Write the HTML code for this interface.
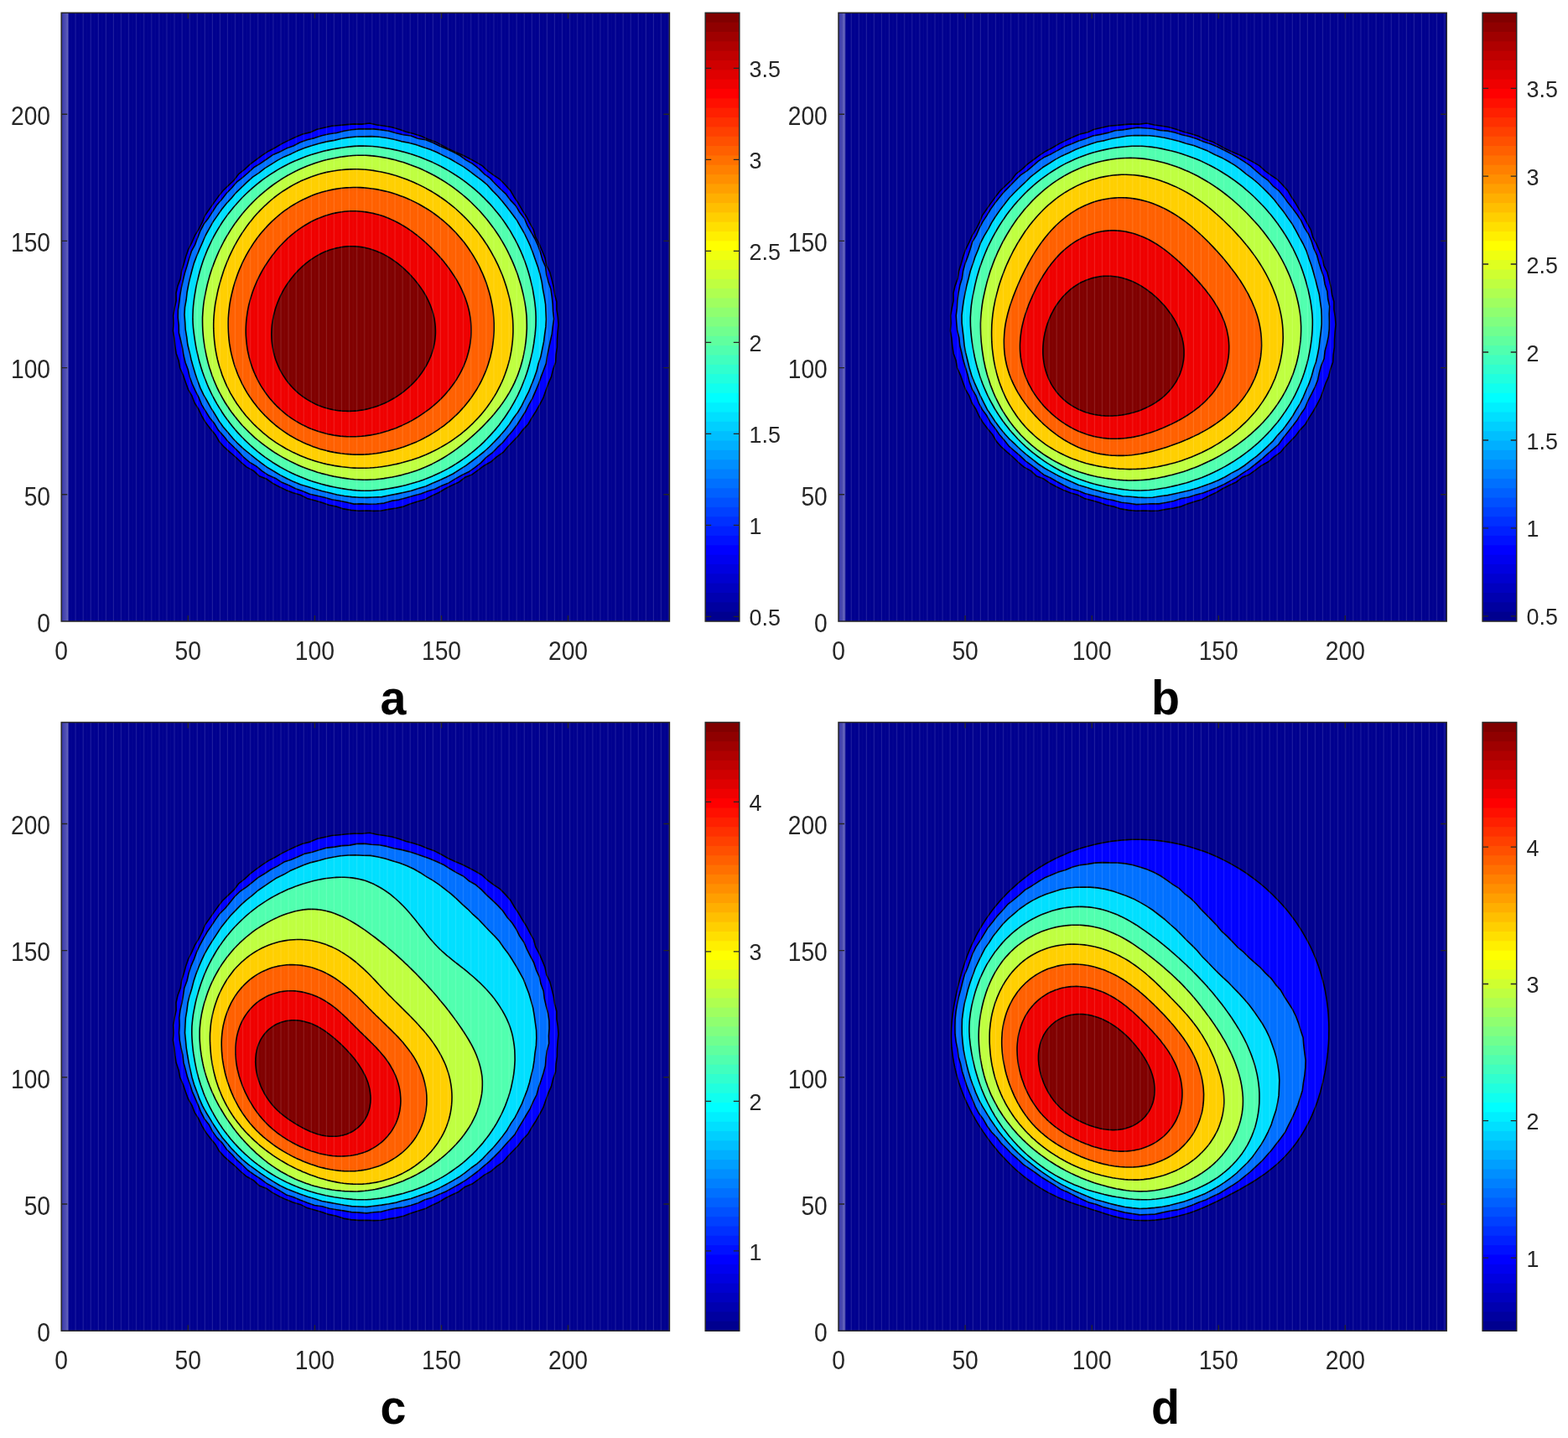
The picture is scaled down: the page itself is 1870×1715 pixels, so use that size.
<!DOCTYPE html>
<html lang="en"><head><meta charset="utf-8"><title>Contour plots a-d</title>
<style>html,body{margin:0;padding:0;background:#fff}body{width:1870px;height:1715px;overflow:hidden}svg{display:block}text{font-family:"Liberation Sans", Arial, Helvetica, sans-serif}.t{font-size:31px;fill:#262626}.c{font-size:28.3px;fill:#262626}.L{font-size:57px;font-weight:bold;fill:#000}</style></head><body>
<svg width="1870" height="1715" viewBox="0 0 1870 1715">
<defs>
<pattern id="streak" x="72.5" y="0" width="9.07" height="40" patternUnits="userSpaceOnUse"><rect x="8" y="0" width="0.8" height="40" fill="#fff" fill-opacity="0.17"/><rect x="3.5" y="0" width="0.6" height="40" fill="#fff" fill-opacity="0.03"/></pattern>
<linearGradient id="edge" x1="0" x2="1" y1="0" y2="0"><stop offset="0" stop-color="#fff" stop-opacity="0.2"/><stop offset="0.8" stop-color="#fff" stop-opacity="0.36"/><stop offset="1" stop-color="#fff" stop-opacity="0"/></linearGradient>
</defs>
<rect width="1870" height="1715" fill="#fff"/>
<g id="panel-a">
<clipPath id="clip-a"><rect x="73.2" y="15.3" width="725.1999999999999" height="725.7"/></clipPath>
<g clip-path="url(#clip-a)">
<rect x="73.2" y="15.3" width="725.1999999999999" height="725.7" fill="#00008F"/>
<path d="M208.8,412.5L210.1,421.4L213.1,430L214.7,439L218.4,447.3L221.3,455.8L224.4,464.3L228.9,472.2L232.2,480.7L237,488.3L240.8,496.5L245.5,504.3L251,511.5L256.8,518.5L261.3,526.4L267.3,533.2L274,539.2L280.9,545L287.4,551.3L294.3,557.1L302.3,561.4L309,567.7L317.5,571L324.9,576.2L332.9,580.5L341.1,584.4L349.5,587.7L358.2,590.2L366.3,594.4L375,596.7L383.7,599.3L392.2,602.2L401,604.1L409.7,606.9L418.6,608.4L427.7,609.2L436.7,609L445.7,609.4L454.8,609L463.7,607.4L472.6,606L481.4,604.1L489.8,600.7L498.4,598L507.1,595.4L515.1,591.3L523.3,587.5L531.1,582.8L539.1,578.8L547.3,575L554.5,569.3L563,565.9L570.3,560.7L577.5,555.2L585.5,550.8L592.3,544.9L599.8,539.7L605.7,532.8L611.9,526.3L618.2,519.8L623.6,512.6L629.8,506L634.3,498.1L639.2,490.5L643.6,482.7L647.8,474.7L650.8,466.2L653.8,457.7L657.5,449.4L659.6,440.6L662.6,432.1L663.1,423L664.4,414L664.5,405L665.1,396.1L666,387L665.3,378L663.9,369.1L663.9,360L661.5,351.2L660.2,342.2L658.1,333.4L655.8,324.7L651.8,316.5L650,307.6L646.6,299.2L643,290.9L638.7,282.9L636.3,274.1L631.9,266.2L627.7,258.2L622.9,250.6L618.4,242.8L613.4,235.3L608.8,227.4L602.8,220.7L596.5,214.2L589,209.1L581.8,203.8L575,197.6L567.2,193.1L559.2,188.8L551.2,184.8L542.8,181.2L534.6,177.5L526.7,173.1L518.7,168.9L510.2,165.9L501.9,162.3L493.3,159.5L484.5,157.3L476,154.3L467.4,151.8L458.5,150.3L449.5,149L440.7,147L431.6,148.1L422.6,147.9L413.6,148.6L404.7,149.5L395.7,150.3L386.9,152.3L378,154.2L369.7,157.9L360.9,160L352.5,163.5L344.3,167.4L336.2,171.4L328.4,176L320.4,180.2L312.8,185.1L305.5,190.5L298.3,195.9L291.6,202.1L284.5,207.7L279,215L272.5,221.2L265.9,227.4L260.3,234.6L255,241.9L249.9,249.3L244.6,256.7L241.2,265.2L237.2,273.2L232.4,280.9L228.8,289.2L224.7,297.3L221.7,305.8L219.3,314.5L216.6,323.1L215.3,332.1L212.1,340.6L210,349.5L210.1,358.6L208.2,367.5L206.7,376.4L207.1,385.5L206.4,394.5L207.9,403.5Z" fill="#0000FF" stroke="#000" stroke-width="1.6" stroke-linejoin="round"/>
<path d="M260.2,512.8L266.2,519.6L271.9,526.5L278.4,532.8L284.8,539.1L291,545.7L297.9,551.5L305.8,556.1L312.7,561.9L320.2,566.8L328.6,570.4L336.1,575.3L344.5,578.7L352.5,582.7L361,585.8L369.3,589.3L378.1,591.2L386.9,593.2L395.6,595.7L404.4,597.3L413.3,599L422.1,601.1L431.1,600.9L440.1,601.2L449.1,601L458.1,600.1L466.8,597.4L475.7,596.1L484.4,593.7L493,591.3L501.7,588.9L510.2,585.8L518.8,583.3L526.9,579.3L535.2,575.9L542.9,571.1L550.7,566.7L558.9,562.8L566.3,557.6L573.4,552.1L579.7,545.6L586.9,540.2L593.2,533.7L599.8,527.5L605.5,520.6L611.3,513.7L616.8,506.5L621.6,498.9L626.4,491.3L630.4,483.2L634.8,475.4L638.4,467.1L641.9,458.9L644.9,450.4L648.1,442L651.3,433.6L652.6,424.6L654.4,415.8L656.3,407L658.3,398.2L659.3,389.3L660.6,380.4L659.6,371.4L659.2,362.4L658.2,353.4L656.9,344.5L653.9,335.9L651.7,327.2L650.6,318.2L647,309.9L644.6,301.2L641.6,292.7L637.8,284.5L633.3,276.7L628.9,268.8L625.4,260.5L619.8,253.3L615.2,245.5L609,238.9L603.6,231.7L597,225.5L590.6,219.3L584.5,212.6L577.3,207.3L570.8,200.9L563.7,195.3L555.8,190.9L548.6,185.5L540.6,181.3L532.4,177.5L524.1,174L516,170L507.6,166.8L498.6,165.2L490.2,162L481.2,160.7L472.5,158.7L463.8,156.2L454.9,154.9L445.9,153.9L436.9,153.7L427.9,153.9L419,154.8L410.1,156.3L401.4,158.5L392.5,159.8L383.7,161.8L375.1,164.6L366.3,166.7L357.9,169.8L349.9,174L341.4,177.1L333.4,181.2L325.1,184.8L317.7,190L310.3,195.1L302.5,199.8L295.9,206L289.1,211.9L282,217.4L276.2,224.3L269.9,230.8L264.3,237.9L258.4,244.7L253.6,252.3L248.7,259.9L243.2,267.1L239,275L235.7,283.5L232.5,291.9L228.2,299.9L225.5,308.5L223,317.1L220.3,325.7L218.2,334.5L216.3,343.3L214.7,352.1L213.6,361.1L212.3,370L212.2,379L213.2,388L213.3,397L215.5,405.8L217.5,414.6L218.9,423.5L221,432.3L224.2,440.7L226.2,449.5L229.3,458L233,466.2L237.1,474.2L240.5,482.6L245.2,490.3L249.9,498L255.6,505Z" fill="#0070FF" stroke="#000" stroke-width="1.6" stroke-linejoin="round"/>
<path d="M260.9,501.7L266.1,509L271.9,515.8L277.7,522.7L283.9,529.2L290.5,535.3L297.5,541L304.4,546.7L311.5,552.1L318.7,557.4L326.5,562L334.2,566.6L342.2,570.8L350.3,574.6L358.6,577.9L367.2,580.5L375.8,583.3L384.4,585.7L393.1,587.8L401.8,590L410.7,591.5L419.6,592.6L428.5,593.3L437.5,593.4L446.4,593L455.4,592.6L464.2,590.8L473,589.1L481.8,587.2L490.6,585.2L499.1,582.5L507.7,579.9L515.9,576.2L524.2,572.7L532.3,569L540.4,565L547.9,560.1L555.5,555.4L562.7,550L569.8,544.6L576.9,539L583.5,533L589.8,526.6L596,520.1L601.9,513.3L607.4,506.2L612.3,498.7L617.7,491.5L622.3,483.7L626.2,475.6L630.3,467.7L633.7,459.4L637,451L640,442.6L642.1,433.8L644.9,425.3L646.7,416.5L648.5,407.7L649.6,398.8L650.9,389.9L651.4,380.9L651,372L650.6,363L649.2,354.1L647.5,345.3L646.2,336.4L644.2,327.7L641.7,319L638.7,310.6L635.7,302.1L632.6,293.7L628.8,285.5L624.9,277.5L620.3,269.7L615.9,261.9L610.5,254.7L605,247.6L599.4,240.6L593.6,233.8L587.3,227.4L581.3,220.7L574.4,214.9L567.2,209.6L560.1,204.1L552.8,198.9L545,194.4L537.3,189.8L529.3,185.9L521.3,181.8L513,178.3L504.5,175.4L496,172.5L487.3,170.2L478.5,168.6L469.8,166.3L461,164.5L452.1,163.3L443.1,162.6L434.1,162.9L425.2,163L416.2,163.9L407.3,165.2L398.6,167.4L389.8,168.9L381,171L372.4,173.4L363.8,176.3L355.5,179.5L347.4,183.4L339.1,186.9L331.1,191.1L323.6,195.9L315.9,200.6L308.9,206.2L301.4,211.2L294.7,217.2L288.2,223.4L281.7,229.6L275.9,236.4L269.8,243L264.2,250L259.1,257.4L253.9,264.8L249.6,272.6L245.2,280.5L241.7,288.7L238.1,296.9L234.6,305.2L231.4,313.6L229,322.3L226.7,331L224.8,339.7L223.1,348.5L222.1,357.5L220.5,366.3L220,375.3L220.7,384.3L221.2,393.2L222.7,402.1L223.8,411L226,419.7L227.9,428.5L230.3,437.1L232.9,445.7L235.8,454.2L238.9,462.6L242.7,470.7L247.2,478.5L251.5,486.3L256.3,494Z" fill="#00DFFF" stroke="#000" stroke-width="1.6" stroke-linejoin="round"/>
<path d="M261.8,486.7L264.6,491.2L267.6,495.7L270.7,500L273.9,504.3L277.2,508.5L280.6,512.6L284.2,516.6L287.8,520.5L291.5,524.3L295.4,528L299.3,531.7L303.3,535.2L307.4,538.6L311.6,541.9L315.9,545.1L320.3,548.2L324.8,551.2L329.3,554L333.9,556.8L338.6,559.4L343.3,561.9L348.1,564.3L353,566.5L357.9,568.6L362.9,570.6L367.9,572.5L373,574.2L378.1,575.8L383.2,577.3L388.4,578.6L393.7,579.9L398.9,581L404.2,582L409.5,582.9L414.8,583.7L420.2,584.4L425.6,584.9L430.9,585.2L436.3,585.3L441.7,585.2L447.1,584.8L452.5,584.3L457.9,583.6L463.2,582.8L468.5,581.9L473.8,580.9L479.1,579.7L484.3,578.5L489.5,577.1L494.7,575.6L499.8,574L504.9,572.2L509.9,570.3L514.9,568.3L519.8,566.1L524.7,563.8L529.5,561.4L534.2,558.9L538.9,556.2L543.5,553.4L548,550.5L552.5,547.4L556.8,544.3L561.1,541L565.3,537.6L569.4,534.1L573.4,530.6L577.3,526.9L581,523L584.7,519.1L588.3,515.1L591.8,511.1L595.2,506.9L598.4,502.6L601.6,498.3L604.6,493.8L607.5,489.3L610.3,484.7L612.9,480.1L615.5,475.3L617.9,470.6L620.2,465.7L622.3,460.8L624.3,455.8L626.2,450.8L628,445.8L629.6,440.7L631.1,435.6L632.4,430.4L633.7,425.2L634.8,420L635.8,414.7L636.7,409.4L637.4,404.2L638.1,398.9L638.6,393.5L639,388.2L639.1,382.9L639.1,377.5L638.9,372.2L638.5,366.8L637.9,361.5L637.2,356.2L636.3,351L635.4,345.7L634.3,340.5L633.1,335.4L631.8,330.2L630.3,325.1L628.8,320L627.1,315L625.3,310L623.4,305.1L621.3,300.2L619.1,295.4L616.8,290.6L614.4,285.9L611.8,281.3L609.2,276.7L606.4,272.2L603.5,267.8L600.5,263.4L597.4,259.1L594.2,255L590.8,250.9L587.4,246.8L583.9,242.9L580.2,239.1L576.5,235.3L572.7,231.7L568.8,228.1L564.8,224.7L560.7,221.3L556.6,218.1L552.3,214.9L548,211.9L543.6,209L539.1,206.1L534.6,203.4L530,200.8L525.4,198.3L520.6,195.9L515.9,193.6L511,191.5L506.1,189.5L501.2,187.5L496.2,185.8L491.1,184.1L486.1,182.6L480.9,181.1L475.8,179.8L470.6,178.6L465.4,177.5L460.1,176.6L454.8,175.7L449.5,175L444.2,174.5L438.8,174.2L433.5,174.1L428.1,174.1L422.7,174.4L417.4,174.9L412.1,175.5L406.8,176.2L401.5,177.1L396.2,178L391,179.1L385.8,180.3L380.6,181.7L375.4,183.2L370.3,184.8L365.2,186.5L360.2,188.4L355.3,190.4L350.4,192.6L345.5,194.8L340.7,197.2L336,199.8L331.3,202.4L326.8,205.2L322.2,208.1L317.8,211.1L313.5,214.2L309.2,217.5L305,220.8L300.9,224.3L297,227.9L293.1,231.5L289.3,235.3L285.6,239.2L282,243.2L278.5,247.2L275.1,251.4L271.8,255.6L268.7,259.9L265.6,264.3L262.7,268.8L259.9,273.4L257.2,278L254.6,282.7L252.2,287.5L249.9,292.3L247.7,297.2L245.6,302.1L243.7,307.1L241.9,312.1L240.2,317.2L238.7,322.3L237.3,327.5L236,332.7L234.8,337.9L233.7,343.1L232.8,348.4L231.9,353.7L231.2,359L230.6,364.3L230.2,369.7L230,375L229.9,380.4L230.1,385.7L230.5,391.1L231.1,396.4L231.8,401.7L232.6,407L233.5,412.3L234.5,417.5L235.7,422.7L236.9,427.9L238.3,433.1L239.8,438.2L241.4,443.3L243.2,448.3L245.1,453.3L247.1,458.3L249.2,463.2L251.5,468L253.9,472.8L256.4,477.5L259,482.1Z" fill="#50FFAF" stroke="#000" stroke-width="1.6" stroke-linejoin="round"/>
<path d="M261,466.7L263.4,471.2L265.9,475.6L268.4,480L271.2,484.3L274,488.5L276.9,492.6L280,496.6L283.2,500.6L286.5,504.4L289.8,508.2L293.3,511.8L296.9,515.4L300.6,518.9L304.3,522.3L308.2,525.5L312.1,528.7L316.1,531.7L320.2,534.7L324.3,537.5L328.5,540.3L332.8,542.9L337.1,545.4L341.5,547.8L346,550.1L350.5,552.3L355.1,554.4L359.7,556.4L364.3,558.3L369,560L373.7,561.6L378.5,563.2L383.3,564.6L388.2,565.8L393,567L397.9,568.1L402.8,569L407.8,569.9L412.8,570.6L417.7,571.2L422.7,571.7L427.7,572L432.8,572.2L437.8,572.2L442.8,572L447.8,571.7L452.8,571.2L457.8,570.6L462.8,569.8L467.7,569L472.6,568L477.5,566.9L482.4,565.6L487.2,564.3L492,562.8L496.7,561.2L501.4,559.4L506.1,557.5L510.7,555.5L515.2,553.4L519.6,551.1L524,548.8L528.4,546.2L532.6,543.6L536.8,540.9L540.9,538.1L545,535.2L548.9,532.2L552.8,529.1L556.7,525.9L560.5,522.7L564.2,519.4L567.9,516L571.5,512.6L575.1,509.1L578.6,505.5L582,501.9L585.4,498.2L588.7,494.4L591.9,490.5L595.1,486.6L598.1,482.5L601,478.4L603.8,474.1L606.5,469.8L609,465.4L611.4,460.9L613.6,456.3L615.7,451.6L617.6,446.9L619.3,442.1L620.9,437.2L622.3,432.3L623.6,427.4L624.7,422.4L625.6,417.4L626.4,412.4L627.1,407.3L627.6,402.3L628,397.2L628.3,392.1L628.3,387L628.2,381.9L628,376.9L627.5,371.8L626.9,366.8L626.1,361.8L625.2,356.8L624.2,351.9L623,347L621.8,342.1L620.4,337.3L618.9,332.5L617.4,327.8L615.7,323.1L613.9,318.5L612,313.9L610,309.3L607.9,304.8L605.8,300.4L603.5,296L601.1,291.6L598.6,287.4L596.1,283.1L593.4,279L590.6,274.9L587.8,270.9L584.8,266.9L581.8,263L578.7,259.2L575.5,255.5L572.2,251.8L568.8,248.2L565.3,244.7L561.8,241.3L558.2,237.9L554.5,234.6L550.7,231.5L546.8,228.4L542.9,225.4L538.9,222.4L534.8,219.6L530.7,216.9L526.4,214.3L522.2,211.7L517.8,209.3L513.4,207L508.9,204.7L504.4,202.6L499.8,200.6L495.2,198.7L490.5,196.9L485.8,195.2L481,193.6L476.1,192.2L471.3,190.8L466.3,189.6L461.4,188.5L456.4,187.6L451.4,186.7L446.3,186.1L441.2,185.6L436.1,185.3L431,185.2L425.9,185.3L420.8,185.5L415.7,186L410.7,186.6L405.6,187.3L400.6,188.2L395.6,189.2L390.6,190.3L385.6,191.6L380.7,193L375.9,194.5L371.1,196.2L366.3,198L361.6,200L357,202.1L352.4,204.3L347.9,206.6L343.4,209L339,211.6L334.7,214.3L330.5,217.1L326.3,220L322.3,223L318.3,226.1L314.4,229.3L310.5,232.6L306.8,236L303.2,239.5L299.6,243.1L296.2,246.8L292.8,250.5L289.6,254.3L286.4,258.2L283.4,262.2L280.4,266.3L277.6,270.4L274.8,274.6L272.2,278.9L269.6,283.2L267.2,287.5L264.9,292L262.6,296.5L260.5,301L258.5,305.6L256.6,310.2L254.8,314.9L253.1,319.6L251.5,324.3L250,329.1L248.7,333.9L247.4,338.8L246.3,343.7L245.2,348.6L244.3,353.5L243.4,358.5L242.7,363.5L242.2,368.5L241.8,373.5L241.5,378.6L241.5,383.6L241.6,388.7L241.8,393.7L242.2,398.8L242.7,403.8L243.4,408.8L244.1,413.8L245,418.8L246,423.7L247.2,428.7L248.4,433.6L249.8,438.5L251.4,443.3L253,448.1L254.8,452.8L256.8,457.5L258.8,462.1Z" fill="#BFFF40" stroke="#000" stroke-width="1.6" stroke-linejoin="round"/>
<path d="M260.6,433.5L261.9,438.1L263.4,442.6L264.9,447.1L266.7,451.5L268.5,455.9L270.5,460.3L272.6,464.5L274.8,468.8L277.2,472.9L279.7,477L282.2,481L285,484.9L287.8,488.8L290.7,492.5L293.7,496.2L296.9,499.8L300.1,503.3L303.4,506.7L306.9,510L310.4,513.2L314,516.4L317.7,519.4L321.4,522.3L325.3,525.1L329.2,527.8L333.2,530.4L337.2,532.8L341.3,535.2L345.5,537.4L349.7,539.6L354,541.6L358.3,543.5L362.7,545.3L367.1,547L371.6,548.5L376.1,549.9L380.6,551.3L385.1,552.5L389.7,553.6L394.3,554.5L398.9,555.4L403.5,556.1L408.2,556.8L412.8,557.3L417.5,557.8L422.2,558.1L426.8,558.3L431.5,558.3L436.2,558.2L440.9,558L445.5,557.7L450.2,557.3L454.8,556.7L459.4,556L464,555.2L468.6,554.3L473.1,553.4L477.7,552.3L482.2,551.1L486.7,549.8L491.1,548.5L495.6,547L500,545.4L504.3,543.7L508.6,541.9L512.9,540L517.1,538L521.3,535.9L525.4,533.6L529.5,531.3L533.5,528.9L537.5,526.3L541.4,523.7L545.2,520.9L549,518.1L552.6,515.1L556.2,512.1L559.8,508.9L563.2,505.7L566.5,502.3L569.8,498.9L572.9,495.4L576,491.7L579,488L581.8,484.2L584.5,480.4L587.2,476.4L589.7,472.4L592.1,468.3L594.3,464.1L596.5,459.9L598.5,455.6L600.4,451.2L602.1,446.8L603.7,442.3L605.2,437.8L606.5,433.3L607.7,428.7L608.7,424.1L609.6,419.4L610.3,414.8L610.9,410.1L611.4,405.4L611.7,400.7L611.9,396L611.9,391.3L611.8,386.7L611.6,382L611.2,377.3L610.6,372.7L610,368.1L609.2,363.5L608.3,359L607.3,354.5L606.1,350L604.9,345.6L603.6,341.2L602.2,336.9L600.7,332.6L599.1,328.3L597.4,324.1L595.6,320L593.8,315.9L591.8,311.8L589.8,307.8L587.6,303.8L585.4,299.9L583.1,296L580.8,292.2L578.3,288.5L575.8,284.8L573.2,281.2L570.5,277.6L567.7,274.1L564.8,270.7L561.9,267.3L558.9,264L555.9,260.8L552.7,257.6L549.5,254.5L546.2,251.5L542.9,248.5L539.4,245.7L535.9,242.9L532.4,240.2L528.8,237.5L525.1,235L521.4,232.5L517.6,230.1L513.7,227.8L509.8,225.6L505.8,223.4L501.8,221.4L497.7,219.4L493.6,217.6L489.4,215.8L485.2,214.1L480.9,212.5L476.6,211L472.3,209.6L467.9,208.3L463.4,207.1L459,206L454.5,205L449.9,204.2L445.3,203.4L440.7,202.8L436.1,202.3L431.5,202L426.8,201.8L422.1,201.8L417.5,201.9L412.8,202.1L408.1,202.5L403.4,203L398.8,203.7L394.2,204.5L389.5,205.4L385,206.5L380.4,207.8L375.9,209.2L371.5,210.7L367.1,212.4L362.7,214.2L358.4,216.1L354.2,218.2L350,220.4L345.9,222.7L341.9,225.2L337.9,227.7L334,230.4L330.2,233.2L326.5,236L322.9,239L319.4,242.1L315.9,245.3L312.6,248.5L309.3,251.9L306.1,255.3L303,258.8L300.1,262.4L297.2,266.1L294.4,269.8L291.7,273.6L289.1,277.4L286.6,281.3L284.1,285.3L281.8,289.3L279.6,293.4L277.5,297.5L275.5,301.6L273.5,305.8L271.7,310.1L270,314.3L268.3,318.6L266.7,323L265.3,327.4L263.9,331.8L262.6,336.2L261.4,340.7L260.2,345.2L259.2,349.7L258.3,354.3L257.4,358.8L256.6,363.4L256,368.1L255.5,372.7L255.1,377.4L254.8,382.1L254.7,386.7L254.7,391.4L254.9,396.1L255.2,400.9L255.6,405.6L256.1,410.2L256.7,414.9L257.5,419.6L258.4,424.3L259.4,428.9Z" fill="#FFCF00" stroke="#000" stroke-width="1.6" stroke-linejoin="round"/>
<path d="M275.9,421.9L276.9,426L278,430.1L279.2,434.2L280.5,438.2L282,442.3L283.5,446.2L285.2,450.2L287,454L288.8,457.9L290.8,461.7L292.9,465.4L295.1,469.1L297.5,472.7L299.9,476.2L302.4,479.7L305,483.1L307.7,486.4L310.5,489.7L313.3,492.8L316.3,495.9L319.4,498.9L322.5,501.9L325.7,504.7L329,507.5L332.4,510.1L335.8,512.7L339.3,515.1L342.9,517.5L346.5,519.8L350.2,521.9L354,524L357.8,525.9L361.6,527.8L365.5,529.5L369.5,531.1L373.5,532.7L377.5,534.1L381.6,535.4L385.7,536.5L389.8,537.6L394,538.6L398.1,539.4L402.3,540.1L406.5,540.7L410.7,541.2L415,541.6L419.2,541.9L423.4,542.1L427.7,542.1L431.9,542.1L436.1,541.9L440.3,541.6L444.5,541.2L448.7,540.7L452.9,540.1L457,539.3L461.1,538.5L465.2,537.6L469.3,536.6L473.3,535.5L477.3,534.3L481.3,533L485.3,531.6L489.2,530.1L493,528.5L496.9,526.9L500.7,525.1L504.4,523.2L508.1,521.3L511.8,519.3L515.3,517.1L518.9,514.9L522.4,512.6L525.8,510.2L529.2,507.8L532.5,505.2L535.7,502.6L538.8,499.8L541.9,497L545,494.1L547.9,491.2L550.7,488.1L553.5,485L556.2,481.8L558.8,478.5L561.3,475.2L563.7,471.8L566,468.3L568.3,464.8L570.4,461.2L572.4,457.5L574.3,453.8L576.1,450L577.8,446.2L579.4,442.4L580.8,438.5L582.2,434.5L583.4,430.6L584.6,426.6L585.5,422.5L586.4,418.5L587.2,414.4L587.8,410.3L588.3,406.2L588.7,402.1L589,398L589.2,393.9L589.2,389.8L589.2,385.6L589,381.5L588.7,377.5L588.3,373.4L587.8,369.3L587.2,365.3L586.4,361.3L585.6,357.3L584.7,353.4L583.7,349.5L582.5,345.6L581.3,341.7L580.1,337.9L578.7,334.1L577.2,330.4L575.7,326.7L574,323.1L572.3,319.4L570.6,315.9L568.7,312.3L566.7,308.9L564.7,305.4L562.6,302.1L560.4,298.7L558.2,295.5L555.9,292.2L553.5,289.1L551,286L548.4,282.9L545.8,279.9L543.2,277L540.4,274.2L537.6,271.4L534.7,268.6L531.8,266L528.8,263.4L525.7,260.8L522.6,258.4L519.4,256L516.2,253.7L512.9,251.4L509.5,249.3L506.1,247.2L502.7,245.2L499.2,243.2L495.6,241.4L492,239.6L488.4,237.9L484.7,236.3L481,234.8L477.2,233.4L473.4,232L469.6,230.8L465.7,229.6L461.8,228.5L457.8,227.6L453.8,226.7L449.8,225.9L445.8,225.2L441.7,224.7L437.6,224.2L433.5,223.9L429.4,223.6L425.3,223.5L421.2,223.5L417,223.7L412.9,223.9L408.8,224.3L404.7,224.8L400.6,225.4L396.5,226.1L392.4,227L388.3,228L384.3,229.1L380.3,230.3L376.4,231.6L372.5,233.1L368.6,234.7L364.8,236.4L361,238.2L357.3,240.1L353.7,242.1L350.1,244.2L346.5,246.4L343,248.8L339.6,251.2L336.3,253.7L333,256.3L329.9,259L326.7,261.8L323.7,264.6L320.7,267.6L317.9,270.6L315.1,273.7L312.4,276.8L309.7,280.1L307.2,283.3L304.7,286.7L302.3,290.1L300.1,293.6L297.9,297.1L295.8,300.7L293.7,304.3L291.8,308L289.9,311.7L288.2,315.5L286.5,319.3L284.9,323.1L283.4,327L282,330.9L280.7,334.8L279.5,338.8L278.3,342.8L277.3,346.8L276.3,350.9L275.4,355L274.6,359.1L273.9,363.2L273.4,367.3L272.9,371.5L272.5,375.7L272.2,379.9L272.1,384.1L272.1,388.3L272.2,392.5L272.4,396.7L272.7,400.9L273.1,405.2L273.6,409.4L274.3,413.5L275,417.7Z" fill="#FF6000" stroke="#000" stroke-width="1.6" stroke-linejoin="round"/>
<path d="M561.3,382.1L560.9,378.7L560.3,375.3L559.7,372L558.9,368.6L558.1,365.4L557.1,362.1L556.1,358.9L555,355.8L553.8,352.7L552.5,349.6L551.2,346.6L549.8,343.6L548.3,340.6L546.8,337.8L545.2,334.9L543.5,332.1L541.8,329.4L540,326.7L538.2,324L536.4,321.4L534.5,318.8L532.6,316.3L530.6,313.8L528.7,311.3L526.6,308.9L524.6,306.5L522.5,304.2L520.4,301.9L518.2,299.6L516,297.4L513.8,295.1L511.6,293L509.3,290.8L506.9,288.7L504.6,286.6L502.2,284.5L499.7,282.5L497.3,280.5L494.7,278.6L492.2,276.7L489.6,274.8L486.9,273L484.2,271.2L481.4,269.5L478.6,267.9L475.8,266.3L472.9,264.7L469.9,263.3L466.9,261.9L463.9,260.5L460.8,259.3L457.7,258.1L454.5,257L451.3,256.1L448,255.2L444.8,254.4L441.4,253.7L438.1,253.1L434.7,252.6L431.3,252.2L427.9,252L424.5,251.8L421.1,251.8L417.6,251.8L414.2,252L410.8,252.3L407.4,252.7L404,253.2L400.6,253.9L397.2,254.6L393.8,255.5L390.5,256.4L387.2,257.5L384,258.7L380.8,259.9L377.6,261.3L374.4,262.8L371.3,264.3L368.3,266L365.3,267.7L362.4,269.5L359.5,271.4L356.6,273.4L353.8,275.4L351.1,277.5L348.4,279.7L345.8,281.9L343.2,284.2L340.7,286.6L338.3,289L335.9,291.5L333.5,294L331.3,296.6L329,299.2L326.9,301.9L324.8,304.6L322.7,307.4L320.7,310.2L318.8,313.1L316.9,316L315.1,318.9L313.3,321.9L311.6,325L310,328L308.4,331.1L306.9,334.3L305.5,337.5L304.1,340.7L302.8,344L301.6,347.3L300.5,350.6L299.4,354L298.4,357.4L297.5,360.9L296.6,364.3L295.9,367.8L295.2,371.3L294.7,374.9L294.2,378.5L293.8,382.1L293.5,385.7L293.3,389.3L293.2,392.9L293.2,396.6L293.3,400.2L293.6,403.9L293.9,407.5L294.3,411.2L294.8,414.8L295.4,418.5L296.2,422.1L297,425.7L298,429.3L299,432.8L300.2,436.4L301.4,439.9L302.8,443.4L304.3,446.8L305.9,450.2L307.5,453.5L309.3,456.8L311.2,460.1L313.2,463.3L315.3,466.4L317.4,469.5L319.7,472.5L322,475.4L324.5,478.3L327,481.1L329.6,483.8L332.3,486.4L335.1,489L337.9,491.4L340.8,493.8L343.8,496.1L346.9,498.3L350,500.4L353.2,502.4L356.4,504.3L359.7,506.1L363.1,507.8L366.4,509.4L369.9,510.9L373.3,512.3L376.8,513.6L380.4,514.8L384,515.8L387.5,516.8L391.2,517.7L394.8,518.4L398.4,519.1L402.1,519.6L405.8,520.1L409.4,520.4L413.1,520.6L416.8,520.7L420.4,520.8L424.1,520.7L427.7,520.5L431.3,520.3L434.9,519.9L438.5,519.4L442.1,518.9L445.6,518.2L449.2,517.5L452.7,516.7L456.1,515.8L459.5,514.8L463,513.8L466.3,512.6L469.7,511.4L473,510.2L476.2,508.8L479.4,507.4L482.6,505.9L485.8,504.4L488.9,502.7L492,501.1L495,499.3L498,497.5L500.9,495.6L503.8,493.7L506.7,491.7L509.5,489.7L512.3,487.6L515,485.4L517.7,483.1L520.3,480.9L522.9,478.5L525.4,476.1L527.8,473.6L530.2,471.1L532.5,468.5L534.8,465.8L537,463.1L539.1,460.3L541.1,457.5L543.1,454.6L545,451.7L546.8,448.7L548.5,445.7L550.1,442.6L551.7,439.4L553.1,436.3L554.4,433L555.7,429.8L556.8,426.5L557.8,423.1L558.7,419.8L559.5,416.4L560.2,413L560.8,409.6L561.2,406.1L561.6,402.7L561.8,399.2L561.9,395.8L561.9,392.3L561.8,388.9L561.6,385.5Z" fill="#EF0000" stroke="#000" stroke-width="1.6" stroke-linejoin="round"/>
<path d="M518.7,384.9L518.4,382.5L518,380.2L517.5,377.9L517,375.6L516.4,373.3L515.7,371.1L515,368.9L514.2,366.7L513.4,364.5L512.5,362.4L511.6,360.3L510.6,358.2L509.6,356.2L508.6,354.1L507.5,352.2L506.4,350.2L505.2,348.3L504,346.4L502.8,344.6L501.5,342.7L500.2,340.9L498.9,339.2L497.6,337.4L496.2,335.7L494.8,334L493.4,332.3L491.9,330.7L490.5,329.1L489,327.5L487.5,325.9L485.9,324.4L484.3,322.9L482.8,321.4L481.1,319.9L479.5,318.4L477.8,317L476.1,315.6L474.4,314.2L472.6,312.9L470.8,311.6L469,310.3L467.1,309L465.3,307.8L463.3,306.6L461.4,305.5L459.4,304.4L457.4,303.3L455.3,302.3L453.2,301.3L451.1,300.4L449,299.5L446.8,298.7L444.6,297.9L442.4,297.2L440.1,296.6L437.8,296L435.5,295.4L433.2,295L430.9,294.6L428.5,294.3L426.1,294.1L423.7,293.9L421.3,293.8L418.9,293.7L416.5,293.8L414.1,293.9L411.7,294.1L409.3,294.4L406.8,294.7L404.4,295.2L402.1,295.6L399.7,296.2L397.3,296.9L395,297.6L392.6,298.3L390.3,299.2L388,300.1L385.8,301.1L383.6,302.1L381.3,303.2L379.2,304.4L377,305.6L374.9,306.9L372.8,308.3L370.8,309.7L368.7,311.1L366.8,312.6L364.8,314.2L362.9,315.8L361,317.4L359.2,319.1L357.4,320.8L355.6,322.6L353.9,324.5L352.2,326.3L350.5,328.2L348.9,330.2L347.3,332.2L345.8,334.2L344.3,336.3L342.8,338.4L341.4,340.5L340,342.7L338.7,344.9L337.4,347.2L336.2,349.5L335,351.8L333.9,354.2L332.8,356.6L331.8,359L330.8,361.4L329.9,363.9L329,366.5L328.2,369L327.5,371.6L326.8,374.2L326.2,376.8L325.7,379.5L325.2,382.2L324.8,384.9L324.4,387.6L324.2,390.4L324,393.1L323.9,395.9L323.8,398.7L323.9,401.5L324,404.3L324.2,407L324.5,409.8L324.9,412.6L325.4,415.4L325.9,418.2L326.5,421L327.2,423.8L328,426.5L328.9,429.2L329.9,431.9L331,434.6L332.1,437.2L333.3,439.8L334.7,442.4L336,444.9L337.5,447.4L339.1,449.8L340.7,452.2L342.4,454.6L344.2,456.9L346.1,459.1L348,461.2L350,463.4L352.1,465.4L354.2,467.4L356.4,469.3L358.7,471.1L361,472.8L363.4,474.5L365.8,476.1L368.3,477.6L370.8,479L373.3,480.4L375.9,481.7L378.6,482.9L381.2,483.9L383.9,485L386.7,485.9L389.4,486.7L392.2,487.5L394.9,488.1L397.7,488.7L400.5,489.2L403.3,489.6L406.2,489.9L409,490.2L411.8,490.3L414.6,490.4L417.4,490.4L420.2,490.3L423,490.1L425.7,489.9L428.5,489.5L431.2,489.1L433.9,488.7L436.6,488.1L439.3,487.5L441.9,486.8L444.5,486.1L447.1,485.3L449.6,484.4L452.2,483.5L454.6,482.5L457.1,481.5L459.5,480.4L461.9,479.3L464.2,478.1L466.6,476.8L468.8,475.5L471.1,474.2L473.3,472.8L475.4,471.4L477.6,469.9L479.6,468.4L481.7,466.8L483.7,465.2L485.6,463.5L487.5,461.9L489.4,460.1L491.2,458.4L493,456.6L494.8,454.7L496.5,452.9L498.1,450.9L499.7,449L501.2,447L502.7,445L504.1,442.9L505.5,440.9L506.8,438.7L508.1,436.6L509.3,434.4L510.4,432.2L511.5,430L512.5,427.7L513.5,425.4L514.4,423.1L515.2,420.8L515.9,418.5L516.6,416.1L517.2,413.7L517.7,411.3L518.2,408.9L518.6,406.5L518.9,404.1L519.1,401.7L519.3,399.3L519.4,396.9L519.4,394.4L519.3,392L519.2,389.6L519,387.3Z" fill="#800000" stroke="#000" stroke-width="1.6" stroke-linejoin="round"/>
<rect x="73.2" y="15.3" width="725.1999999999999" height="725.7" fill="url(#streak)"/>
<rect x="73.2" y="15.3" width="9" height="725.7" fill="url(#edge)"/>
</g>
<text transform="translate(73.2,786.7) scale(0.91,1)" text-anchor="middle" class="t">0</text>
<path d="M224.3,741.0 v-7 M224.3,15.3 v7" stroke="#262626" stroke-width="1.4" fill="none"/>
<text transform="translate(224.3,786.7) scale(0.91,1)" text-anchor="middle" class="t">50</text>
<path d="M375.4,741.0 v-7 M375.4,15.3 v7" stroke="#262626" stroke-width="1.4" fill="none"/>
<text transform="translate(375.4,786.7) scale(0.91,1)" text-anchor="middle" class="t">100</text>
<path d="M526.5,741.0 v-7 M526.5,15.3 v7" stroke="#262626" stroke-width="1.4" fill="none"/>
<text transform="translate(526.5,786.7) scale(0.91,1)" text-anchor="middle" class="t">150</text>
<path d="M677.5,741.0 v-7 M677.5,15.3 v7" stroke="#262626" stroke-width="1.4" fill="none"/>
<text transform="translate(677.5,786.7) scale(0.91,1)" text-anchor="middle" class="t">200</text>
<text transform="translate(60,753.8) scale(0.91,1)" text-anchor="end" class="t">0</text>
<path d="M73.2,589.8 h7 M798.4,589.8 h-7" stroke="#262626" stroke-width="1.4" fill="none"/>
<text transform="translate(60,602.6) scale(0.91,1)" text-anchor="end" class="t">50</text>
<path d="M73.2,438.6 h7 M798.4,438.6 h-7" stroke="#262626" stroke-width="1.4" fill="none"/>
<text transform="translate(60,451.4) scale(0.91,1)" text-anchor="end" class="t">100</text>
<path d="M73.2,287.4 h7 M798.4,287.4 h-7" stroke="#262626" stroke-width="1.4" fill="none"/>
<text transform="translate(60,300.2) scale(0.91,1)" text-anchor="end" class="t">150</text>
<path d="M73.2,136.2 h7 M798.4,136.2 h-7" stroke="#262626" stroke-width="1.4" fill="none"/>
<text transform="translate(60,149.1) scale(0.91,1)" text-anchor="end" class="t">200</text>
<rect x="73.2" y="15.3" width="725.1999999999999" height="725.7" fill="none" stroke="#262626" stroke-width="1.5"/>
<rect x="841.2" y="15.30" width="40.59999999999991" height="725.70" fill="#800000"/>
<rect x="841.2" y="26.64" width="40.59999999999991" height="714.36" fill="#8F0000"/>
<rect x="841.2" y="37.98" width="40.59999999999991" height="703.02" fill="#9F0000"/>
<rect x="841.2" y="49.32" width="40.59999999999991" height="691.68" fill="#AF0000"/>
<rect x="841.2" y="60.66" width="40.59999999999991" height="680.34" fill="#BF0000"/>
<rect x="841.2" y="72.00" width="40.59999999999991" height="669.00" fill="#CF0000"/>
<rect x="841.2" y="83.33" width="40.59999999999991" height="657.67" fill="#DF0000"/>
<rect x="841.2" y="94.67" width="40.59999999999991" height="646.33" fill="#EF0000"/>
<rect x="841.2" y="106.01" width="40.59999999999991" height="634.99" fill="#FF0000"/>
<rect x="841.2" y="117.35" width="40.59999999999991" height="623.65" fill="#FF1000"/>
<rect x="841.2" y="128.69" width="40.59999999999991" height="612.31" fill="#FF2000"/>
<rect x="841.2" y="140.03" width="40.59999999999991" height="600.97" fill="#FF3000"/>
<rect x="841.2" y="151.37" width="40.59999999999991" height="589.63" fill="#FF4000"/>
<rect x="841.2" y="162.71" width="40.59999999999991" height="578.29" fill="#FF5000"/>
<rect x="841.2" y="174.05" width="40.59999999999991" height="566.95" fill="#FF6000"/>
<rect x="841.2" y="185.39" width="40.59999999999991" height="555.61" fill="#FF7000"/>
<rect x="841.2" y="196.72" width="40.59999999999991" height="544.28" fill="#FF8000"/>
<rect x="841.2" y="208.06" width="40.59999999999991" height="532.94" fill="#FF8F00"/>
<rect x="841.2" y="219.40" width="40.59999999999991" height="521.60" fill="#FF9F00"/>
<rect x="841.2" y="230.74" width="40.59999999999991" height="510.26" fill="#FFAF00"/>
<rect x="841.2" y="242.08" width="40.59999999999991" height="498.92" fill="#FFBF00"/>
<rect x="841.2" y="253.42" width="40.59999999999991" height="487.58" fill="#FFCF00"/>
<rect x="841.2" y="264.76" width="40.59999999999991" height="476.24" fill="#FFDF00"/>
<rect x="841.2" y="276.10" width="40.59999999999991" height="464.90" fill="#FFEF00"/>
<rect x="841.2" y="287.44" width="40.59999999999991" height="453.56" fill="#FFFF00"/>
<rect x="841.2" y="298.78" width="40.59999999999991" height="442.22" fill="#EFFF10"/>
<rect x="841.2" y="310.12" width="40.59999999999991" height="430.88" fill="#DFFF20"/>
<rect x="841.2" y="321.45" width="40.59999999999991" height="419.55" fill="#CFFF30"/>
<rect x="841.2" y="332.79" width="40.59999999999991" height="408.21" fill="#BFFF40"/>
<rect x="841.2" y="344.13" width="40.59999999999991" height="396.87" fill="#AFFF50"/>
<rect x="841.2" y="355.47" width="40.59999999999991" height="385.53" fill="#9FFF60"/>
<rect x="841.2" y="366.81" width="40.59999999999991" height="374.19" fill="#8FFF70"/>
<rect x="841.2" y="378.15" width="40.59999999999991" height="362.85" fill="#80FF80"/>
<rect x="841.2" y="389.49" width="40.59999999999991" height="351.51" fill="#70FF8F"/>
<rect x="841.2" y="400.83" width="40.59999999999991" height="340.17" fill="#60FF9F"/>
<rect x="841.2" y="412.17" width="40.59999999999991" height="328.83" fill="#50FFAF"/>
<rect x="841.2" y="423.51" width="40.59999999999991" height="317.49" fill="#40FFBF"/>
<rect x="841.2" y="434.85" width="40.59999999999991" height="306.15" fill="#30FFCF"/>
<rect x="841.2" y="446.18" width="40.59999999999991" height="294.82" fill="#20FFDF"/>
<rect x="841.2" y="457.52" width="40.59999999999991" height="283.48" fill="#10FFEF"/>
<rect x="841.2" y="468.86" width="40.59999999999991" height="272.14" fill="#00FFFF"/>
<rect x="841.2" y="480.20" width="40.59999999999991" height="260.80" fill="#00EFFF"/>
<rect x="841.2" y="491.54" width="40.59999999999991" height="249.46" fill="#00DFFF"/>
<rect x="841.2" y="502.88" width="40.59999999999991" height="238.12" fill="#00CFFF"/>
<rect x="841.2" y="514.22" width="40.59999999999991" height="226.78" fill="#00BFFF"/>
<rect x="841.2" y="525.56" width="40.59999999999991" height="215.44" fill="#00AFFF"/>
<rect x="841.2" y="536.90" width="40.59999999999991" height="204.10" fill="#009FFF"/>
<rect x="841.2" y="548.24" width="40.59999999999991" height="192.76" fill="#008FFF"/>
<rect x="841.2" y="559.58" width="40.59999999999991" height="181.42" fill="#0080FF"/>
<rect x="841.2" y="570.91" width="40.59999999999991" height="170.09" fill="#0070FF"/>
<rect x="841.2" y="582.25" width="40.59999999999991" height="158.75" fill="#0060FF"/>
<rect x="841.2" y="593.59" width="40.59999999999991" height="147.41" fill="#0050FF"/>
<rect x="841.2" y="604.93" width="40.59999999999991" height="136.07" fill="#0040FF"/>
<rect x="841.2" y="616.27" width="40.59999999999991" height="124.73" fill="#0030FF"/>
<rect x="841.2" y="627.61" width="40.59999999999991" height="113.39" fill="#0020FF"/>
<rect x="841.2" y="638.95" width="40.59999999999991" height="102.05" fill="#0010FF"/>
<rect x="841.2" y="650.29" width="40.59999999999991" height="90.71" fill="#0000FF"/>
<rect x="841.2" y="661.63" width="40.59999999999991" height="79.37" fill="#0000EF"/>
<rect x="841.2" y="672.97" width="40.59999999999991" height="68.03" fill="#0000DF"/>
<rect x="841.2" y="684.30" width="40.59999999999991" height="56.70" fill="#0000CF"/>
<rect x="841.2" y="695.64" width="40.59999999999991" height="45.36" fill="#0000BF"/>
<rect x="841.2" y="706.98" width="40.59999999999991" height="34.02" fill="#0000AF"/>
<rect x="841.2" y="718.32" width="40.59999999999991" height="22.68" fill="#00009F"/>
<rect x="841.2" y="729.66" width="40.59999999999991" height="11.34" fill="#00008F"/>
<path d="M841.2,735.4 h7 M881.8,735.4 h-7" stroke="#262626" stroke-width="1.3" fill="none"/>
<text transform="translate(893.6,746) scale(0.95,1)" class="c">0.5</text>
<path d="M841.2,626.4 h7 M881.8,626.4 h-7" stroke="#262626" stroke-width="1.3" fill="none"/>
<text transform="translate(893.6,637) scale(0.95,1)" class="c">1</text>
<path d="M841.2,517.4 h7 M881.8,517.4 h-7" stroke="#262626" stroke-width="1.3" fill="none"/>
<text transform="translate(893.6,528) scale(0.95,1)" class="c">1.5</text>
<path d="M841.2,408.4 h7 M881.8,408.4 h-7" stroke="#262626" stroke-width="1.3" fill="none"/>
<text transform="translate(893.6,419) scale(0.95,1)" class="c">2</text>
<path d="M841.2,299.4 h7 M881.8,299.4 h-7" stroke="#262626" stroke-width="1.3" fill="none"/>
<text transform="translate(893.6,310) scale(0.95,1)" class="c">2.5</text>
<path d="M841.2,190.4 h7 M881.8,190.4 h-7" stroke="#262626" stroke-width="1.3" fill="none"/>
<text transform="translate(893.6,201) scale(0.95,1)" class="c">3</text>
<path d="M841.2,81.4 h7 M881.8,81.4 h-7" stroke="#262626" stroke-width="1.3" fill="none"/>
<text transform="translate(893.6,92) scale(0.95,1)" class="c">3.5</text>
<rect x="841.2" y="15.3" width="40.59999999999991" height="725.7" fill="none" stroke="#262626" stroke-width="1.5"/>
<text transform="translate(469,852) scale(0.975,1)" text-anchor="middle" class="L">a</text>
</g>
<g id="panel-b">
<clipPath id="clip-b"><rect x="1000.0" y="15.3" width="725.2" height="725.7"/></clipPath>
<g clip-path="url(#clip-b)">
<rect x="1000.0" y="15.3" width="725.2" height="725.7" fill="#00008F"/>
<path d="M1135.8,412.5L1137.1,421.4L1140.1,430L1141.7,439L1145.4,447.3L1148.3,455.8L1151.4,464.3L1155.9,472.2L1159.2,480.7L1164,488.3L1167.8,496.5L1172.5,504.3L1178,511.5L1183.8,518.5L1188.3,526.4L1194.3,533.2L1201,539.2L1207.9,545L1214.4,551.3L1221.3,557.1L1229.3,561.4L1236,567.7L1244.5,571L1251.9,576.2L1259.9,580.5L1268.1,584.4L1276.5,587.7L1285.2,590.2L1293.3,594.4L1302,596.7L1310.7,599.3L1319.2,602.2L1328,604.1L1336.7,606.9L1345.6,608.4L1354.7,609.2L1363.7,609L1372.7,609.4L1381.8,609L1390.7,607.4L1399.6,606L1408.4,604.1L1416.8,600.7L1425.4,598L1434.1,595.4L1442.1,591.3L1450.3,587.5L1458.1,582.8L1466.1,578.8L1474.3,575L1481.5,569.3L1490,565.9L1497.3,560.7L1504.5,555.2L1512.5,550.8L1519.3,544.9L1526.8,539.7L1532.7,532.8L1538.9,526.3L1545.2,519.8L1550.6,512.6L1556.8,506L1561.3,498.1L1566.2,490.5L1570.6,482.7L1574.8,474.7L1577.8,466.2L1580.8,457.7L1584.5,449.4L1586.6,440.6L1589.6,432.1L1590.1,423L1591.4,414L1591.5,405L1592.1,396.1L1593,387L1592.3,378L1590.9,369.1L1590.9,360L1588.5,351.2L1587.2,342.2L1585.1,333.4L1582.8,324.7L1578.8,316.5L1577,307.6L1573.6,299.2L1570,290.9L1565.7,282.9L1563.3,274.1L1558.9,266.2L1554.7,258.2L1549.9,250.6L1545.4,242.8L1540.4,235.3L1535.8,227.4L1529.8,220.7L1523.5,214.2L1516,209.1L1508.8,203.8L1502,197.6L1494.2,193.1L1486.2,188.8L1478.2,184.8L1469.8,181.2L1461.6,177.5L1453.7,173.1L1445.7,168.9L1437.2,165.9L1428.9,162.3L1420.3,159.5L1411.5,157.3L1403,154.3L1394.4,151.8L1385.5,150.3L1376.5,149L1367.7,147L1358.6,148.1L1349.6,147.9L1340.6,148.6L1331.7,149.5L1322.7,150.3L1313.9,152.3L1305,154.2L1296.7,157.9L1287.9,160L1279.5,163.5L1271.3,167.4L1263.2,171.4L1255.4,176L1247.4,180.2L1239.8,185.1L1232.5,190.5L1225.3,195.9L1218.6,202.1L1211.5,207.7L1206,215L1199.5,221.2L1192.9,227.4L1187.3,234.6L1182,241.9L1176.9,249.3L1171.6,256.7L1168.2,265.2L1164.2,273.2L1159.4,280.9L1155.8,289.2L1151.7,297.3L1148.7,305.8L1146.3,314.5L1143.6,323.1L1142.3,332.1L1139.1,340.6L1137,349.5L1137.1,358.6L1135.2,367.5L1133.7,376.4L1134.1,385.5L1133.4,394.5L1134.9,403.5Z" fill="#0000FF" stroke="#000" stroke-width="1.6" stroke-linejoin="round"/>
<path d="M1144.7,412L1146.9,420.8L1148.8,429.6L1151.4,438.2L1154,446.8L1156.2,455.6L1159.3,464L1163.9,471.8L1167.1,480.3L1171.3,488.2L1176.7,495.5L1181,503.4L1186.5,510.5L1191.6,517.9L1197.5,524.7L1203,531.8L1209.8,537.8L1216.6,543.7L1223.1,549.9L1230.4,555.2L1237.6,560.5L1244.7,566.2L1252.9,570L1260.7,574.5L1268.6,578.8L1276.7,582.8L1285.5,585L1293.8,588.5L1302.4,590.8L1311.2,592.9L1319.9,595.3L1328.7,596.9L1337.4,599.3L1346.4,600.2L1355.2,601.6L1364.2,601.2L1373.2,600.8L1382.2,600.9L1391.1,599.3L1399.9,597.5L1408.5,594.5L1417.4,593L1425.9,590.3L1434.7,588L1443,584.7L1451.4,581.4L1459.6,577.7L1467.5,573.4L1475.3,569L1482.7,563.9L1490.3,559.1L1497.4,553.5L1504.4,548L1511.1,541.9L1517.9,536.1L1524.7,530.2L1530,522.8L1535.6,515.8L1541.1,508.7L1546.6,501.6L1551.3,493.9L1556.4,486.5L1559.8,478.2L1564,470.2L1568,462.1L1571.4,453.8L1573.3,444.9L1575.6,436.2L1579.1,427.8L1580.1,418.8L1582.4,410.1L1584.3,401.3L1585.3,392.4L1585.4,383.4L1585.2,374.4L1585.7,365.4L1583.7,356.5L1582.9,347.5L1580.1,338.9L1578.6,330L1575.6,321.5L1572.9,313L1570.6,304.3L1566.8,296.1L1564.1,287.5L1560.6,279.2L1555.7,271.6L1551.9,263.4L1546.9,255.8L1541.6,248.6L1536,241.6L1530.8,234.2L1525,227.3L1517.9,221.6L1512,214.8L1504.7,209.5L1497.8,203.7L1491.1,197.7L1483.7,192.6L1476,187.8L1468.2,183.4L1460.3,179.2L1452.2,175.2L1444,171.7L1435.4,168.9L1427.1,165.4L1418.5,162.7L1409.7,160.7L1401.2,158L1392.4,156.1L1383.3,155.4L1374.6,153.5L1365.6,152.8L1356.6,152.1L1347.6,153.4L1338.8,154.9L1329.8,155.7L1321.1,158.4L1312.4,160.4L1303.5,162L1295.1,165.3L1286.5,168L1278.2,171.5L1269.8,174.7L1261.9,179.1L1254,183.4L1245.8,187.2L1238.3,192.2L1231.4,198.1L1224.6,203.9L1217.1,208.9L1210.7,215.3L1204.4,221.7L1198.1,228.1L1192.3,235L1186.7,242.1L1181.5,249.4L1176.8,257.1L1171.9,264.6L1167.7,272.6L1164.2,280.9L1159.6,288.7L1157,297.4L1154.2,305.9L1151,314.3L1148.6,323L1147.3,331.9L1144.7,340.6L1143,349.4L1141.9,358.4L1141.4,367.4L1140.2,376.3L1140.8,385.3L1141.7,394.3L1143.8,403Z" fill="#0070FF" stroke="#000" stroke-width="1.6" stroke-linejoin="round"/>
<path d="M1150.1,412.1L1151.7,421L1153.9,429.8L1156,438.5L1158.6,447.2L1161.8,455.6L1165.5,463.8L1169.2,472.1L1173.2,480.1L1177.3,488.2L1182.3,495.7L1187.2,503.2L1192.6,510.5L1198.3,517.5L1204.4,524.2L1211,530.2L1217.5,536.5L1224.3,542.4L1231.4,547.9L1238.5,553.5L1246,558.5L1253.9,562.9L1261.8,567.2L1269.9,571.1L1278.2,574.7L1286.4,578.5L1295,581.1L1303.6,583.7L1312.3,586.1L1321.1,588.3L1330,589.9L1338.8,591.7L1347.8,592.3L1356.8,593.1L1365.8,593.5L1374.8,593.2L1383.7,591.7L1392.6,590.6L1401.4,588.7L1410.2,586.7L1419,584.8L1427.7,582.3L1436.2,579.3L1444.6,576.2L1453,572.7L1461.1,568.7L1468.8,564.1L1476.8,560L1484.4,555L1491.5,549.4L1498.7,544.1L1505.5,538.1L1512.1,531.9L1518.5,525.6L1524.1,518.6L1530.3,512L1535.6,504.7L1540.9,497.3L1545.4,489.5L1550.1,481.8L1554.1,473.8L1557.6,465.5L1561.3,457.2L1564.2,448.7L1566.6,440L1569.5,431.4L1571.5,422.6L1573.1,413.8L1574.1,404.8L1575.3,395.9L1576.2,386.9L1576.2,377.9L1575.8,368.9L1574.5,359.9L1573.3,351L1571,342.2L1568.8,333.5L1566.4,324.8L1563.9,316.2L1560.8,307.7L1558,299.1L1554.2,291L1549.8,283.1L1545.6,275.1L1541.2,267.3L1535.9,259.9L1530.9,252.5L1525.2,245.4L1519.7,238.3L1513.7,231.6L1507.3,225.3L1500.8,219L1493.9,213.2L1486.6,207.9L1479.6,202.2L1472.3,196.9L1464.6,192.2L1456.7,187.9L1448.4,184.2L1440.4,180.1L1432,176.7L1423.6,173.5L1414.8,171.3L1406.3,168.5L1397.5,166.3L1388.7,164.3L1379.8,162.7L1370.9,161.7L1361.8,161.6L1352.8,161.5L1343.8,162.2L1334.9,163.7L1326,165.2L1317.3,167.6L1308.4,169.2L1299.9,172L1291.4,175.1L1282.9,178.2L1274.8,182.2L1266.6,185.9L1258.7,190.1L1251.1,195L1243.4,199.8L1236.3,205.4L1229.2,210.9L1222.8,217.2L1216.3,223.4L1209.8,229.8L1203.6,236.3L1198,243.4L1192.6,250.6L1187.4,258L1182.6,265.6L1178.4,273.6L1173.7,281.3L1169.6,289.3L1166.5,297.8L1163,306.1L1160.2,314.7L1157.2,323.2L1155.1,332L1152.8,340.7L1151,349.5L1149.3,358.4L1148,367.3L1147,376.2L1147.1,385.3L1148.1,394.2L1149.2,403.2Z" fill="#00DFFF" stroke="#000" stroke-width="1.6" stroke-linejoin="round"/>
<path d="M1159.9,412L1160.6,416.7L1161.5,421.4L1162.4,426L1163.5,430.6L1164.6,435.1L1165.8,439.6L1167.2,444.1L1168.6,448.6L1170.1,453L1171.7,457.3L1173.5,461.7L1175.3,465.9L1177.2,470.1L1179.2,474.3L1181.3,478.4L1183.6,482.5L1185.8,486.5L1188.2,490.5L1190.7,494.4L1193.3,498.2L1195.9,502L1198.7,505.7L1201.5,509.3L1204.4,512.9L1207.4,516.4L1210.5,519.8L1213.6,523.2L1216.8,526.5L1220.1,529.7L1223.5,532.8L1227,535.9L1230.5,538.8L1234.1,541.7L1237.8,544.5L1241.5,547.2L1245.3,549.9L1249.1,552.4L1253.1,554.9L1257.1,557.3L1261.1,559.5L1265.2,561.7L1269.3,563.8L1273.6,565.8L1277.8,567.7L1282.1,569.5L1286.5,571.2L1290.9,572.8L1295.3,574.3L1299.8,575.7L1304.3,577L1308.9,578.2L1313.5,579.3L1318.1,580.3L1322.8,581.2L1327.5,582L1332.2,582.8L1336.9,583.4L1341.7,584L1346.5,584.5L1351.3,584.8L1356.1,585L1361,585L1365.8,584.8L1370.7,584.5L1375.6,584L1380.5,583.3L1385.3,582.5L1390.2,581.7L1395,580.7L1399.9,579.6L1404.7,578.5L1409.5,577.2L1414.4,575.9L1419.2,574.4L1424,572.8L1428.7,571.2L1433.5,569.4L1438.2,567.5L1442.9,565.4L1447.6,563.3L1452.2,561L1456.8,558.6L1461.4,556.1L1465.9,553.5L1470.4,550.8L1474.8,547.9L1479.2,545L1483.5,541.9L1487.8,538.7L1492,535.3L1496.1,531.9L1500.2,528.3L1504.2,524.6L1508.1,520.8L1511.9,516.9L1515.7,512.8L1519.3,508.6L1522.8,504.4L1526.3,500L1529.6,495.4L1532.8,490.8L1535.8,486.1L1538.8,481.3L1541.6,476.3L1544.3,471.3L1546.8,466.2L1549.2,460.9L1551.4,455.6L1553.5,450.2L1555.4,444.8L1557.1,439.3L1558.7,433.7L1560.1,428L1561.3,422.3L1562.4,416.6L1563.3,410.8L1564.1,404.9L1564.7,399.1L1565.1,393.2L1565.3,387.3L1565.3,381.4L1565,375.5L1564.4,369.6L1563.6,363.7L1562.7,357.8L1561.5,352L1560.2,346.2L1558.7,340.4L1557.2,334.7L1555.4,329L1553.5,323.3L1551.5,317.8L1549.3,312.2L1546.9,306.8L1544.4,301.4L1541.8,296L1539,290.8L1536.1,285.6L1533,280.5L1529.8,275.5L1526.4,270.6L1523,265.7L1519.4,261L1515.7,256.3L1511.8,251.8L1507.9,247.3L1503.8,243L1499.6,238.7L1495.4,234.5L1491,230.5L1486.5,226.6L1482,222.7L1477.3,219L1472.5,215.4L1467.6,212L1462.7,208.7L1457.6,205.5L1452.5,202.4L1447.3,199.5L1442,196.7L1436.6,194.1L1431.2,191.6L1425.7,189.3L1420.1,187.2L1414.5,185.2L1408.8,183.3L1403.1,181.6L1397.3,180.1L1391.5,178.7L1385.6,177.4L1379.7,176.3L1373.8,175.4L1367.9,174.8L1361.9,174.3L1355.9,174.2L1350,174.3L1344,174.7L1338.1,175.2L1332.3,175.9L1326.4,176.8L1320.6,177.9L1314.9,179.1L1309.2,180.5L1303.5,182.1L1297.9,183.8L1292.4,185.7L1287,187.8L1281.6,190L1276.4,192.4L1271.2,194.9L1266.1,197.6L1261.2,200.5L1256.3,203.5L1251.5,206.6L1246.9,209.8L1242.4,213.1L1237.9,216.6L1233.7,220.2L1229.5,223.9L1225.4,227.6L1221.5,231.5L1217.7,235.5L1214,239.5L1210.4,243.6L1207,247.8L1203.6,252L1200.4,256.3L1197.4,260.7L1194.4,265.1L1191.6,269.5L1188.9,274L1186.3,278.6L1183.8,283.1L1181.4,287.8L1179.1,292.4L1177,297.1L1175,301.7L1173.1,306.5L1171.3,311.2L1169.6,316L1168,320.7L1166.6,325.5L1165.2,330.3L1164,335.1L1162.8,340L1161.8,344.8L1160.8,349.6L1159.9,354.4L1159.1,359.3L1158.4,364.1L1157.9,369L1157.6,373.8L1157.3,378.7L1157.3,383.5L1157.4,388.3L1157.7,393.1L1158.1,397.9L1158.6,402.6L1159.2,407.3Z" fill="#50FFAF" stroke="#000" stroke-width="1.6" stroke-linejoin="round"/>
<path d="M1170.7,412L1171.2,416.4L1171.8,420.7L1172.5,425.1L1173.2,429.4L1174.1,433.7L1175,438L1176.1,442.2L1177.2,446.5L1178.5,450.7L1179.8,454.8L1181.2,459L1182.8,463.1L1184.4,467.2L1186.1,471.2L1187.9,475.2L1189.9,479.1L1191.9,483L1194,486.8L1196.2,490.6L1198.6,494.4L1201,498L1203.5,501.7L1206.1,505.2L1208.8,508.7L1211.6,512.1L1214.5,515.4L1217.4,518.7L1220.5,521.8L1223.6,524.9L1226.9,527.9L1230.2,530.8L1233.6,533.6L1237,536.4L1240.6,539L1244.2,541.6L1247.9,544L1251.6,546.3L1255.4,548.6L1259.3,550.7L1263.2,552.8L1267.1,554.8L1271.1,556.6L1275.2,558.4L1279.3,560L1283.4,561.6L1287.6,563L1291.8,564.3L1296.1,565.6L1300.4,566.7L1304.7,567.8L1309,568.7L1313.4,569.5L1317.7,570.3L1322.1,570.9L1326.6,571.5L1331,572L1335.4,572.4L1339.9,572.7L1344.3,572.9L1348.8,573L1353.3,572.9L1357.8,572.8L1362.3,572.5L1366.8,572.1L1371.3,571.6L1375.8,570.9L1380.3,570.2L1384.8,569.3L1389.3,568.4L1393.7,567.3L1398.2,566.2L1402.6,565L1407.1,563.7L1411.5,562.4L1415.9,560.9L1420.3,559.3L1424.7,557.7L1429.1,555.9L1433.5,554.1L1437.8,552.1L1442.1,550.1L1446.4,548L1450.7,545.7L1455,543.4L1459.2,540.9L1463.4,538.4L1467.6,535.8L1471.7,533L1475.9,530.2L1479.9,527.2L1483.9,524.1L1487.9,520.9L1491.8,517.6L1495.6,514.2L1499.4,510.6L1503.1,507L1506.7,503.2L1510.2,499.3L1513.7,495.2L1517,491.1L1520.2,486.8L1523.3,482.4L1526.2,478L1529.1,473.4L1531.8,468.7L1534.3,463.9L1536.7,459L1538.9,454L1541,448.9L1542.9,443.7L1544.6,438.5L1546.2,433.2L1547.5,427.8L1548.7,422.4L1549.6,416.9L1550.4,411.4L1551,405.9L1551.4,400.3L1551.6,394.8L1551.6,389.2L1551.3,383.6L1550.9,378L1550.2,372.5L1549.3,366.9L1548.2,361.5L1546.9,356L1545.5,350.6L1543.9,345.3L1542.1,340L1540.2,334.7L1538.2,329.5L1536,324.4L1533.7,319.4L1531.3,314.4L1528.7,309.5L1526,304.6L1523.2,299.9L1520.2,295.2L1517.2,290.6L1514,286.1L1510.8,281.7L1507.4,277.3L1504,273L1500.5,268.8L1496.8,264.7L1493.1,260.7L1489.4,256.7L1485.5,252.8L1481.6,249L1477.6,245.2L1473.5,241.5L1469.4,237.9L1465.1,234.4L1460.8,231L1456.4,227.7L1452,224.5L1447.4,221.4L1442.8,218.4L1438,215.5L1433.2,212.7L1428.4,210L1423.4,207.5L1418.4,205.1L1413.3,202.9L1408.2,200.8L1402.9,198.8L1397.6,197L1392.3,195.3L1386.9,193.8L1381.5,192.4L1376,191.2L1370.5,190.2L1364.9,189.4L1359.4,188.9L1353.8,188.5L1348.2,188.4L1342.6,188.5L1337,188.8L1331.4,189.3L1325.9,190L1320.4,190.9L1315,192L1309.6,193.3L1304.2,194.8L1298.9,196.4L1293.7,198.3L1288.6,200.3L1283.6,202.5L1278.6,204.8L1273.8,207.3L1269,209.9L1264.4,212.7L1259.8,215.7L1255.4,218.7L1251.1,221.9L1246.9,225.2L1242.8,228.6L1238.9,232.1L1235.1,235.7L1231.3,239.4L1227.8,243.2L1224.3,247L1220.9,250.9L1217.7,254.9L1214.6,258.9L1211.6,263L1208.8,267.1L1206,271.3L1203.4,275.5L1200.9,279.7L1198.4,284L1196.1,288.2L1193.9,292.5L1191.8,296.9L1189.7,301.2L1187.8,305.6L1186,309.9L1184.3,314.3L1182.7,318.7L1181.1,323.1L1179.7,327.6L1178.4,332L1177.1,336.4L1176,340.9L1174.9,345.3L1173.9,349.8L1173,354.2L1172.1,358.7L1171.4,363.1L1170.8,367.6L1170.3,372.1L1169.9,376.5L1169.6,381L1169.4,385.5L1169.4,389.9L1169.5,394.4L1169.6,398.8L1169.9,403.2L1170.2,407.6Z" fill="#BFFF40" stroke="#000" stroke-width="1.6" stroke-linejoin="round"/>
<path d="M1183.1,412L1183.4,416.1L1183.9,420.1L1184.4,424.1L1185,428.2L1185.7,432.2L1186.5,436.2L1187.4,440.1L1188.3,444.1L1189.4,448L1190.6,451.9L1191.8,455.8L1193.2,459.6L1194.7,463.4L1196.2,467.2L1197.9,471L1199.6,474.6L1201.5,478.3L1203.4,481.9L1205.5,485.4L1207.6,488.9L1209.9,492.3L1212.2,495.7L1214.6,499L1217.1,502.2L1219.7,505.4L1222.4,508.5L1225.2,511.5L1228.1,514.4L1231.1,517.2L1234.1,520L1237.2,522.6L1240.4,525.2L1243.7,527.7L1247,530.1L1250.4,532.3L1253.9,534.5L1257.4,536.6L1261,538.6L1264.6,540.5L1268.2,542.3L1271.9,544.1L1275.7,545.7L1279.4,547.2L1283.3,548.6L1287.1,550L1291,551.2L1294.9,552.4L1298.8,553.4L1302.8,554.4L1306.7,555.3L1310.7,556.1L1314.7,556.8L1318.7,557.4L1322.8,558L1326.8,558.4L1330.9,558.8L1334.9,559.1L1339,559.3L1343.1,559.5L1347.2,559.6L1351.3,559.5L1355.4,559.4L1359.5,559.2L1363.7,558.9L1367.8,558.5L1371.9,558L1376,557.4L1380.2,556.7L1384.3,555.9L1388.4,555L1392.5,554.1L1396.6,553L1400.7,551.9L1404.8,550.7L1408.9,549.4L1412.9,548L1417,546.6L1421.1,545L1425.1,543.3L1429.1,541.6L1433.1,539.8L1437.1,537.8L1441,535.8L1444.9,533.7L1448.8,531.4L1452.7,529.1L1456.5,526.7L1460.3,524.1L1464.1,521.5L1467.8,518.8L1471.5,515.9L1475.1,513L1478.7,509.9L1482.1,506.7L1485.6,503.4L1488.9,500L1492.1,496.5L1495.3,492.9L1498.4,489.2L1501.3,485.4L1504.2,481.4L1506.9,477.4L1509.5,473.3L1512,469L1514.4,464.7L1516.6,460.3L1518.6,455.8L1520.6,451.2L1522.3,446.5L1523.9,441.8L1525.3,437L1526.6,432.2L1527.6,427.3L1528.5,422.4L1529.2,417.4L1529.7,412.4L1530.1,407.4L1530.2,402.4L1530.1,397.4L1529.9,392.4L1529.5,387.4L1528.9,382.4L1528.1,377.4L1527.1,372.5L1526,367.6L1524.7,362.8L1523.2,358L1521.7,353.3L1519.9,348.6L1518.1,344L1516.1,339.4L1514,334.9L1511.8,330.5L1509.5,326.1L1507.1,321.9L1504.6,317.6L1502,313.5L1499.3,309.4L1496.5,305.4L1493.6,301.4L1490.7,297.6L1487.7,293.7L1484.6,290L1481.5,286.3L1478.3,282.6L1475.1,279.1L1471.8,275.5L1468.5,272L1465.1,268.6L1461.6,265.2L1458.1,261.8L1454.5,258.5L1450.9,255.3L1447.2,252.1L1443.4,248.9L1439.6,245.9L1435.7,242.9L1431.7,240L1427.6,237.2L1423.5,234.5L1419.2,231.8L1414.9,229.3L1410.5,226.9L1406.1,224.6L1401.5,222.4L1396.9,220.4L1392.3,218.5L1387.5,216.7L1382.7,215L1377.8,213.6L1372.9,212.2L1368,211.1L1363,210.1L1357.9,209.4L1352.8,208.8L1347.7,208.5L1342.7,208.3L1337.6,208.3L1332.5,208.6L1327.4,209L1322.3,209.7L1317.3,210.6L1312.3,211.6L1307.4,212.9L1302.6,214.3L1297.8,216L1293,217.8L1288.4,219.7L1283.8,221.9L1279.4,224.2L1275,226.6L1270.7,229.2L1266.6,231.9L1262.5,234.7L1258.6,237.7L1254.7,240.8L1251,243.9L1247.4,247.2L1243.9,250.5L1240.6,254L1237.3,257.5L1234.2,261L1231.1,264.7L1228.2,268.3L1225.4,272.1L1222.7,275.8L1220.1,279.7L1217.7,283.5L1215.3,287.3L1213,291.2L1210.8,295.1L1208.6,299L1206.6,303L1204.7,306.9L1202.8,310.9L1201,314.8L1199.3,318.8L1197.7,322.8L1196.2,326.8L1194.7,330.8L1193.3,334.8L1192,338.8L1190.8,342.8L1189.7,346.9L1188.6,350.9L1187.6,354.9L1186.7,359L1185.9,363.1L1185.1,367.1L1184.5,371.2L1183.9,375.3L1183.5,379.4L1183.1,383.5L1182.8,387.6L1182.7,391.6L1182.6,395.7L1182.6,399.8L1182.7,403.9L1182.8,407.9Z" fill="#FFCF00" stroke="#000" stroke-width="1.6" stroke-linejoin="round"/>
<path d="M1504.6,412L1504.5,407.4L1504.3,402.8L1503.9,398.2L1503.3,393.7L1502.5,389.2L1501.6,384.7L1500.5,380.2L1499.2,375.8L1497.7,371.5L1496.2,367.2L1494.4,363L1492.6,358.8L1490.6,354.8L1488.6,350.7L1486.4,346.8L1484.2,342.9L1481.9,339.1L1479.5,335.3L1477,331.6L1474.5,328L1471.9,324.4L1469.2,320.9L1466.6,317.5L1463.8,314L1461.1,310.7L1458.3,307.3L1455.4,304L1452.5,300.8L1449.6,297.6L1446.6,294.4L1443.6,291.2L1440.6,288.1L1437.4,285L1434.3,282L1431.1,279L1427.8,276L1424.5,273.1L1421.1,270.2L1417.6,267.4L1414.1,264.7L1410.4,262L1406.7,259.4L1403,256.9L1399.1,254.5L1395.2,252.2L1391.2,250L1387.1,247.9L1382.9,246L1378.7,244.2L1374.4,242.5L1370,241.1L1365.6,239.7L1361.1,238.6L1356.6,237.6L1352,236.9L1347.5,236.3L1342.9,235.9L1338.2,235.8L1333.6,235.8L1329,236.1L1324.4,236.5L1319.8,237.2L1315.3,238L1310.8,239.1L1306.4,240.3L1302,241.8L1297.7,243.4L1293.5,245.2L1289.4,247.2L1285.4,249.3L1281.5,251.6L1277.7,254L1274,256.6L1270.4,259.3L1266.9,262.1L1263.6,265L1260.3,268L1257.2,271.1L1254.2,274.3L1251.3,277.5L1248.6,280.7L1245.9,284L1243.3,287.4L1240.9,290.7L1238.5,294.1L1236.3,297.5L1234.1,300.9L1232,304.3L1230,307.7L1228.1,311.1L1226.2,314.5L1224.4,317.8L1222.7,321.2L1221,324.6L1219.4,327.9L1217.8,331.2L1216.3,334.5L1214.8,337.9L1213.4,341.2L1212,344.5L1210.7,347.8L1209.4,351.1L1208.1,354.4L1206.9,357.7L1205.8,361L1204.7,364.3L1203.7,367.6L1202.7,371L1201.8,374.3L1201,377.7L1200.2,381.1L1199.5,384.5L1198.9,387.9L1198.4,391.3L1198,394.8L1197.7,398.2L1197.5,401.7L1197.3,405.1L1197.3,408.6L1197.4,412L1197.5,415.4L1197.8,418.9L1198.1,422.3L1198.6,425.7L1199.2,429.1L1199.9,432.5L1200.6,435.8L1201.5,439.1L1202.5,442.4L1203.5,445.6L1204.7,448.8L1205.9,452L1207.3,455.1L1208.7,458.2L1210.2,461.2L1211.7,464.2L1213.4,467.1L1215.1,470L1216.9,472.9L1218.7,475.7L1220.6,478.4L1222.5,481.1L1224.5,483.8L1226.6,486.4L1228.7,489L1230.8,491.5L1233,494L1235.2,496.4L1237.5,498.8L1239.8,501.2L1242.2,503.5L1244.6,505.8L1247,508L1249.5,510.1L1252.1,512.3L1254.6,514.4L1257.3,516.4L1259.9,518.4L1262.6,520.3L1265.4,522.1L1268.2,524L1271.1,525.7L1274,527.4L1276.9,529L1279.9,530.5L1282.9,532L1286,533.4L1289.1,534.7L1292.3,535.9L1295.5,537.1L1298.7,538.1L1302,539.1L1305.3,539.9L1308.6,540.7L1312,541.4L1315.3,541.9L1318.7,542.4L1322.1,542.8L1325.6,543.1L1329,543.3L1332.4,543.4L1335.9,543.4L1339.3,543.4L1342.8,543.2L1346.2,543L1349.7,542.7L1353.1,542.3L1356.6,541.8L1360,541.3L1363.4,540.6L1366.9,539.9L1370.3,539.2L1373.7,538.4L1377.1,537.5L1380.6,536.5L1384,535.5L1387.4,534.5L1390.9,533.4L1394.3,532.3L1397.7,531.1L1401.2,529.8L1404.7,528.5L1408.1,527.2L1411.6,525.7L1415.1,524.3L1418.7,522.7L1422.2,521.1L1425.7,519.4L1429.3,517.7L1432.8,515.8L1436.4,513.9L1439.9,511.9L1443.4,509.7L1446.9,507.5L1450.4,505.2L1453.9,502.7L1457.3,500.2L1460.7,497.5L1464,494.7L1467.3,491.8L1470.5,488.8L1473.6,485.7L1476.6,482.4L1479.5,479L1482.3,475.5L1484.9,471.9L1487.4,468.1L1489.8,464.3L1492,460.3L1494.1,456.2L1496,452.1L1497.7,447.9L1499.3,443.6L1500.6,439.2L1501.8,434.7L1502.7,430.3L1503.5,425.7L1504,421.2L1504.4,416.6Z" fill="#FF6000" stroke="#000" stroke-width="1.6" stroke-linejoin="round"/>
<path d="M1465.7,412L1465.5,408.4L1465.2,404.9L1464.7,401.3L1464,397.8L1463.3,394.3L1462.4,390.9L1461.3,387.5L1460.2,384.1L1458.9,380.8L1457.5,377.6L1456.1,374.4L1454.5,371.2L1452.9,368.1L1451.1,365.1L1449.3,362.2L1447.5,359.2L1445.6,356.4L1443.6,353.6L1441.6,350.9L1439.5,348.2L1437.5,345.5L1435.3,342.9L1433.2,340.4L1431,337.9L1428.8,335.4L1426.6,332.9L1424.4,330.5L1422.2,328.1L1419.9,325.7L1417.6,323.4L1415.3,321.1L1413,318.8L1410.6,316.5L1408.2,314.2L1405.8,311.9L1403.3,309.7L1400.8,307.5L1398.3,305.3L1395.7,303.1L1393.1,301L1390.4,298.9L1387.7,296.9L1384.9,294.9L1382,292.9L1379.1,291L1376.1,289.2L1373.1,287.5L1370,285.8L1366.8,284.3L1363.6,282.8L1360.3,281.4L1357,280.2L1353.6,279L1350.2,278L1346.8,277.2L1343.2,276.4L1339.7,275.8L1336.2,275.4L1332.6,275.1L1329,274.9L1325.4,274.9L1321.8,275.1L1318.3,275.4L1314.7,275.9L1311.2,276.5L1307.7,277.3L1304.2,278.3L1300.8,279.4L1297.4,280.6L1294.2,281.9L1290.9,283.4L1287.8,285.1L1284.7,286.8L1281.6,288.6L1278.7,290.6L1275.9,292.7L1273.1,294.8L1270.4,297L1267.8,299.3L1265.3,301.7L1262.9,304.1L1260.6,306.6L1258.3,309.2L1256.2,311.7L1254.1,314.3L1252.1,317L1250.1,319.6L1248.3,322.3L1246.5,325L1244.7,327.7L1243.1,330.4L1241.5,333.2L1239.9,335.9L1238.4,338.6L1236.9,341.4L1235.5,344.1L1234.2,346.8L1232.9,349.6L1231.6,352.3L1230.4,355.1L1229.2,357.8L1228,360.6L1226.9,363.3L1225.9,366.1L1224.8,368.9L1223.9,371.7L1222.9,374.5L1222.1,377.3L1221.2,380.1L1220.5,382.9L1219.8,385.8L1219.1,388.7L1218.5,391.5L1218,394.4L1217.6,397.3L1217.2,400.3L1216.9,403.2L1216.7,406.1L1216.5,409.1L1216.4,412L1216.4,414.9L1216.5,417.9L1216.7,420.8L1217,423.8L1217.3,426.7L1217.8,429.6L1218.3,432.5L1218.9,435.4L1219.6,438.3L1220.4,441.1L1221.2,443.9L1222.2,446.7L1223.2,449.5L1224.3,452.2L1225.5,454.9L1226.7,457.5L1228.1,460.1L1229.5,462.7L1230.9,465.3L1232.4,467.7L1234,470.2L1235.7,472.6L1237.4,475L1239.2,477.3L1241,479.6L1242.8,481.8L1244.7,484L1246.7,486.1L1248.7,488.2L1250.8,490.2L1252.9,492.2L1255,494.1L1257.2,496L1259.5,497.9L1261.7,499.7L1264,501.4L1266.4,503.1L1268.8,504.7L1271.2,506.3L1273.7,507.8L1276.2,509.2L1278.7,510.6L1281.3,512L1283.9,513.2L1286.6,514.4L1289.3,515.5L1292,516.6L1294.7,517.6L1297.5,518.5L1300.2,519.3L1303.1,520.1L1305.9,520.7L1308.7,521.3L1311.6,521.8L1314.5,522.3L1317.4,522.6L1320.3,522.9L1323.2,523.1L1326.1,523.2L1329,523.3L1331.9,523.2L1334.8,523.1L1337.7,523L1340.6,522.7L1343.5,522.4L1346.4,522L1349.3,521.6L1352.2,521.1L1355,520.5L1357.9,519.9L1360.7,519.2L1363.6,518.4L1366.4,517.6L1369.2,516.8L1372,515.9L1374.8,514.9L1377.6,514L1380.4,512.9L1383.2,511.8L1386,510.7L1388.8,509.5L1391.6,508.3L1394.3,507.1L1397.1,505.8L1399.9,504.4L1402.7,503L1405.4,501.5L1408.2,500L1411,498.4L1413.7,496.7L1416.5,495L1419.2,493.2L1421.9,491.3L1424.6,489.4L1427.2,487.4L1429.9,485.3L1432.4,483.1L1435,480.8L1437.5,478.5L1439.9,476L1442.2,473.5L1444.5,470.9L1446.7,468.2L1448.8,465.4L1450.9,462.5L1452.8,459.5L1454.6,456.5L1456.3,453.4L1457.9,450.2L1459.3,446.9L1460.6,443.6L1461.8,440.2L1462.8,436.8L1463.7,433.3L1464.4,429.8L1465,426.3L1465.4,422.7L1465.6,419.2L1465.7,415.6Z" fill="#EF0000" stroke="#000" stroke-width="1.6" stroke-linejoin="round"/>
<path d="M1411.5,412L1411.2,409.8L1410.8,407.7L1410.3,405.6L1409.9,403.5L1409.3,401.4L1408.7,399.4L1408,397.3L1407.3,395.3L1406.6,393.4L1405.8,391.4L1404.9,389.5L1404,387.6L1403.1,385.8L1402.1,383.9L1401.1,382.1L1400.1,380.3L1399,378.6L1397.9,376.9L1396.8,375.2L1395.6,373.5L1394.4,371.9L1393.2,370.3L1392,368.7L1390.7,367.1L1389.5,365.6L1388.2,364.1L1386.8,362.6L1385.5,361.2L1384.1,359.7L1382.7,358.3L1381.3,356.9L1379.9,355.5L1378.4,354.2L1376.9,352.8L1375.4,351.5L1373.9,350.2L1372.3,349L1370.7,347.8L1369.1,346.5L1367.5,345.4L1365.8,344.2L1364.1,343.1L1362.4,342L1360.7,340.9L1358.9,339.9L1357.1,338.9L1355.2,337.9L1353.4,337L1351.5,336.1L1349.6,335.3L1347.6,334.5L1345.6,333.7L1343.6,333L1341.6,332.4L1339.6,331.8L1337.5,331.3L1335.4,330.8L1333.3,330.4L1331.1,330L1329,329.7L1326.8,329.5L1324.7,329.3L1322.5,329.3L1320.3,329.2L1318.1,329.3L1315.9,329.4L1313.7,329.6L1311.5,329.8L1309.4,330.2L1307.2,330.6L1305,331.1L1302.9,331.6L1300.7,332.2L1298.6,332.9L1296.5,333.7L1294.5,334.5L1292.4,335.4L1290.4,336.3L1288.5,337.3L1286.5,338.4L1284.6,339.6L1282.7,340.8L1280.9,342L1279.1,343.3L1277.3,344.7L1275.6,346.1L1274,347.6L1272.3,349.1L1270.8,350.6L1269.2,352.2L1267.7,353.8L1266.3,355.5L1264.9,357.2L1263.5,359L1262.2,360.7L1260.9,362.5L1259.7,364.4L1258.5,366.2L1257.4,368.1L1256.3,370L1255.3,372L1254.3,373.9L1253.3,375.9L1252.4,377.9L1251.6,379.9L1250.7,382L1250,384L1249.2,386.1L1248.5,388.2L1247.9,390.3L1247.3,392.4L1246.8,394.5L1246.2,396.7L1245.8,398.8L1245.4,401L1245,403.2L1244.7,405.4L1244.4,407.6L1244.2,409.8L1244,412L1243.9,414.2L1243.8,416.5L1243.8,418.7L1243.8,421L1243.9,423.2L1244.1,425.4L1244.3,427.7L1244.6,429.9L1244.9,432.2L1245.3,434.4L1245.7,436.7L1246.3,438.9L1246.8,441.1L1247.5,443.3L1248.2,445.5L1249,447.6L1249.8,449.8L1250.7,451.9L1251.7,454L1252.7,456L1253.8,458.1L1255,460.1L1256.2,462L1257.5,463.9L1258.9,465.8L1260.3,467.7L1261.7,469.4L1263.3,471.2L1264.9,472.9L1266.5,474.5L1268.2,476.1L1269.9,477.6L1271.7,479.1L1273.5,480.5L1275.4,481.8L1277.3,483.1L1279.3,484.4L1281.2,485.5L1283.3,486.6L1285.3,487.7L1287.4,488.7L1289.5,489.6L1291.6,490.4L1293.7,491.2L1295.9,491.9L1298.1,492.6L1300.2,493.2L1302.4,493.7L1304.6,494.2L1306.9,494.6L1309.1,495L1311.3,495.3L1313.5,495.6L1315.7,495.7L1318,495.9L1320.2,496L1322.4,496L1324.6,496L1326.8,496L1329,495.8L1331.2,495.7L1333.4,495.5L1335.6,495.2L1337.7,495L1339.9,494.6L1342,494.2L1344.2,493.8L1346.3,493.4L1348.4,492.8L1350.5,492.3L1352.6,491.7L1354.7,491.1L1356.8,490.4L1358.8,489.7L1360.9,488.9L1362.9,488.1L1364.9,487.2L1366.9,486.3L1368.8,485.4L1370.8,484.4L1372.7,483.4L1374.6,482.3L1376.5,481.1L1378.4,480L1380.2,478.7L1382,477.5L1383.8,476.1L1385.5,474.8L1387.2,473.3L1388.9,471.9L1390.5,470.4L1392.1,468.8L1393.6,467.2L1395.1,465.5L1396.5,463.8L1397.9,462.1L1399.2,460.3L1400.5,458.4L1401.7,456.6L1402.9,454.7L1404,452.7L1405,450.7L1406,448.7L1406.9,446.7L1407.7,444.6L1408.4,442.5L1409.1,440.4L1409.7,438.2L1410.3,436.1L1410.7,433.9L1411.1,431.7L1411.5,429.5L1411.7,427.3L1411.9,425.1L1412,422.9L1412,420.7L1412,418.5L1411.9,416.3L1411.7,414.2Z" fill="#800000" stroke="#000" stroke-width="1.6" stroke-linejoin="round"/>
<rect x="1000.0" y="15.3" width="725.2" height="725.7" fill="url(#streak)"/>
<rect x="1000.0" y="15.3" width="9" height="725.7" fill="url(#edge)"/>
</g>
<text transform="translate(1000,786.7) scale(0.91,1)" text-anchor="middle" class="t">0</text>
<path d="M1151.1,741.0 v-7 M1151.1,15.3 v7" stroke="#262626" stroke-width="1.4" fill="none"/>
<text transform="translate(1151.1,786.7) scale(0.91,1)" text-anchor="middle" class="t">50</text>
<path d="M1302.2,741.0 v-7 M1302.2,15.3 v7" stroke="#262626" stroke-width="1.4" fill="none"/>
<text transform="translate(1302.2,786.7) scale(0.91,1)" text-anchor="middle" class="t">100</text>
<path d="M1453.2,741.0 v-7 M1453.2,15.3 v7" stroke="#262626" stroke-width="1.4" fill="none"/>
<text transform="translate(1453.2,786.7) scale(0.91,1)" text-anchor="middle" class="t">150</text>
<path d="M1604.3,741.0 v-7 M1604.3,15.3 v7" stroke="#262626" stroke-width="1.4" fill="none"/>
<text transform="translate(1604.3,786.7) scale(0.91,1)" text-anchor="middle" class="t">200</text>
<text transform="translate(986.8,753.8) scale(0.91,1)" text-anchor="end" class="t">0</text>
<path d="M1000.0,589.8 h7 M1725.2,589.8 h-7" stroke="#262626" stroke-width="1.4" fill="none"/>
<text transform="translate(986.8,602.6) scale(0.91,1)" text-anchor="end" class="t">50</text>
<path d="M1000.0,438.6 h7 M1725.2,438.6 h-7" stroke="#262626" stroke-width="1.4" fill="none"/>
<text transform="translate(986.8,451.4) scale(0.91,1)" text-anchor="end" class="t">100</text>
<path d="M1000.0,287.4 h7 M1725.2,287.4 h-7" stroke="#262626" stroke-width="1.4" fill="none"/>
<text transform="translate(986.8,300.2) scale(0.91,1)" text-anchor="end" class="t">150</text>
<path d="M1000.0,136.2 h7 M1725.2,136.2 h-7" stroke="#262626" stroke-width="1.4" fill="none"/>
<text transform="translate(986.8,149.1) scale(0.91,1)" text-anchor="end" class="t">200</text>
<rect x="1000.0" y="15.3" width="725.2" height="725.7" fill="none" stroke="#262626" stroke-width="1.5"/>
<rect x="1768.1" y="15.30" width="40.600000000000136" height="725.70" fill="#800000"/>
<rect x="1768.1" y="26.64" width="40.600000000000136" height="714.36" fill="#8F0000"/>
<rect x="1768.1" y="37.98" width="40.600000000000136" height="703.02" fill="#9F0000"/>
<rect x="1768.1" y="49.32" width="40.600000000000136" height="691.68" fill="#AF0000"/>
<rect x="1768.1" y="60.66" width="40.600000000000136" height="680.34" fill="#BF0000"/>
<rect x="1768.1" y="72.00" width="40.600000000000136" height="669.00" fill="#CF0000"/>
<rect x="1768.1" y="83.33" width="40.600000000000136" height="657.67" fill="#DF0000"/>
<rect x="1768.1" y="94.67" width="40.600000000000136" height="646.33" fill="#EF0000"/>
<rect x="1768.1" y="106.01" width="40.600000000000136" height="634.99" fill="#FF0000"/>
<rect x="1768.1" y="117.35" width="40.600000000000136" height="623.65" fill="#FF1000"/>
<rect x="1768.1" y="128.69" width="40.600000000000136" height="612.31" fill="#FF2000"/>
<rect x="1768.1" y="140.03" width="40.600000000000136" height="600.97" fill="#FF3000"/>
<rect x="1768.1" y="151.37" width="40.600000000000136" height="589.63" fill="#FF4000"/>
<rect x="1768.1" y="162.71" width="40.600000000000136" height="578.29" fill="#FF5000"/>
<rect x="1768.1" y="174.05" width="40.600000000000136" height="566.95" fill="#FF6000"/>
<rect x="1768.1" y="185.39" width="40.600000000000136" height="555.61" fill="#FF7000"/>
<rect x="1768.1" y="196.72" width="40.600000000000136" height="544.28" fill="#FF8000"/>
<rect x="1768.1" y="208.06" width="40.600000000000136" height="532.94" fill="#FF8F00"/>
<rect x="1768.1" y="219.40" width="40.600000000000136" height="521.60" fill="#FF9F00"/>
<rect x="1768.1" y="230.74" width="40.600000000000136" height="510.26" fill="#FFAF00"/>
<rect x="1768.1" y="242.08" width="40.600000000000136" height="498.92" fill="#FFBF00"/>
<rect x="1768.1" y="253.42" width="40.600000000000136" height="487.58" fill="#FFCF00"/>
<rect x="1768.1" y="264.76" width="40.600000000000136" height="476.24" fill="#FFDF00"/>
<rect x="1768.1" y="276.10" width="40.600000000000136" height="464.90" fill="#FFEF00"/>
<rect x="1768.1" y="287.44" width="40.600000000000136" height="453.56" fill="#FFFF00"/>
<rect x="1768.1" y="298.78" width="40.600000000000136" height="442.22" fill="#EFFF10"/>
<rect x="1768.1" y="310.12" width="40.600000000000136" height="430.88" fill="#DFFF20"/>
<rect x="1768.1" y="321.45" width="40.600000000000136" height="419.55" fill="#CFFF30"/>
<rect x="1768.1" y="332.79" width="40.600000000000136" height="408.21" fill="#BFFF40"/>
<rect x="1768.1" y="344.13" width="40.600000000000136" height="396.87" fill="#AFFF50"/>
<rect x="1768.1" y="355.47" width="40.600000000000136" height="385.53" fill="#9FFF60"/>
<rect x="1768.1" y="366.81" width="40.600000000000136" height="374.19" fill="#8FFF70"/>
<rect x="1768.1" y="378.15" width="40.600000000000136" height="362.85" fill="#80FF80"/>
<rect x="1768.1" y="389.49" width="40.600000000000136" height="351.51" fill="#70FF8F"/>
<rect x="1768.1" y="400.83" width="40.600000000000136" height="340.17" fill="#60FF9F"/>
<rect x="1768.1" y="412.17" width="40.600000000000136" height="328.83" fill="#50FFAF"/>
<rect x="1768.1" y="423.51" width="40.600000000000136" height="317.49" fill="#40FFBF"/>
<rect x="1768.1" y="434.85" width="40.600000000000136" height="306.15" fill="#30FFCF"/>
<rect x="1768.1" y="446.18" width="40.600000000000136" height="294.82" fill="#20FFDF"/>
<rect x="1768.1" y="457.52" width="40.600000000000136" height="283.48" fill="#10FFEF"/>
<rect x="1768.1" y="468.86" width="40.600000000000136" height="272.14" fill="#00FFFF"/>
<rect x="1768.1" y="480.20" width="40.600000000000136" height="260.80" fill="#00EFFF"/>
<rect x="1768.1" y="491.54" width="40.600000000000136" height="249.46" fill="#00DFFF"/>
<rect x="1768.1" y="502.88" width="40.600000000000136" height="238.12" fill="#00CFFF"/>
<rect x="1768.1" y="514.22" width="40.600000000000136" height="226.78" fill="#00BFFF"/>
<rect x="1768.1" y="525.56" width="40.600000000000136" height="215.44" fill="#00AFFF"/>
<rect x="1768.1" y="536.90" width="40.600000000000136" height="204.10" fill="#009FFF"/>
<rect x="1768.1" y="548.24" width="40.600000000000136" height="192.76" fill="#008FFF"/>
<rect x="1768.1" y="559.58" width="40.600000000000136" height="181.42" fill="#0080FF"/>
<rect x="1768.1" y="570.91" width="40.600000000000136" height="170.09" fill="#0070FF"/>
<rect x="1768.1" y="582.25" width="40.600000000000136" height="158.75" fill="#0060FF"/>
<rect x="1768.1" y="593.59" width="40.600000000000136" height="147.41" fill="#0050FF"/>
<rect x="1768.1" y="604.93" width="40.600000000000136" height="136.07" fill="#0040FF"/>
<rect x="1768.1" y="616.27" width="40.600000000000136" height="124.73" fill="#0030FF"/>
<rect x="1768.1" y="627.61" width="40.600000000000136" height="113.39" fill="#0020FF"/>
<rect x="1768.1" y="638.95" width="40.600000000000136" height="102.05" fill="#0010FF"/>
<rect x="1768.1" y="650.29" width="40.600000000000136" height="90.71" fill="#0000FF"/>
<rect x="1768.1" y="661.63" width="40.600000000000136" height="79.37" fill="#0000EF"/>
<rect x="1768.1" y="672.97" width="40.600000000000136" height="68.03" fill="#0000DF"/>
<rect x="1768.1" y="684.30" width="40.600000000000136" height="56.70" fill="#0000CF"/>
<rect x="1768.1" y="695.64" width="40.600000000000136" height="45.36" fill="#0000BF"/>
<rect x="1768.1" y="706.98" width="40.600000000000136" height="34.02" fill="#0000AF"/>
<rect x="1768.1" y="718.32" width="40.600000000000136" height="22.68" fill="#00009F"/>
<rect x="1768.1" y="729.66" width="40.600000000000136" height="11.34" fill="#00008F"/>
<path d="M1768.1,734.8 h7 M1808.7,734.8 h-7" stroke="#262626" stroke-width="1.3" fill="none"/>
<text transform="translate(1820.5,745.4) scale(0.95,1)" class="c">0.5</text>
<path d="M1768.1,629.8 h7 M1808.7,629.8 h-7" stroke="#262626" stroke-width="1.3" fill="none"/>
<text transform="translate(1820.5,640.4) scale(0.95,1)" class="c">1</text>
<path d="M1768.1,525 h7 M1808.7,525 h-7" stroke="#262626" stroke-width="1.3" fill="none"/>
<text transform="translate(1820.5,535.6) scale(0.95,1)" class="c">1.5</text>
<path d="M1768.1,420 h7 M1808.7,420 h-7" stroke="#262626" stroke-width="1.3" fill="none"/>
<text transform="translate(1820.5,430.6) scale(0.95,1)" class="c">2</text>
<path d="M1768.1,315 h7 M1808.7,315 h-7" stroke="#262626" stroke-width="1.3" fill="none"/>
<text transform="translate(1820.5,325.6) scale(0.95,1)" class="c">2.5</text>
<path d="M1768.1,210.1 h7 M1808.7,210.1 h-7" stroke="#262626" stroke-width="1.3" fill="none"/>
<text transform="translate(1820.5,220.7) scale(0.95,1)" class="c">3</text>
<path d="M1768.1,105.3 h7 M1808.7,105.3 h-7" stroke="#262626" stroke-width="1.3" fill="none"/>
<text transform="translate(1820.5,115.9) scale(0.95,1)" class="c">3.5</text>
<rect x="1768.1" y="15.3" width="40.600000000000136" height="725.7" fill="none" stroke="#262626" stroke-width="1.5"/>
<text transform="translate(1390,852) scale(0.975,1)" text-anchor="middle" class="L">b</text>
</g>
<g id="panel-c">
<clipPath id="clip-c"><rect x="73.2" y="861.5" width="725.1999999999999" height="725.7"/></clipPath>
<g clip-path="url(#clip-c)">
<rect x="73.2" y="861.5" width="725.1999999999999" height="725.7" fill="#00008F"/>
<path d="M208.8,1258.7L210.1,1267.6L213.1,1276.2L214.7,1285.2L218.4,1293.5L221.3,1302L224.4,1310.5L228.9,1318.4L232.2,1326.9L237,1334.5L240.8,1342.7L245.5,1350.5L251,1357.7L256.8,1364.7L261.3,1372.6L267.3,1379.4L274,1385.4L280.9,1391.2L287.4,1397.5L294.3,1403.3L302.3,1407.6L309,1413.9L317.5,1417.2L324.9,1422.4L332.9,1426.7L341.1,1430.6L349.5,1433.9L358.2,1436.4L366.3,1440.6L375,1442.9L383.7,1445.5L392.2,1448.4L401,1450.3L409.7,1453.1L418.6,1454.6L427.7,1455.4L436.7,1455.2L445.7,1455.6L454.8,1455.2L463.7,1453.6L472.6,1452.2L481.4,1450.3L489.8,1446.9L498.4,1444.2L507.1,1441.6L515.1,1437.5L523.3,1433.7L531.1,1429L539.1,1425L547.3,1421.2L554.5,1415.5L563,1412.1L570.3,1406.9L577.5,1401.4L585.5,1397L592.3,1391.1L599.8,1385.9L605.7,1379L611.9,1372.5L618.2,1366L623.6,1358.8L629.8,1352.2L634.3,1344.3L639.2,1336.7L643.6,1328.9L647.8,1320.9L650.8,1312.4L653.8,1303.9L657.5,1295.6L659.6,1286.8L662.6,1278.3L663.1,1269.2L664.4,1260.2L664.5,1251.2L665.1,1242.3L666,1233.2L665.3,1224.2L663.9,1215.3L663.9,1206.2L661.5,1197.4L660.2,1188.4L658.1,1179.6L655.8,1170.9L651.8,1162.7L650,1153.8L646.6,1145.4L643,1137.1L638.7,1129.1L636.3,1120.3L631.9,1112.4L627.7,1104.4L622.9,1096.8L618.4,1089L613.4,1081.5L608.8,1073.6L602.8,1066.9L596.5,1060.4L589,1055.3L581.8,1050L575,1043.8L567.2,1039.3L559.2,1035L551.2,1031L542.8,1027.4L534.6,1023.7L526.7,1019.3L518.7,1015.1L510.2,1012.1L501.9,1008.5L493.3,1005.7L484.5,1003.5L476,1000.5L467.4,998L458.5,996.5L449.5,995.2L440.7,993.2L431.6,994.3L422.6,994.1L413.6,994.8L404.7,995.7L395.7,996.5L386.9,998.5L378,1000.4L369.7,1004.1L360.9,1006.2L352.5,1009.7L344.3,1013.6L336.2,1017.6L328.4,1022.2L320.4,1026.4L312.8,1031.3L305.5,1036.7L298.3,1042.1L291.6,1048.3L284.5,1053.9L279,1061.2L272.5,1067.4L265.9,1073.6L260.3,1080.8L255,1088.1L249.9,1095.5L244.6,1102.9L241.2,1111.4L237.2,1119.4L232.4,1127.1L228.8,1135.4L224.7,1143.5L221.7,1152L219.3,1160.7L216.6,1169.3L215.3,1178.3L212.1,1186.8L210,1195.7L210.1,1204.8L208.2,1213.7L206.7,1222.6L207.1,1231.7L206.4,1240.7L207.9,1249.7Z" fill="#0000FF" stroke="#000" stroke-width="1.6" stroke-linejoin="round"/>
<path d="M223.5,1284.6L226.5,1293L229.2,1301.6L232.8,1309.9L236.4,1318.1L239.7,1326.5L243.9,1334.4L249.4,1341.6L253.6,1349.6L258.8,1356.9L265.2,1363.4L270.3,1370.7L276.8,1377L282.7,1383.7L289.5,1389.7L295.9,1396L303.3,1401.1L310.8,1406L318,1411.4L325.9,1415.8L333.7,1420.1L341.4,1424.9L350,1427.7L358.2,1431.2L366.6,1434.5L375.1,1437.5L384.1,1438.7L392.7,1441.2L401.5,1442.7L410.4,1444.1L419.2,1445.6L428.2,1446.1L437.1,1446.9L446,1445.8L455,1445.1L463.7,1442.7L472.5,1440.9L481.4,1439.8L490.1,1437.4L498.7,1434.7L506.8,1430.8L515.5,1428.2L523.6,1424.4L531.9,1421L539.8,1416.6L547.6,1412.3L555.3,1407.6L562.6,1402.3L569.8,1397L576.6,1391.1L583.5,1385.4L589.9,1379.1L596.2,1372.8L602.1,1366L608.2,1359.4L614.2,1352.7L618.6,1344.8L623.3,1337.2L627.8,1329.5L632.4,1321.8L636,1313.5L640.1,1305.5L642.4,1296.8L645.4,1288.3L648.1,1279.8L650.4,1271.1L651.1,1262L652.3,1253.2L654.7,1244.4L654.4,1235.4L655.1,1226.4L654.9,1217.4L653.6,1208.5L651.3,1199.8L649.3,1191.1L648.2,1182.1L645.1,1173.6L643.2,1164.8L639.4,1156.6L636.6,1148L632.4,1140.1L628.4,1132.1L624.8,1123.8L619.7,1116.4L615.7,1108.3L610.8,1100.7L604.9,1094L599.8,1086.5L593.7,1079.9L587.2,1073.6L580.6,1067.6L574.3,1061.1L567.5,1055.3L559.6,1050.8L552.7,1045L544.6,1040.9L536.9,1036.3L529.4,1031.5L521.2,1027.7L512.9,1024.2L504.5,1021.2L496,1018.2L487.4,1015.6L478.7,1013.4L469.9,1011.8L461.2,1009.4L452.4,1007.8L443.4,1007.2L434.5,1006.1L425.5,1006.4L416.6,1008.1L407.6,1008.6L398.8,1010.1L389.8,1011.1L381.2,1013.6L372.5,1016.2L363.7,1018.1L355.5,1021.8L347.2,1025.2L338.7,1028.1L331,1032.9L323,1037L315.5,1042L307.8,1046.6L300.8,1052.3L293.9,1057.9L286.4,1063L279.9,1069.3L274.3,1076.3L268.6,1083.3L262.1,1089.6L256.9,1096.9L252,1104.4L246.8,1111.8L242.4,1119.6L238.2,1127.5L234.4,1135.7L231.3,1144.1L227.7,1152.4L225,1161L223,1169.7L219.8,1178.2L218.5,1187.1L217,1196L214.9,1204.7L213.7,1213.6L214,1222.6L213.5,1231.6L214.2,1240.6L215.9,1249.4L217.9,1258.2L218.9,1267.2L221.3,1275.9Z" fill="#0070FF" stroke="#000" stroke-width="1.6" stroke-linejoin="round"/>
<path d="M229,1284.9L231.5,1293.5L234.7,1301.9L237.8,1310.4L241.4,1318.6L245.7,1326.5L250.4,1334.2L255,1341.8L260,1349.3L265.1,1356.7L270.9,1363.5L276.7,1370.4L282.9,1376.8L289.4,1383.1L296.3,1388.9L303.6,1394.1L310.8,1399.4L318.3,1404.4L325.9,1409.1L333.6,1413.8L341.7,1417.7L350,1421.1L358.4,1424.3L366.9,1427.2L375.5,1429.7L384,1432.5L392.9,1434.1L401.7,1435.8L410.5,1437.3L419.4,1438.6L428.4,1439L437.4,1439.4L446.3,1438.2L455.2,1437.1L464,1435.8L472.9,1434.1L481.5,1431.6L490.2,1429.5L498.7,1426.6L507.2,1423.6L515.6,1420.5L523.8,1416.9L531.7,1412.7L539.6,1408.4L547.4,1403.8L554.7,1398.7L561.7,1393L569,1387.8L575.7,1381.8L581.8,1375.2L588.2,1368.8L593.9,1361.9L599.5,1354.9L604.8,1347.7L609.3,1339.9L614.4,1332.4L618.4,1324.4L622.4,1316.4L625.6,1308L628.9,1299.6L631.5,1291L633.6,1282.3L635.7,1273.6L637.1,1264.7L638,1255.8L639.4,1246.9L639.8,1237.9L639.6,1228.9L638.4,1220L637.2,1211.1L635.7,1202.3L633.3,1193.6L630.8,1185L627.6,1176.6L624.4,1168.2L620.1,1160.3L615.7,1152.5L611,1144.8L606.1,1137.3L600.7,1130.2L595.6,1122.8L589.6,1116.1L583.2,1109.8L577.1,1103.2L570.9,1096.7L564.2,1090.7L557.9,1084.3L551.2,1078.3L544.7,1072.1L538,1066.2L530.9,1060.7L523.8,1055.1L516.4,1050.1L508.6,1045.6L501.1,1040.7L493.3,1036.3L485.1,1032.5L476.7,1029.3L468.1,1026.8L459.5,1024L450.8,1022L441.9,1020.4L432.9,1020.2L424,1019.7L415,1020L406,1020.8L397.2,1022.2L388.4,1024L379.7,1026.4L371,1028.6L362.5,1031.5L354.2,1035.1L346,1038.6L338.2,1043.1L330,1046.9L322.5,1051.8L315.2,1056.9L307.7,1062L300.9,1067.9L293.9,1073.4L287.2,1079.4L280.9,1085.9L274.7,1092.3L269.1,1099.3L263.5,1106.3L258.6,1113.9L253.7,1121.4L248.9,1129L244.4,1136.8L240.6,1144.9L237,1153.2L233.8,1161.6L231,1170.1L228.8,1178.8L226.1,1187.4L224,1196.1L222.9,1205L221.4,1213.9L220.9,1222.8L220.5,1231.8L221.4,1240.7L222.2,1249.6L223.6,1258.5L225.2,1267.3L227,1276.1Z" fill="#00DFFF" stroke="#000" stroke-width="1.6" stroke-linejoin="round"/>
<path d="M236.6,1284.9L238,1289.5L239.4,1294L241,1298.6L242.6,1303.1L244.4,1307.6L246.3,1312L248.4,1316.5L250.5,1320.8L252.8,1325.2L255.1,1329.4L257.6,1333.7L260.2,1337.9L262.9,1342L265.7,1346.1L268.6,1350.1L271.7,1354L274.8,1357.9L278.1,1361.7L281.4,1365.4L284.9,1369.1L288.4,1372.6L292.1,1376.1L295.9,1379.5L299.7,1382.8L303.7,1386.1L307.7,1389.2L311.8,1392.2L316.1,1395.2L320.4,1398L324.8,1400.7L329.2,1403.4L333.8,1405.9L338.4,1408.3L343.1,1410.6L347.9,1412.7L352.8,1414.8L357.7,1416.7L362.6,1418.5L367.7,1420.2L372.8,1421.7L377.9,1423.2L383.1,1424.5L388.3,1425.7L393.6,1426.7L398.9,1427.7L404.3,1428.5L409.7,1429.3L415.1,1429.9L420.6,1430.4L426,1430.7L431.6,1430.8L437.1,1430.7L442.6,1430.4L448.2,1429.8L453.7,1429.1L459.2,1428.2L464.7,1427.1L470.2,1425.9L475.6,1424.6L481.1,1423.2L486.5,1421.6L491.8,1419.9L497.2,1418L502.5,1416L507.7,1413.9L512.9,1411.5L518,1409L523,1406.4L528,1403.6L532.9,1400.6L537.6,1397.5L542.3,1394.2L546.9,1390.8L551.4,1387.3L555.8,1383.6L560.1,1379.7L564.2,1375.8L568.2,1371.7L572.1,1367.4L575.9,1363.1L579.4,1358.6L582.9,1354L586.2,1349.3L589.3,1344.5L592.3,1339.6L595,1334.6L597.7,1329.5L600.1,1324.3L602.4,1319.1L604.4,1313.8L606.3,1308.4L608,1302.9L609.5,1297.5L610.7,1291.9L611.8,1286.4L612.7,1280.8L613.4,1275.2L613.8,1269.6L614.1,1264L614,1258.4L613.8,1252.8L613.3,1247.3L612.5,1241.8L611.5,1236.3L610.2,1230.9L608.5,1225.6L606.6,1220.3L604.3,1215.2L601.8,1210.2L599.1,1205.3L596.2,1200.6L593.1,1196L589.9,1191.6L586.5,1187.3L583,1183.2L579.4,1179.3L575.7,1175.5L572,1171.8L568.2,1168.3L564.5,1165L560.7,1161.8L557,1158.7L553.3,1155.7L549.7,1152.8L546.1,1150L542.6,1147.3L539.2,1144.6L535.9,1141.9L532.7,1139.3L529.7,1136.6L526.7,1134L523.9,1131.3L521.1,1128.5L518.5,1125.7L515.9,1122.8L513.4,1119.9L510.9,1116.9L508.5,1113.9L506.1,1110.8L503.6,1107.6L501.1,1104.5L498.6,1101.2L496.1,1098L493.4,1094.8L490.7,1091.5L488,1088.2L485.1,1085L482.1,1081.8L479,1078.6L475.8,1075.5L472.5,1072.5L469.1,1069.6L465.6,1066.7L461.9,1064L458.1,1061.4L454.2,1059L450.2,1056.7L446.1,1054.6L441.9,1052.7L437.6,1051L433.2,1049.6L428.7,1048.5L424.2,1047.6L419.6,1046.9L415,1046.5L410.4,1046.2L405.8,1046.2L401.2,1046.4L396.6,1046.7L392.1,1047.2L387.5,1047.8L383,1048.6L378.5,1049.5L374,1050.5L369.5,1051.7L365.1,1052.9L360.8,1054.2L356.4,1055.7L352.1,1057.2L347.9,1058.9L343.7,1060.6L339.5,1062.5L335.4,1064.4L331.3,1066.5L327.3,1068.6L323.4,1070.8L319.5,1073.1L315.6,1075.6L311.9,1078.1L308.1,1080.7L304.5,1083.4L300.9,1086.1L297.4,1089L294,1091.9L290.6,1095L287.3,1098.1L284.1,1101.2L280.9,1104.5L277.9,1107.8L274.9,1111.2L272,1114.7L269.1,1118.3L266.4,1121.9L263.8,1125.6L261.2,1129.3L258.7,1133.1L256.4,1137L254.1,1141L251.9,1145L249.8,1149L247.8,1153.1L245.9,1157.2L244.1,1161.4L242.4,1165.7L240.8,1170L239.3,1174.3L237.9,1178.7L236.5,1183.1L235.3,1187.5L234.1,1192L233,1196.5L232.1,1201L231.2,1205.6L230.4,1210.2L229.8,1214.8L229.3,1219.5L228.9,1224.1L228.8,1228.8L228.8,1233.5L229,1238.2L229.3,1242.9L229.7,1247.6L230.2,1252.3L230.8,1256.9L231.6,1261.6L232.4,1266.3L233.3,1270.9L234.3,1275.6L235.4,1280.2Z" fill="#50FFAF" stroke="#000" stroke-width="1.6" stroke-linejoin="round"/>
<path d="M264.5,1324.5L266.1,1327.2L267.7,1329.8L269.3,1332.4L271,1334.9L272.7,1337.4L274.4,1339.8L276.2,1342.3L277.9,1344.7L279.7,1347L281.5,1349.4L283.4,1351.7L285.2,1354L287.1,1356.2L289.1,1358.4L291,1360.6L293,1362.8L295,1364.9L297.1,1367L299.1,1369.1L301.3,1371.2L303.4,1373.2L305.6,1375.3L307.8,1377.2L310.1,1379.2L312.4,1381.1L314.7,1383L317.1,1384.9L319.5,1386.8L322,1388.6L324.5,1390.4L327.1,1392.1L329.7,1393.8L332.3,1395.5L335,1397.2L337.8,1398.8L340.6,1400.3L343.4,1401.9L346.3,1403.3L349.3,1404.8L352.3,1406.2L355.3,1407.5L358.5,1408.8L361.6,1410L364.8,1411.2L368.1,1412.3L371.4,1413.4L374.8,1414.4L378.2,1415.3L381.7,1416.2L385.2,1417L388.7,1417.7L392.4,1418.4L396,1419L399.7,1419.5L403.5,1419.9L407.3,1420.3L411.1,1420.6L415,1420.8L418.9,1420.9L422.8,1421L426.8,1420.9L430.9,1420.6L434.9,1420.3L439,1419.8L443.1,1419.2L447.3,1418.5L451.4,1417.6L455.6,1416.6L459.7,1415.5L463.9,1414.3L468.1,1413L472.3,1411.6L476.5,1410L480.7,1408.4L484.8,1406.6L489,1404.8L493.2,1402.7L497.3,1400.6L501.4,1398.3L505.5,1396L509.5,1393.4L513.6,1390.8L517.5,1388L521.5,1385.1L525.4,1382L529.2,1378.8L533,1375.5L536.7,1372.1L540.3,1368.5L543.9,1364.8L547.3,1360.9L550.6,1356.9L553.8,1352.8L556.8,1348.5L559.7,1344.1L562.4,1339.6L564.8,1334.9L567.1,1330.1L569.1,1325.2L570.8,1320.3L572.3,1315.2L573.5,1310.1L574.5,1304.9L575.1,1299.6L575.3,1294.3L575.3,1289.1L574.9,1283.8L574.1,1278.6L573,1273.4L571.6,1268.3L570,1263.2L568.1,1258.3L566,1253.4L563.7,1248.7L561.2,1244L558.6,1239.5L555.9,1235.1L553.1,1230.8L550.3,1226.5L547.4,1222.4L544.6,1218.4L541.7,1214.4L538.8,1210.5L535.8,1206.6L532.9,1202.8L529.9,1199.1L526.9,1195.5L524,1191.9L521,1188.3L517.9,1184.8L514.9,1181.3L511.8,1177.9L508.8,1174.5L505.6,1171.2L502.5,1167.9L499.4,1164.6L496.2,1161.3L493,1158.1L489.7,1154.9L486.5,1151.7L483.1,1148.6L479.8,1145.4L476.4,1142.3L472.9,1139.2L469.4,1136.1L465.9,1133.1L462.2,1130L458.6,1127L454.8,1124L451,1121L447.2,1118L443.2,1115.1L439.2,1112.1L435.1,1109.2L430.9,1106.4L426.6,1103.5L422.2,1100.8L417.7,1098.1L413.1,1095.6L408.3,1093.3L403.5,1091.2L398.6,1089.3L393.6,1087.6L388.4,1086.3L383.3,1085.3L378,1084.6L372.8,1084.3L367.5,1084.4L362.3,1084.9L357.1,1085.7L352,1086.8L346.9,1088.2L341.9,1089.8L337,1091.6L332.1,1093.6L327.4,1095.8L322.7,1098.1L318.2,1100.6L313.7,1103.2L309.4,1105.9L305.1,1108.7L301,1111.7L297,1114.8L293.1,1118L289.4,1121.3L285.7,1124.7L282.2,1128.3L278.9,1131.8L275.7,1135.5L272.6,1139.3L269.6,1143.1L266.8,1147L264.1,1150.9L261.6,1154.9L259.2,1159L256.9,1163.1L254.8,1167.2L252.8,1171.4L250.9,1175.5L249.2,1179.7L247.6,1183.9L246.1,1188.2L244.8,1192.4L243.5,1196.6L242.4,1200.8L241.4,1205L240.5,1209.2L239.8,1213.4L239.1,1217.6L238.7,1221.7L238.3,1225.9L238.1,1229.9L238.1,1234L238.1,1238L238.3,1242L238.6,1245.9L238.9,1249.8L239.4,1253.6L239.9,1257.4L240.5,1261.1L241.2,1264.8L241.9,1268.4L242.7,1272L243.6,1275.5L244.5,1279L245.5,1282.4L246.6,1285.8L247.7,1289.1L248.9,1292.3L250.1,1295.5L251.4,1298.6L252.7,1301.7L254,1304.7L255.4,1307.7L256.8,1310.6L258.3,1313.5L259.8,1316.3L261.3,1319.1L262.9,1321.8Z" fill="#BFFF40" stroke="#000" stroke-width="1.6" stroke-linejoin="round"/>
<path d="M274.1,1325.1L275.6,1327.5L277.1,1329.9L278.7,1332.2L280.3,1334.5L282,1336.7L283.7,1338.9L285.4,1341.1L287.1,1343.3L288.9,1345.4L290.7,1347.4L292.5,1349.5L294.4,1351.5L296.3,1353.4L298.2,1355.3L300.1,1357.2L302.1,1359.1L304,1360.9L306.1,1362.7L308.1,1364.5L310.2,1366.3L312.2,1368L314.4,1369.7L316.5,1371.4L318.7,1373L320.9,1374.6L323.1,1376.2L325.4,1377.8L327.7,1379.4L330,1380.9L332.4,1382.4L334.8,1383.9L337.2,1385.3L339.7,1386.8L342.2,1388.2L344.7,1389.6L347.3,1390.9L349.9,1392.3L352.6,1393.6L355.3,1394.9L358.1,1396.1L360.9,1397.4L363.8,1398.6L366.7,1399.8L369.6,1400.9L372.7,1402L375.7,1403.1L378.9,1404.2L382.1,1405.2L385.3,1406.1L388.6,1407L392,1407.9L395.5,1408.7L398.9,1409.4L402.5,1410.1L406.1,1410.7L409.7,1411.2L413.4,1411.6L417.2,1411.9L421,1412.1L424.8,1412.2L428.7,1412.2L432.6,1412.1L436.6,1411.8L440.6,1411.4L444.5,1410.8L448.5,1410.1L452.5,1409.2L456.5,1408.2L460.5,1407.1L464.5,1405.8L468.4,1404.4L472.3,1402.9L476.2,1401.2L480.1,1399.4L483.8,1397.4L487.6,1395.3L491.2,1393L494.8,1390.6L498.3,1388L501.7,1385.3L505.1,1382.5L508.3,1379.5L511.3,1376.4L514.3,1373.2L517.1,1369.8L519.8,1366.3L522.4,1362.7L524.7,1359L527,1355.2L529,1351.3L530.9,1347.3L532.6,1343.2L534.1,1339L535.4,1334.8L536.5,1330.5L537.4,1326.2L538.1,1321.8L538.6,1317.4L538.9,1313L539,1308.6L538.9,1304.2L538.6,1299.8L538.1,1295.5L537.4,1291.1L536.6,1286.9L535.5,1282.6L534.3,1278.4L532.9,1274.3L531.4,1270.3L529.7,1266.3L527.8,1262.4L525.9,1258.6L523.8,1254.9L521.7,1251.3L519.4,1247.8L517.1,1244.4L514.7,1241L512.3,1237.8L509.8,1234.7L507.2,1231.6L504.7,1228.6L502.1,1225.7L499.5,1222.8L497,1220L494.4,1217.3L491.8,1214.6L489.3,1212L486.7,1209.4L484.1,1206.9L481.6,1204.4L479.1,1201.9L476.6,1199.4L474.1,1196.9L471.6,1194.5L469.1,1192L466.7,1189.5L464.2,1187.1L461.8,1184.6L459.3,1182L456.9,1179.5L454.4,1176.9L452,1174.3L449.5,1171.6L447,1168.9L444.4,1166.2L441.8,1163.5L439.1,1160.8L436.3,1158.1L433.5,1155.4L430.6,1152.8L427.5,1150.1L424.5,1147.5L421.3,1145L418,1142.5L414.6,1140.1L411.1,1137.8L407.5,1135.6L403.9,1133.4L400.1,1131.4L396.3,1129.6L392.3,1127.9L388.3,1126.3L384.2,1124.9L380.1,1123.7L375.8,1122.7L371.6,1121.8L367.3,1121.2L363,1120.8L358.6,1120.5L354.2,1120.5L349.9,1120.7L345.5,1121L341.2,1121.6L336.9,1122.4L332.6,1123.3L328.4,1124.5L324.3,1125.8L320.2,1127.3L316.1,1129L312.2,1130.8L308.3,1132.9L304.6,1135L300.9,1137.4L297.3,1139.9L293.9,1142.5L290.6,1145.3L287.3,1148.2L284.3,1151.2L281.3,1154.3L278.5,1157.6L275.9,1160.9L273.3,1164.4L270.9,1167.9L268.7,1171.5L266.6,1175.1L264.6,1178.8L262.8,1182.5L261.1,1186.3L259.5,1190.1L258.1,1194L256.8,1197.8L255.6,1201.7L254.5,1205.6L253.6,1209.4L252.8,1213.3L252.1,1217.2L251.5,1221L251.1,1224.8L250.8,1228.6L250.5,1232.4L250.4,1236.1L250.4,1239.8L250.5,1243.4L250.7,1247L250.9,1250.6L251.2,1254.1L251.5,1257.5L251.9,1261L252.4,1264.3L252.9,1267.7L253.5,1271L254.1,1274.2L254.8,1277.4L255.6,1280.6L256.4,1283.7L257.2,1286.7L258.1,1289.7L259.1,1292.7L260.1,1295.7L261.2,1298.6L262.3,1301.4L263.4,1304.2L264.6,1307L265.8,1309.7L267.1,1312.3L268.4,1315L269.8,1317.6L271.2,1320.1L272.6,1322.6Z" fill="#FFCF00" stroke="#000" stroke-width="1.6" stroke-linejoin="round"/>
<path d="M504.8,1285L503.7,1281.6L502.4,1278.3L501.1,1275L499.6,1271.8L498,1268.7L496.4,1265.6L494.7,1262.6L492.9,1259.7L491,1256.9L489.1,1254.2L487.1,1251.5L485.1,1248.9L483.1,1246.4L481.1,1243.9L479,1241.5L476.9,1239.2L474.8,1236.9L472.7,1234.7L470.6,1232.6L468.5,1230.5L466.4,1228.4L464.3,1226.4L462.2,1224.4L460.2,1222.4L458.2,1220.4L456.2,1218.5L454.2,1216.5L452.2,1214.6L450.2,1212.7L448.2,1210.8L446.3,1208.8L444.3,1206.9L442.4,1204.9L440.4,1203L438.5,1201L436.5,1199L434.5,1197L432.5,1194.9L430.5,1192.9L428.4,1190.8L426.3,1188.7L424.1,1186.7L421.9,1184.6L419.6,1182.5L417.3,1180.4L414.9,1178.3L412.5,1176.3L410,1174.3L407.4,1172.3L404.7,1170.3L402,1168.4L399.2,1166.5L396.3,1164.7L393.3,1163L390.3,1161.4L387.2,1159.8L384,1158.3L380.7,1157L377.4,1155.7L374,1154.6L370.6,1153.6L367.1,1152.7L363.5,1152L360,1151.4L356.4,1151L352.7,1150.7L349.1,1150.6L345.4,1150.6L341.8,1150.8L338.1,1151.2L334.5,1151.7L330.9,1152.4L327.4,1153.3L323.8,1154.3L320.4,1155.5L317,1156.9L313.6,1158.4L310.3,1160.1L307.2,1161.9L304.1,1163.9L301.1,1166L298.2,1168.2L295.4,1170.6L292.7,1173.1L290.1,1175.7L287.7,1178.4L285.3,1181.2L283.1,1184.1L281,1187L279.1,1190.1L277.3,1193.2L275.5,1196.4L274,1199.6L272.5,1202.9L271.2,1206.2L270,1209.5L268.9,1212.8L267.9,1216.2L267.1,1219.6L266.3,1222.9L265.7,1226.3L265.2,1229.7L264.8,1233L264.5,1236.3L264.3,1239.6L264.2,1242.9L264.2,1246.2L264.3,1249.4L264.4,1252.6L264.6,1255.7L264.9,1258.8L265.2,1261.9L265.6,1264.9L266.1,1267.9L266.6,1270.9L267.2,1273.8L267.8,1276.6L268.4,1279.5L269.1,1282.3L269.9,1285L270.7,1287.7L271.5,1290.4L272.4,1293L273.3,1295.6L274.2,1298.1L275.2,1300.6L276.2,1303.1L277.3,1305.6L278.3,1308L279.5,1310.3L280.6,1312.7L281.8,1315L283,1317.2L284.2,1319.5L285.5,1321.7L286.8,1323.8L288.2,1325.9L289.5,1328L290.9,1330.1L292.4,1332.1L293.8,1334.1L295.3,1336.1L296.9,1338L298.4,1339.9L300,1341.8L301.6,1343.6L303.3,1345.4L304.9,1347.2L306.6,1348.9L308.4,1350.6L310.1,1352.3L311.9,1353.9L313.7,1355.6L315.6,1357.2L317.4,1358.7L319.3,1360.2L321.3,1361.7L323.2,1363.2L325.2,1364.7L327.2,1366.1L329.2,1367.5L331.3,1368.9L333.4,1370.2L335.5,1371.5L337.6,1372.9L339.8,1374.1L342,1375.4L344.2,1376.6L346.5,1377.9L348.8,1379.1L351.1,1380.2L353.5,1381.4L355.9,1382.5L358.4,1383.6L360.9,1384.7L363.4,1385.8L366,1386.8L368.6,1387.8L371.3,1388.7L374,1389.6L376.8,1390.5L379.6,1391.4L382.4,1392.2L385.3,1392.9L388.3,1393.6L391.3,1394.2L394.3,1394.8L397.4,1395.3L400.6,1395.7L403.8,1396.1L407,1396.4L410.2,1396.6L413.5,1396.7L416.9,1396.8L420.2,1396.7L423.6,1396.6L427,1396.3L430.4,1395.9L433.8,1395.4L437.3,1394.8L440.7,1394L444.1,1393.1L447.5,1392.1L450.9,1391L454.3,1389.7L457.6,1388.3L460.9,1386.8L464.1,1385.1L467.3,1383.3L470.4,1381.4L473.4,1379.4L476.4,1377.2L479.3,1374.9L482,1372.5L484.7,1370L487.3,1367.3L489.7,1364.5L492,1361.7L494.2,1358.7L496.3,1355.6L498.2,1352.4L500,1349.2L501.6,1345.8L503,1342.4L504.3,1339L505.5,1335.5L506.5,1331.9L507.3,1328.3L508,1324.7L508.4,1321L508.8,1317.4L508.9,1313.7L508.9,1310L508.8,1306.3L508.5,1302.7L508,1299.1L507.4,1295.5L506.7,1292L505.8,1288.5Z" fill="#FF6000" stroke="#000" stroke-width="1.6" stroke-linejoin="round"/>
<path d="M472.5,1285L471.5,1282.4L470.4,1280L469.2,1277.5L467.9,1275.1L466.6,1272.8L465.3,1270.5L463.9,1268.3L462.5,1266.2L461,1264.1L459.5,1262.1L458,1260.1L456.4,1258.2L454.9,1256.4L453.3,1254.5L451.8,1252.8L450.2,1251.1L448.7,1249.4L447.1,1247.8L445.5,1246.2L444,1244.6L442.4,1243.1L440.9,1241.5L439.4,1240.1L437.9,1238.6L436.4,1237.1L434.9,1235.7L433.4,1234.2L432,1232.8L430.5,1231.4L429,1230L427.6,1228.5L426.2,1227.1L424.7,1225.6L423.3,1224.2L421.8,1222.7L420.3,1221.2L418.8,1219.8L417.3,1218.3L415.8,1216.7L414.3,1215.2L412.7,1213.7L411.1,1212.2L409.5,1210.6L407.8,1209.1L406.1,1207.5L404.3,1206L402.5,1204.4L400.7,1202.9L398.8,1201.4L396.8,1199.9L394.8,1198.4L392.7,1197L390.6,1195.6L388.4,1194.2L386.1,1192.8L383.8,1191.5L381.5,1190.3L379,1189.1L376.5,1188L374,1187L371.4,1186L368.8,1185.2L366.1,1184.4L363.4,1183.7L360.6,1183.1L357.8,1182.6L354.9,1182.2L352.1,1181.9L349.2,1181.8L346.3,1181.7L343.4,1181.8L340.5,1182L337.7,1182.4L334.8,1182.8L331.9,1183.4L329.1,1184.2L326.3,1185L323.6,1186L320.8,1187.1L318.2,1188.3L315.6,1189.7L313.1,1191.2L310.6,1192.7L308.2,1194.4L305.9,1196.2L303.7,1198.2L301.5,1200.2L299.5,1202.3L297.6,1204.5L295.7,1206.7L294,1209.1L292.4,1211.5L290.8,1214L289.4,1216.5L288.1,1219.1L286.9,1221.8L285.8,1224.5L284.9,1227.2L284,1229.9L283.3,1232.6L282.6,1235.4L282.1,1238.2L281.6,1241L281.3,1243.7L281,1246.5L280.8,1249.3L280.8,1252L280.8,1254.7L280.8,1257.4L281,1260.1L281.2,1262.7L281.5,1265.3L281.8,1267.9L282.2,1270.5L282.7,1273L283.2,1275.5L283.8,1277.9L284.4,1280.3L285,1282.7L285.7,1285L286.4,1287.3L287.2,1289.5L288,1291.8L288.8,1294L289.6,1296.1L290.5,1298.2L291.4,1300.3L292.3,1302.4L293.3,1304.4L294.3,1306.4L295.3,1308.3L296.3,1310.3L297.3,1312.2L298.4,1314L299.5,1315.9L300.6,1317.7L301.7,1319.5L302.8,1321.3L304,1323L305.2,1324.7L306.4,1326.4L307.7,1328.1L308.9,1329.7L310.2,1331.3L311.6,1332.9L312.9,1334.5L314.3,1336L315.7,1337.5L317.1,1339L318.5,1340.5L320,1341.9L321.5,1343.3L323,1344.7L324.6,1346.1L326.1,1347.4L327.7,1348.7L329.3,1350L331,1351.3L332.6,1352.5L334.3,1353.7L336,1354.9L337.8,1356.1L339.5,1357.2L341.3,1358.4L343.1,1359.5L345,1360.6L346.9,1361.6L348.8,1362.7L350.7,1363.7L352.6,1364.7L354.6,1365.7L356.6,1366.7L358.7,1367.7L360.8,1368.6L362.9,1369.5L365,1370.4L367.2,1371.2L369.4,1372.1L371.7,1372.9L374,1373.6L376.3,1374.3L378.7,1375L381.1,1375.7L383.6,1376.3L386.1,1376.8L388.6,1377.3L391.2,1377.8L393.8,1378.1L396.4,1378.5L399.1,1378.7L401.8,1378.9L404.5,1379L407.3,1379L410,1378.9L412.8,1378.8L415.6,1378.5L418.4,1378.2L421.2,1377.8L424,1377.2L426.8,1376.6L429.6,1375.8L432.4,1374.9L435.1,1374L437.8,1372.9L440.5,1371.7L443.1,1370.3L445.6,1368.9L448.1,1367.4L450.6,1365.7L452.9,1363.9L455.2,1362.1L457.4,1360.1L459.5,1358L461.5,1355.9L463.4,1353.6L465.3,1351.3L467,1348.9L468.5,1346.4L470,1343.8L471.4,1341.2L472.6,1338.5L473.7,1335.8L474.7,1333L475.5,1330.2L476.2,1327.3L476.8,1324.5L477.2,1321.6L477.6,1318.7L477.8,1315.7L477.9,1312.8L477.8,1309.9L477.6,1307L477.4,1304.2L477,1301.3L476.5,1298.5L475.9,1295.7L475.2,1293L474.4,1290.3L473.5,1287.6Z" fill="#EF0000" stroke="#000" stroke-width="1.6" stroke-linejoin="round"/>
<path d="M436.4,1285L435.6,1283.4L434.9,1281.8L434.1,1280.3L433.3,1278.8L432.5,1277.3L431.7,1275.9L430.8,1274.5L430,1273.1L429.1,1271.8L428.3,1270.5L427.4,1269.2L426.5,1267.9L425.6,1266.7L424.7,1265.5L423.9,1264.3L423,1263.2L422.1,1262.1L421.2,1261L420.3,1259.9L419.4,1258.8L418.5,1257.8L417.5,1256.7L416.6,1255.7L415.7,1254.7L414.8,1253.7L413.9,1252.7L413,1251.7L412,1250.8L411.1,1249.8L410.1,1248.9L409.2,1247.9L408.2,1247L407.3,1246L406.3,1245.1L405.3,1244.2L404.3,1243.3L403.3,1242.4L402.3,1241.4L401.3,1240.5L400.2,1239.6L399.2,1238.7L398.1,1237.8L397,1236.8L395.8,1235.9L394.7,1235L393.5,1234.1L392.4,1233.2L391.1,1232.3L389.9,1231.3L388.6,1230.4L387.3,1229.5L386,1228.6L384.6,1227.7L383.2,1226.9L381.8,1226L380.3,1225.2L378.8,1224.3L377.2,1223.5L375.6,1222.8L374,1222L372.3,1221.3L370.6,1220.6L368.9,1220L367.1,1219.4L365.3,1218.9L363.4,1218.4L361.6,1218L359.7,1217.6L357.7,1217.3L355.8,1217L353.8,1216.9L351.8,1216.8L349.8,1216.8L347.8,1216.8L345.8,1217L343.8,1217.2L341.8,1217.5L339.8,1217.9L337.9,1218.4L335.9,1219L334,1219.7L332.1,1220.5L330.2,1221.3L328.4,1222.3L326.6,1223.3L324.9,1224.4L323.3,1225.6L321.6,1226.9L320.1,1228.2L318.6,1229.6L317.2,1231.1L315.8,1232.7L314.6,1234.3L313.4,1235.9L312.3,1237.6L311.2,1239.4L310.3,1241.2L309.4,1243L308.6,1244.9L307.9,1246.8L307.2,1248.7L306.7,1250.7L306.2,1252.7L305.8,1254.6L305.4,1256.6L305.2,1258.6L305,1260.5L304.8,1262.5L304.8,1264.5L304.7,1266.4L304.8,1268.4L304.9,1270.3L305.1,1272.2L305.3,1274.1L305.5,1276L305.8,1277.8L306.2,1279.7L306.6,1281.5L307,1283.2L307.5,1285L308,1286.7L308.5,1288.4L309.1,1290.1L309.7,1291.8L310.3,1293.4L310.9,1295L311.6,1296.6L312.3,1298.1L313,1299.6L313.8,1301.1L314.6,1302.6L315.3,1304.1L316.2,1305.5L317,1306.9L317.8,1308.3L318.7,1309.6L319.6,1310.9L320.5,1312.2L321.5,1313.5L322.4,1314.8L323.4,1316L324.4,1317.2L325.4,1318.4L326.4,1319.6L327.5,1320.7L328.5,1321.8L329.6,1322.9L330.7,1324L331.8,1325L333,1326L334.1,1327.1L335.2,1328L336.4,1329L337.6,1330L338.8,1330.9L340,1331.8L341.2,1332.7L342.4,1333.6L343.7,1334.5L344.9,1335.4L346.2,1336.2L347.5,1337.1L348.8,1337.9L350.1,1338.8L351.4,1339.6L352.7,1340.4L354.1,1341.2L355.5,1342L356.9,1342.9L358.3,1343.6L359.7,1344.4L361.2,1345.2L362.7,1346L364.2,1346.8L365.8,1347.5L367.4,1348.2L369,1349L370.6,1349.7L372.3,1350.3L374,1351L375.7,1351.6L377.5,1352.2L379.3,1352.7L381.2,1353.2L383,1353.7L384.9,1354.1L386.9,1354.5L388.8,1354.8L390.8,1355L392.8,1355.2L394.8,1355.3L396.9,1355.3L398.9,1355.3L400.9,1355.2L403,1355L405,1354.7L407.1,1354.3L409.1,1353.9L411.1,1353.3L413.1,1352.7L415,1351.9L416.9,1351.1L418.8,1350.2L420.6,1349.2L422.4,1348.1L424.1,1346.9L425.8,1345.7L427.4,1344.3L428.9,1342.9L430.4,1341.4L431.8,1339.8L433.1,1338.2L434.3,1336.5L435.4,1334.7L436.4,1332.9L437.4,1331.1L438.3,1329.2L439,1327.2L439.7,1325.3L440.3,1323.3L440.8,1321.3L441.2,1319.2L441.5,1317.2L441.8,1315.2L441.9,1313.1L442,1311.1L442,1309.1L441.9,1307.1L441.7,1305.1L441.5,1303.1L441.2,1301.1L440.9,1299.2L440.5,1297.3L440,1295.5L439.5,1293.6L439,1291.8L438.4,1290.1L437.7,1288.3L437.1,1286.7Z" fill="#800000" stroke="#000" stroke-width="1.6" stroke-linejoin="round"/>
<rect x="73.2" y="861.5" width="725.1999999999999" height="725.7" fill="url(#streak)"/>
<rect x="73.2" y="861.5" width="9" height="725.7" fill="url(#edge)"/>
</g>
<text transform="translate(73.2,1632.9) scale(0.91,1)" text-anchor="middle" class="t">0</text>
<path d="M224.3,1587.2 v-7 M224.3,861.5 v7" stroke="#262626" stroke-width="1.4" fill="none"/>
<text transform="translate(224.3,1632.9) scale(0.91,1)" text-anchor="middle" class="t">50</text>
<path d="M375.4,1587.2 v-7 M375.4,861.5 v7" stroke="#262626" stroke-width="1.4" fill="none"/>
<text transform="translate(375.4,1632.9) scale(0.91,1)" text-anchor="middle" class="t">100</text>
<path d="M526.5,1587.2 v-7 M526.5,861.5 v7" stroke="#262626" stroke-width="1.4" fill="none"/>
<text transform="translate(526.5,1632.9) scale(0.91,1)" text-anchor="middle" class="t">150</text>
<path d="M677.5,1587.2 v-7 M677.5,861.5 v7" stroke="#262626" stroke-width="1.4" fill="none"/>
<text transform="translate(677.5,1632.9) scale(0.91,1)" text-anchor="middle" class="t">200</text>
<text transform="translate(60,1600) scale(0.91,1)" text-anchor="end" class="t">0</text>
<path d="M73.2,1436 h7 M798.4,1436 h-7" stroke="#262626" stroke-width="1.4" fill="none"/>
<text transform="translate(60,1448.8) scale(0.91,1)" text-anchor="end" class="t">50</text>
<path d="M73.2,1284.8 h7 M798.4,1284.8 h-7" stroke="#262626" stroke-width="1.4" fill="none"/>
<text transform="translate(60,1297.6) scale(0.91,1)" text-anchor="end" class="t">100</text>
<path d="M73.2,1133.6 h7 M798.4,1133.6 h-7" stroke="#262626" stroke-width="1.4" fill="none"/>
<text transform="translate(60,1146.4) scale(0.91,1)" text-anchor="end" class="t">150</text>
<path d="M73.2,982.5 h7 M798.4,982.5 h-7" stroke="#262626" stroke-width="1.4" fill="none"/>
<text transform="translate(60,995.2) scale(0.91,1)" text-anchor="end" class="t">200</text>
<rect x="73.2" y="861.5" width="725.1999999999999" height="725.7" fill="none" stroke="#262626" stroke-width="1.5"/>
<rect x="841.2" y="861.50" width="40.59999999999991" height="725.70" fill="#800000"/>
<rect x="841.2" y="872.84" width="40.59999999999991" height="714.36" fill="#8F0000"/>
<rect x="841.2" y="884.18" width="40.59999999999991" height="703.02" fill="#9F0000"/>
<rect x="841.2" y="895.52" width="40.59999999999991" height="691.68" fill="#AF0000"/>
<rect x="841.2" y="906.86" width="40.59999999999991" height="680.34" fill="#BF0000"/>
<rect x="841.2" y="918.20" width="40.59999999999991" height="669.00" fill="#CF0000"/>
<rect x="841.2" y="929.53" width="40.59999999999991" height="657.67" fill="#DF0000"/>
<rect x="841.2" y="940.87" width="40.59999999999991" height="646.33" fill="#EF0000"/>
<rect x="841.2" y="952.21" width="40.59999999999991" height="634.99" fill="#FF0000"/>
<rect x="841.2" y="963.55" width="40.59999999999991" height="623.65" fill="#FF1000"/>
<rect x="841.2" y="974.89" width="40.59999999999991" height="612.31" fill="#FF2000"/>
<rect x="841.2" y="986.23" width="40.59999999999991" height="600.97" fill="#FF3000"/>
<rect x="841.2" y="997.57" width="40.59999999999991" height="589.63" fill="#FF4000"/>
<rect x="841.2" y="1008.91" width="40.59999999999991" height="578.29" fill="#FF5000"/>
<rect x="841.2" y="1020.25" width="40.59999999999991" height="566.95" fill="#FF6000"/>
<rect x="841.2" y="1031.59" width="40.59999999999991" height="555.61" fill="#FF7000"/>
<rect x="841.2" y="1042.92" width="40.59999999999991" height="544.28" fill="#FF8000"/>
<rect x="841.2" y="1054.26" width="40.59999999999991" height="532.94" fill="#FF8F00"/>
<rect x="841.2" y="1065.60" width="40.59999999999991" height="521.60" fill="#FF9F00"/>
<rect x="841.2" y="1076.94" width="40.59999999999991" height="510.26" fill="#FFAF00"/>
<rect x="841.2" y="1088.28" width="40.59999999999991" height="498.92" fill="#FFBF00"/>
<rect x="841.2" y="1099.62" width="40.59999999999991" height="487.58" fill="#FFCF00"/>
<rect x="841.2" y="1110.96" width="40.59999999999991" height="476.24" fill="#FFDF00"/>
<rect x="841.2" y="1122.30" width="40.59999999999991" height="464.90" fill="#FFEF00"/>
<rect x="841.2" y="1133.64" width="40.59999999999991" height="453.56" fill="#FFFF00"/>
<rect x="841.2" y="1144.98" width="40.59999999999991" height="442.22" fill="#EFFF10"/>
<rect x="841.2" y="1156.32" width="40.59999999999991" height="430.88" fill="#DFFF20"/>
<rect x="841.2" y="1167.65" width="40.59999999999991" height="419.55" fill="#CFFF30"/>
<rect x="841.2" y="1178.99" width="40.59999999999991" height="408.21" fill="#BFFF40"/>
<rect x="841.2" y="1190.33" width="40.59999999999991" height="396.87" fill="#AFFF50"/>
<rect x="841.2" y="1201.67" width="40.59999999999991" height="385.53" fill="#9FFF60"/>
<rect x="841.2" y="1213.01" width="40.59999999999991" height="374.19" fill="#8FFF70"/>
<rect x="841.2" y="1224.35" width="40.59999999999991" height="362.85" fill="#80FF80"/>
<rect x="841.2" y="1235.69" width="40.59999999999991" height="351.51" fill="#70FF8F"/>
<rect x="841.2" y="1247.03" width="40.59999999999991" height="340.17" fill="#60FF9F"/>
<rect x="841.2" y="1258.37" width="40.59999999999991" height="328.83" fill="#50FFAF"/>
<rect x="841.2" y="1269.71" width="40.59999999999991" height="317.49" fill="#40FFBF"/>
<rect x="841.2" y="1281.05" width="40.59999999999991" height="306.15" fill="#30FFCF"/>
<rect x="841.2" y="1292.38" width="40.59999999999991" height="294.82" fill="#20FFDF"/>
<rect x="841.2" y="1303.72" width="40.59999999999991" height="283.48" fill="#10FFEF"/>
<rect x="841.2" y="1315.06" width="40.59999999999991" height="272.14" fill="#00FFFF"/>
<rect x="841.2" y="1326.40" width="40.59999999999991" height="260.80" fill="#00EFFF"/>
<rect x="841.2" y="1337.74" width="40.59999999999991" height="249.46" fill="#00DFFF"/>
<rect x="841.2" y="1349.08" width="40.59999999999991" height="238.12" fill="#00CFFF"/>
<rect x="841.2" y="1360.42" width="40.59999999999991" height="226.78" fill="#00BFFF"/>
<rect x="841.2" y="1371.76" width="40.59999999999991" height="215.44" fill="#00AFFF"/>
<rect x="841.2" y="1383.10" width="40.59999999999991" height="204.10" fill="#009FFF"/>
<rect x="841.2" y="1394.44" width="40.59999999999991" height="192.76" fill="#008FFF"/>
<rect x="841.2" y="1405.78" width="40.59999999999991" height="181.42" fill="#0080FF"/>
<rect x="841.2" y="1417.11" width="40.59999999999991" height="170.09" fill="#0070FF"/>
<rect x="841.2" y="1428.45" width="40.59999999999991" height="158.75" fill="#0060FF"/>
<rect x="841.2" y="1439.79" width="40.59999999999991" height="147.41" fill="#0050FF"/>
<rect x="841.2" y="1451.13" width="40.59999999999991" height="136.07" fill="#0040FF"/>
<rect x="841.2" y="1462.47" width="40.59999999999991" height="124.73" fill="#0030FF"/>
<rect x="841.2" y="1473.81" width="40.59999999999991" height="113.39" fill="#0020FF"/>
<rect x="841.2" y="1485.15" width="40.59999999999991" height="102.05" fill="#0010FF"/>
<rect x="841.2" y="1496.49" width="40.59999999999991" height="90.71" fill="#0000FF"/>
<rect x="841.2" y="1507.83" width="40.59999999999991" height="79.37" fill="#0000EF"/>
<rect x="841.2" y="1519.17" width="40.59999999999991" height="68.03" fill="#0000DF"/>
<rect x="841.2" y="1530.50" width="40.59999999999991" height="56.70" fill="#0000CF"/>
<rect x="841.2" y="1541.84" width="40.59999999999991" height="45.36" fill="#0000BF"/>
<rect x="841.2" y="1553.18" width="40.59999999999991" height="34.02" fill="#0000AF"/>
<rect x="841.2" y="1564.52" width="40.59999999999991" height="22.68" fill="#00009F"/>
<rect x="841.2" y="1575.86" width="40.59999999999991" height="11.34" fill="#00008F"/>
<path d="M841.2,1491.9 h7 M881.8,1491.9 h-7" stroke="#262626" stroke-width="1.3" fill="none"/>
<text transform="translate(893.6,1502.5) scale(0.95,1)" class="c">1</text>
<path d="M841.2,1313.3 h7 M881.8,1313.3 h-7" stroke="#262626" stroke-width="1.3" fill="none"/>
<text transform="translate(893.6,1323.9) scale(0.95,1)" class="c">2</text>
<path d="M841.2,1134.8 h7 M881.8,1134.8 h-7" stroke="#262626" stroke-width="1.3" fill="none"/>
<text transform="translate(893.6,1145.4) scale(0.95,1)" class="c">3</text>
<path d="M841.2,956.4 h7 M881.8,956.4 h-7" stroke="#262626" stroke-width="1.3" fill="none"/>
<text transform="translate(893.6,967) scale(0.95,1)" class="c">4</text>
<rect x="841.2" y="861.5" width="40.59999999999991" height="725.7" fill="none" stroke="#262626" stroke-width="1.5"/>
<text transform="translate(469,1698) scale(0.975,1)" text-anchor="middle" class="L">c</text>
</g>
<g id="panel-d">
<clipPath id="clip-d"><rect x="1000.0" y="861.5" width="725.2" height="725.7"/></clipPath>
<g clip-path="url(#clip-d)">
<rect x="1000.0" y="861.5" width="725.2" height="725.7" fill="#00008F"/>
<path d="M1134.5,1231.7L1134.5,1237.7L1134.7,1243.7L1135.1,1249.7L1135.8,1255.6L1136.6,1261.6L1137.6,1267.5L1138.8,1273.4L1140.2,1279.3L1141.8,1285.1L1143.5,1290.9L1145.4,1296.6L1147.5,1302.2L1149.7,1307.8L1152.1,1313.3L1154.6,1318.7L1157.3,1324.1L1160.1,1329.4L1163,1334.7L1166.1,1339.8L1169.3,1344.9L1172.6,1349.9L1176,1354.8L1179.5,1359.6L1183.1,1364.4L1186.9,1369.1L1190.7,1373.7L1194.7,1378.1L1198.8,1382.5L1202.9,1386.8L1207.2,1391L1211.6,1395.1L1216.2,1399L1220.8,1402.8L1225.5,1406.5L1230.4,1410L1235.3,1413.4L1240.4,1416.6L1245.5,1419.7L1250.7,1422.6L1256.1,1425.3L1261.5,1427.9L1267,1430.2L1272.5,1432.4L1278.1,1434.5L1283.8,1436.4L1289.4,1438.3L1295.1,1440.1L1300.7,1441.9L1306.4,1443.7L1312.1,1445.5L1317.8,1447.4L1323.6,1449.2L1329.4,1450.9L1335.3,1452.4L1341.2,1453.6L1347.2,1454.5L1353.3,1455.2L1359.3,1455.5L1365.4,1455.6L1371.5,1455.5L1377.5,1455.1L1383.6,1454.4L1389.6,1453.6L1395.6,1452.5L1401.5,1451.3L1407.4,1449.8L1413.2,1448.2L1418.9,1446.4L1424.6,1444.4L1430.3,1442.3L1435.8,1440L1441.3,1437.6L1446.7,1435.1L1452.1,1432.5L1457.4,1429.8L1462.7,1427.1L1467.9,1424.3L1473.2,1421.5L1478.4,1418.7L1483.5,1415.8L1488.7,1412.8L1493.8,1409.7L1498.9,1406.5L1503.8,1403.2L1508.7,1399.8L1513.5,1396.2L1518.2,1392.4L1522.8,1388.5L1527.2,1384.5L1531.5,1380.2L1535.6,1375.8L1539.6,1371.3L1543.3,1366.6L1546.9,1361.7L1550.3,1356.7L1553.5,1351.7L1556.5,1346.5L1559.4,1341.2L1562.1,1335.8L1564.6,1330.4L1566.9,1324.9L1569.1,1319.3L1571.1,1313.7L1572.9,1308L1574.6,1302.4L1576.1,1296.6L1577.6,1290.9L1578.8,1285.2L1580,1279.4L1581,1273.6L1581.9,1267.8L1582.7,1262L1583.4,1256.2L1583.9,1250.4L1584.4,1244.6L1584.7,1238.8L1584.8,1233L1584.9,1227.2L1584.8,1221.4L1584.5,1215.6L1584.2,1209.8L1583.7,1204L1583,1198.3L1582.2,1192.5L1581.3,1186.8L1580.3,1181.1L1579.1,1175.5L1577.7,1169.8L1576.2,1164.3L1574.6,1158.7L1572.8,1153.2L1570.8,1147.8L1568.7,1142.4L1566.5,1137L1564.1,1131.7L1561.6,1126.5L1558.9,1121.4L1556.1,1116.4L1553.2,1111.4L1550.2,1106.5L1547,1101.7L1543.7,1096.9L1540.2,1092.3L1536.7,1087.8L1533,1083.3L1529.2,1079L1525.3,1074.7L1521.3,1070.6L1517.2,1066.5L1513,1062.6L1508.7,1058.7L1504.4,1055L1499.9,1051.4L1495.3,1047.9L1490.7,1044.5L1486,1041.2L1481.2,1038L1476.3,1035L1471.3,1032.1L1466.3,1029.3L1461.2,1026.6L1456,1024L1450.8,1021.6L1445.5,1019.3L1440.2,1017.1L1434.8,1015.1L1429.3,1013.2L1423.9,1011.4L1418.3,1009.8L1412.7,1008.3L1407.1,1006.9L1401.4,1005.7L1395.7,1004.6L1390,1003.7L1384.3,1002.9L1378.5,1002.3L1372.7,1001.8L1366.9,1001.5L1361.1,1001.3L1355.3,1001.2L1349.4,1001.3L1343.6,1001.6L1337.8,1002L1332,1002.6L1326.2,1003.3L1320.4,1004.2L1314.6,1005.2L1308.9,1006.4L1303.2,1007.7L1297.5,1009.2L1291.9,1010.8L1286.3,1012.6L1280.7,1014.6L1275.2,1016.6L1269.8,1018.9L1264.4,1021.3L1259,1023.8L1253.8,1026.5L1248.6,1029.3L1243.5,1032.2L1238.5,1035.3L1233.5,1038.6L1228.6,1041.9L1223.9,1045.5L1219.2,1049.1L1214.6,1052.9L1210.2,1056.8L1205.8,1060.8L1201.6,1064.9L1197.5,1069.2L1193.4,1073.5L1189.6,1078L1185.8,1082.6L1182.2,1087.3L1178.7,1092.1L1175.3,1097L1172.1,1102L1169.1,1107.1L1166.1,1112.2L1163.4,1117.4L1160.8,1122.8L1158.3,1128.1L1156,1133.6L1153.8,1139.1L1151.8,1144.6L1149.9,1150.2L1148.1,1155.9L1146.5,1161.5L1144.9,1167.2L1143.4,1172.9L1142,1178.7L1140.7,1184.4L1139.5,1190.2L1138.3,1196.1L1137.3,1201.9L1136.4,1207.8L1135.7,1213.7L1135.1,1219.7L1134.7,1225.7Z" fill="#0000FF" stroke="#000" stroke-width="1.6" stroke-linejoin="round"/>
<path d="M1147.4,1277.7L1150.2,1286.2L1152.9,1294.9L1156.2,1303.2L1159.8,1311.5L1163.2,1319.9L1167.4,1327.8L1172.8,1335.1L1177.3,1343L1182.6,1350.2L1188.9,1356.8L1194.4,1363.9L1200.9,1370.2L1207.1,1376.7L1213.9,1382.6L1220.5,1388.8L1227.9,1393.9L1235.4,1399L1242.6,1404.3L1250.3,1409L1258,1413.6L1265.6,1418.6L1273.9,1422.1L1282,1426.3L1290.1,1430.2L1298.3,1433.9L1307,1436.2L1315.5,1439.4L1324.2,1441.8L1332.9,1444L1341.7,1446.1L1350.5,1447.5L1359.4,1448.9L1368.4,1448.5L1377.4,1448.1L1386.2,1446.1L1395.1,1444.3L1404,1442.9L1412.7,1440.4L1421.3,1437.6L1429.5,1433.9L1438,1431L1446.1,1427L1454.3,1423.2L1462,1418.5L1469.7,1413.8L1477.1,1408.8L1484.2,1403.2L1491.2,1397.5L1497.7,1391.3L1504.4,1385.2L1510.4,1378.5L1516.4,1371.8L1521.9,1364.6L1527.4,1357.5L1532.7,1350.2L1536.6,1342.1L1540.7,1334.1L1544.4,1325.9L1547.9,1317.6L1550.6,1309L1553.3,1300.4L1554.4,1291.4L1555.9,1282.5L1556.8,1273.6L1557.1,1264.5L1555.9,1255.6L1554.8,1246.7L1554.1,1237.6L1551.2,1229.1L1548.7,1220.4L1545.5,1212L1541.5,1203.9L1536.7,1196.3L1531.8,1188.7L1527.3,1180.9L1521.3,1174.1L1515.9,1166.8L1509.3,1160.6L1503.2,1154L1496.4,1148.1L1489.7,1142.1L1483.3,1135.7L1476.3,1130L1470.1,1123.4L1463.8,1116.9L1457.2,1110.9L1451.4,1103.9L1445.1,1097.4L1438.8,1091L1432.5,1084.6L1426.5,1077.8L1420.1,1071.4L1412.9,1066L1406.4,1059.7L1398.8,1054.8L1391.5,1049.6L1384,1044.5L1376,1040.3L1367.8,1036.7L1359.2,1033.9L1350.6,1031.5L1341.7,1029.9L1332.7,1029L1323.7,1028.9L1314.7,1028.6L1305.7,1029.1L1296.8,1030.6L1287.9,1031.8L1279.2,1034.1L1270.8,1037.4L1262.2,1040.1L1253.9,1043.6L1245.5,1047.1L1237.8,1051.8L1230.3,1056.7L1222.5,1061.3L1215.7,1067.3L1208.8,1073.1L1201.7,1078.7L1195.8,1085.5L1189.6,1092.1L1184.1,1099.2L1178.4,1106.2L1173.7,1113.9L1169,1121.6L1164,1129.1L1160,1137.2L1156.9,1145.7L1153.9,1154.2L1150.3,1162.5L1147.9,1171.2L1145.8,1180L1143.4,1188.7L1141.6,1197.5L1140,1206.4L1139.1,1215.4L1138.9,1224.4L1139,1233.4L1140.1,1242.3L1142,1251.2L1143,1260.2L1145.6,1268.8Z" fill="#0070FF" stroke="#000" stroke-width="1.6" stroke-linejoin="round"/>
<path d="M1154.9,1277.7L1157.4,1286.3L1160.5,1294.7L1163.7,1303.1L1167.3,1311.3L1171.5,1319.2L1176.2,1326.9L1180.8,1334.5L1185.9,1341.9L1191,1349.3L1196.7,1356.2L1202.6,1363L1208.7,1369.6L1215.1,1375.9L1221.8,1381.8L1228.9,1387.3L1235.9,1392.9L1243.2,1398.2L1250.6,1403.1L1258.1,1408.1L1265.9,1412.6L1273.8,1416.6L1281.9,1420.5L1290.2,1424.1L1298.5,1427.4L1306.8,1430.7L1315.5,1433.1L1324.1,1435.4L1332.8,1437.6L1341.6,1439.5L1350.5,1440.6L1359.4,1441.5L1368.4,1441.1L1377.3,1440.4L1386.2,1439.3L1395,1437.6L1403.6,1435.2L1412.3,1432.9L1420.8,1430L1429.2,1426.8L1437.4,1423.4L1445.4,1419.3L1453.2,1414.8L1460.7,1409.9L1468,1404.7L1474.9,1399L1481.3,1392.7L1487.8,1386.5L1493.7,1379.7L1498.9,1372.4L1504,1365.1L1508.5,1357.3L1512.6,1349.3L1516.2,1341.1L1518.9,1332.6L1521.8,1324.1L1523.6,1315.3L1525.1,1306.4L1525.5,1297.5L1525.8,1288.5L1525.3,1279.6L1523.9,1270.7L1522.3,1261.9L1519.8,1253.3L1516.8,1244.8L1513.7,1236.4L1509.8,1228.3L1505.3,1220.5L1500.3,1213.1L1495.2,1205.8L1489.8,1198.6L1484,1191.7L1478,1185.1L1471.7,1178.7L1465.5,1172.2L1458.9,1166.1L1452.4,1159.9L1446.1,1153.5L1439.9,1147L1433.6,1140.7L1427.8,1133.8L1421.5,1127.4L1415.1,1121.2L1408.8,1114.7L1402.5,1108.4L1395.7,1102.5L1389.1,1096.5L1382,1091L1374.9,1085.5L1367.4,1080.6L1359.6,1076.1L1351.7,1071.9L1343.5,1068.4L1335,1065.5L1326.5,1062.6L1317.8,1060.4L1308.9,1058.9L1300,1058.1L1291,1058.1L1282.1,1058.3L1273.1,1059.3L1264.3,1060.9L1255.8,1063.7L1247.3,1066.5L1239,1070L1231,1074.1L1223.4,1078.8L1216,1084L1209.2,1089.8L1202.4,1095.6L1196.1,1102L1190.4,1108.9L1184.8,1115.9L1180,1123.5L1174.8,1130.9L1170.7,1138.8L1166.8,1146.9L1163,1155L1160,1163.5L1156.9,1171.9L1154.3,1180.5L1152.1,1189.2L1150,1197.9L1148.6,1206.7L1147.4,1215.6L1147.2,1224.6L1147.3,1233.5L1148,1242.5L1149,1251.4L1150.7,1260.2L1152.6,1269Z" fill="#00DFFF" stroke="#000" stroke-width="1.6" stroke-linejoin="round"/>
<path d="M1163.7,1277.7L1164.7,1281.2L1165.7,1284.6L1166.8,1288L1168,1291.5L1169.2,1294.8L1170.4,1298.2L1171.8,1301.5L1173.2,1304.9L1174.6,1308.2L1176.1,1311.4L1177.7,1314.7L1179.3,1317.9L1181,1321.1L1182.7,1324.3L1184.5,1327.4L1186.3,1330.6L1188.3,1333.7L1190.2,1336.8L1192.3,1339.8L1194.4,1342.9L1196.5,1345.9L1198.8,1348.8L1201.1,1351.8L1203.4,1354.7L1205.8,1357.6L1208.3,1360.5L1210.9,1363.3L1213.5,1366.1L1216.2,1368.9L1218.9,1371.6L1221.8,1374.3L1224.7,1377L1227.7,1379.6L1230.7,1382.2L1233.8,1384.7L1237,1387.2L1240.3,1389.6L1243.6,1392L1247,1394.4L1250.5,1396.7L1254.1,1398.9L1257.7,1401.1L1261.5,1403.2L1265.3,1405.3L1269.1,1407.3L1273.1,1409.2L1277.1,1411.1L1281.2,1412.9L1285.4,1414.6L1289.7,1416.3L1294,1417.9L1298.4,1419.4L1302.9,1420.8L1307.5,1422.1L1312.1,1423.3L1316.8,1424.5L1321.6,1425.6L1326.4,1426.6L1331.3,1427.5L1336.3,1428.3L1341.3,1429.1L1346.5,1429.8L1351.7,1430.3L1356.9,1430.6L1362.3,1430.8L1367.6,1430.8L1373.1,1430.5L1378.5,1430L1384,1429.3L1389.4,1428.5L1394.9,1427.4L1400.4,1426.3L1405.9,1424.9L1411.3,1423.4L1416.7,1421.7L1422.1,1419.8L1427.4,1417.7L1432.7,1415.3L1437.8,1412.8L1442.9,1410L1447.8,1407L1452.7,1403.8L1457.3,1400.4L1461.9,1396.7L1466.2,1392.9L1470.3,1388.8L1474.3,1384.5L1478,1380.1L1481.5,1375.4L1484.7,1370.6L1487.7,1365.6L1490.4,1360.4L1492.8,1355.1L1494.9,1349.7L1496.8,1344.2L1498.3,1338.6L1499.6,1332.9L1500.6,1327.2L1501.3,1321.5L1501.8,1315.7L1501.9,1309.9L1501.9,1304.1L1501.6,1298.4L1501,1292.7L1500.2,1287L1499.2,1281.4L1497.9,1275.9L1496.5,1270.5L1494.8,1265.1L1493,1259.9L1491,1254.7L1488.9,1249.7L1486.7,1244.7L1484.3,1239.9L1481.8,1235.2L1479.3,1230.7L1476.7,1226.2L1474,1221.9L1471.3,1217.7L1468.6,1213.5L1465.8,1209.5L1463,1205.6L1460.2,1201.8L1457.4,1198.1L1454.6,1194.4L1451.8,1190.9L1449,1187.4L1446.2,1184L1443.3,1180.7L1440.5,1177.4L1437.6,1174.3L1434.8,1171.1L1431.9,1168.1L1429.1,1165.1L1426.2,1162.1L1423.3,1159.2L1420.4,1156.3L1417.5,1153.5L1414.6,1150.7L1411.7,1148L1408.8,1145.3L1405.9,1142.6L1402.9,1140L1400,1137.4L1397,1134.8L1394,1132.2L1390.9,1129.7L1387.9,1127.2L1384.8,1124.7L1381.7,1122.2L1378.5,1119.7L1375.3,1117.3L1372.1,1114.9L1368.8,1112.5L1365.5,1110.1L1362.1,1107.8L1358.7,1105.5L1355.2,1103.2L1351.6,1101L1348,1098.9L1344.3,1096.8L1340.5,1094.8L1336.7,1092.9L1332.7,1091.1L1328.8,1089.4L1324.7,1087.9L1320.6,1086.5L1316.4,1085.2L1312.1,1084.1L1307.8,1083.2L1303.5,1082.5L1299.1,1081.9L1294.7,1081.6L1290.3,1081.4L1285.9,1081.4L1281.5,1081.5L1277.1,1081.9L1272.7,1082.4L1268.3,1083L1264,1083.9L1259.7,1084.9L1255.4,1086.1L1251.2,1087.4L1247,1088.9L1242.9,1090.5L1238.9,1092.3L1234.9,1094.2L1231,1096.2L1227.2,1098.4L1223.5,1100.7L1219.8,1103.1L1216.3,1105.6L1212.8,1108.3L1209.4,1111L1206.1,1113.9L1203,1116.8L1199.9,1119.8L1196.9,1122.9L1194.1,1126.1L1191.3,1129.4L1188.7,1132.7L1186.1,1136.1L1183.7,1139.6L1181.4,1143.1L1179.2,1146.6L1177,1150.2L1175,1153.9L1173.2,1157.6L1171.4,1161.3L1169.7,1165L1168.1,1168.8L1166.7,1172.6L1165.3,1176.4L1164,1180.3L1162.8,1184.1L1161.7,1187.9L1160.7,1191.8L1159.8,1195.7L1158.9,1199.5L1158.2,1203.4L1157.5,1207.2L1157,1211.1L1156.5,1215L1156.2,1218.8L1156,1222.7L1155.9,1226.5L1155.9,1230.3L1156.1,1234.1L1156.3,1237.9L1156.7,1241.6L1157.1,1245.3L1157.6,1249L1158.2,1252.7L1158.8,1256.3L1159.5,1259.9L1160.2,1263.5L1161,1267.1L1161.8,1270.6L1162.7,1274.2Z" fill="#50FFAF" stroke="#000" stroke-width="1.6" stroke-linejoin="round"/>
<path d="M1188.4,1318.2L1190,1321.1L1191.7,1324L1193.5,1326.8L1195.3,1329.5L1197.1,1332.3L1199,1334.9L1200.9,1337.5L1202.9,1340.1L1204.9,1342.6L1206.9,1345.1L1209,1347.5L1211.1,1349.9L1213.2,1352.3L1215.4,1354.6L1217.6,1356.8L1219.8,1359.1L1222,1361.2L1224.3,1363.4L1226.6,1365.5L1229,1367.6L1231.4,1369.6L1233.8,1371.6L1236.2,1373.5L1238.7,1375.5L1241.2,1377.4L1243.7,1379.2L1246.3,1381L1248.9,1382.8L1251.5,1384.6L1254.2,1386.3L1256.9,1388L1259.6,1389.7L1262.4,1391.3L1265.2,1393L1268.1,1394.5L1270.9,1396.1L1273.9,1397.6L1276.9,1399.1L1279.9,1400.5L1283,1402L1286.1,1403.3L1289.2,1404.7L1292.5,1406L1295.7,1407.3L1299.1,1408.5L1302.4,1409.7L1305.9,1410.9L1309.3,1412L1312.9,1413.1L1316.5,1414.1L1320.2,1415.1L1323.9,1416L1327.7,1416.9L1331.5,1417.7L1335.4,1418.4L1339.4,1419.1L1343.4,1419.7L1347.5,1420.2L1351.6,1420.5L1355.8,1420.8L1360,1420.9L1364.2,1420.8L1368.5,1420.6L1372.8,1420.2L1377.2,1419.7L1381.5,1419L1385.8,1418.2L1390.2,1417.3L1394.5,1416.2L1398.9,1415L1403.2,1413.6L1407.5,1412.1L1411.7,1410.4L1415.9,1408.6L1420.1,1406.6L1424.2,1404.5L1428.3,1402.2L1432.2,1399.8L1436.1,1397.1L1439.9,1394.4L1443.6,1391.5L1447.2,1388.4L1450.6,1385.2L1453.9,1381.8L1457.1,1378.3L1460.1,1374.6L1463,1370.8L1465.7,1366.9L1468.2,1362.9L1470.6,1358.8L1472.7,1354.6L1474.7,1350.2L1476.5,1345.8L1478,1341.3L1479.3,1336.7L1480.4,1332.1L1481.3,1327.4L1481.9,1322.7L1482.3,1318L1482.4,1313.2L1482.3,1308.5L1481.9,1303.8L1481.4,1299.1L1480.7,1294.4L1479.8,1289.8L1478.7,1285.2L1477.5,1280.7L1476.1,1276.3L1474.6,1272L1473.1,1267.7L1471.4,1263.5L1469.6,1259.4L1467.8,1255.3L1465.8,1251.4L1463.8,1247.5L1461.8,1243.7L1459.7,1240L1457.5,1236.3L1455.3,1232.7L1453.1,1229.2L1450.8,1225.8L1448.6,1222.4L1446.3,1219.1L1444,1215.8L1441.7,1212.6L1439.3,1209.4L1437,1206.3L1434.6,1203.2L1432.3,1200.1L1429.9,1197.1L1427.5,1194.1L1425,1191.1L1422.6,1188.2L1420.1,1185.3L1417.6,1182.5L1415,1179.7L1412.4,1176.9L1409.8,1174.1L1407.1,1171.4L1404.4,1168.8L1401.6,1166.1L1398.8,1163.5L1396,1160.9L1393.1,1158.3L1390.2,1155.8L1387.2,1153.2L1384.2,1150.7L1381.2,1148.2L1378.1,1145.7L1375,1143.2L1371.8,1140.7L1368.5,1138.2L1365.3,1135.7L1361.9,1133.2L1358.5,1130.8L1355,1128.3L1351.4,1125.9L1347.7,1123.5L1344,1121.2L1340.1,1119L1336.2,1116.9L1332.2,1114.9L1328,1113L1323.8,1111.2L1319.5,1109.6L1315.2,1108.1L1310.8,1106.8L1306.3,1105.7L1301.7,1104.8L1297.1,1104.1L1292.5,1103.6L1287.9,1103.3L1283.2,1103.2L1278.5,1103.3L1273.8,1103.6L1269.2,1104.1L1264.6,1104.7L1259.9,1105.6L1255.4,1106.7L1250.9,1108L1246.4,1109.5L1242,1111.1L1237.7,1112.9L1233.4,1115L1229.3,1117.2L1225.2,1119.5L1221.3,1122.1L1217.5,1124.8L1213.8,1127.6L1210.2,1130.7L1206.8,1133.8L1203.5,1137.1L1200.3,1140.6L1197.3,1144.1L1194.5,1147.8L1191.8,1151.6L1189.3,1155.4L1186.9,1159.4L1184.7,1163.4L1182.7,1167.4L1180.8,1171.5L1179,1175.7L1177.4,1179.9L1175.9,1184.1L1174.6,1188.3L1173.3,1192.5L1172.2,1196.8L1171.2,1201L1170.3,1205.2L1169.5,1209.4L1168.9,1213.6L1168.3,1217.7L1167.9,1221.8L1167.5,1225.9L1167.3,1230L1167.2,1234L1167.2,1238L1167.3,1242L1167.5,1245.9L1167.8,1249.8L1168.2,1253.6L1168.6,1257.4L1169.1,1261.2L1169.7,1264.9L1170.4,1268.6L1171.1,1272.2L1171.9,1275.8L1172.8,1279.4L1173.7,1282.9L1174.7,1286.3L1175.8,1289.7L1177,1293.1L1178.2,1296.4L1179.5,1299.7L1180.8,1302.9L1182.2,1306.1L1183.7,1309.2L1185.2,1312.2L1186.8,1315.2Z" fill="#BFFF40" stroke="#000" stroke-width="1.6" stroke-linejoin="round"/>
<path d="M1200.5,1318.3L1202,1320.9L1203.6,1323.5L1205.2,1326L1206.8,1328.5L1208.5,1331L1210.2,1333.4L1212,1335.8L1213.8,1338.1L1215.6,1340.4L1217.5,1342.6L1219.4,1344.8L1221.4,1347L1223.3,1349.1L1225.3,1351.2L1227.4,1353.3L1229.4,1355.3L1231.5,1357.3L1233.7,1359.2L1235.8,1361.1L1238,1363L1240.3,1364.8L1242.5,1366.6L1244.8,1368.4L1247.1,1370.1L1249.5,1371.8L1251.8,1373.5L1254.2,1375.1L1256.7,1376.7L1259.2,1378.3L1261.7,1379.8L1264.2,1381.4L1266.8,1382.8L1269.4,1384.3L1272.1,1385.7L1274.7,1387.1L1277.5,1388.4L1280.2,1389.7L1283,1391L1285.9,1392.2L1288.8,1393.4L1291.7,1394.6L1294.7,1395.7L1297.7,1396.8L1300.7,1397.9L1303.9,1398.9L1307,1399.9L1310.2,1400.8L1313.5,1401.7L1316.8,1402.5L1320.1,1403.3L1323.5,1404L1327,1404.7L1330.5,1405.3L1334.1,1405.8L1337.7,1406.2L1341.3,1406.6L1345,1406.9L1348.7,1407L1352.4,1407.1L1356.2,1407.1L1360,1406.9L1363.9,1406.6L1367.7,1406.1L1371.6,1405.6L1375.5,1404.9L1379.3,1404L1383.2,1403L1387,1401.9L1390.8,1400.7L1394.6,1399.3L1398.4,1397.8L1402.1,1396.2L1405.8,1394.4L1409.4,1392.5L1413,1390.4L1416.5,1388.3L1419.9,1385.9L1423.2,1383.5L1426.5,1380.8L1429.6,1378.1L1432.6,1375.2L1435.5,1372.2L1438.3,1369.1L1441,1365.9L1443.5,1362.5L1445.8,1359L1448,1355.5L1450,1351.8L1451.9,1348.1L1453.6,1344.2L1455,1340.3L1456.3,1336.3L1457.4,1332.3L1458.3,1328.2L1459,1324.1L1459.5,1319.9L1459.8,1315.7L1459.8,1311.5L1459.6,1307.4L1459.3,1303.2L1458.8,1299.1L1458.1,1295L1457.2,1291L1456.3,1287L1455.3,1283L1454.1,1279.2L1452.9,1275.4L1451.6,1271.6L1450.2,1268L1448.8,1264.3L1447.4,1260.8L1445.8,1257.3L1444.2,1253.9L1442.6,1250.5L1440.9,1247.2L1439.2,1244L1437.4,1240.8L1435.5,1237.7L1433.7,1234.6L1431.7,1231.6L1429.8,1228.7L1427.8,1225.8L1425.7,1223L1423.6,1220.2L1421.5,1217.5L1419.4,1214.9L1417.2,1212.3L1415,1209.7L1412.8,1207.2L1410.5,1204.7L1408.3,1202.3L1406,1199.9L1403.8,1197.5L1401.5,1195.2L1399.2,1192.8L1396.9,1190.5L1394.7,1188.1L1392.4,1185.8L1390.1,1183.4L1387.8,1181.1L1385.4,1178.8L1383.1,1176.4L1380.7,1174.1L1378.2,1171.7L1375.8,1169.4L1373.2,1167.1L1370.7,1164.8L1368,1162.5L1365.3,1160.2L1362.6,1158L1359.8,1155.8L1356.9,1153.6L1354,1151.5L1350.9,1149.4L1347.9,1147.3L1344.7,1145.3L1341.5,1143.4L1338.1,1141.6L1334.8,1139.8L1331.3,1138.1L1327.8,1136.5L1324.2,1135L1320.5,1133.6L1316.8,1132.2L1313,1131L1309.2,1130L1305.3,1129L1301.4,1128.2L1297.4,1127.5L1293.3,1126.9L1289.3,1126.5L1285.2,1126.2L1281.1,1126.1L1277,1126.1L1272.9,1126.3L1268.8,1126.7L1264.6,1127.2L1260.6,1127.9L1256.5,1128.8L1252.5,1129.8L1248.5,1131L1244.6,1132.4L1240.7,1134L1237,1135.7L1233.3,1137.7L1229.7,1139.8L1226.2,1142L1222.8,1144.4L1219.5,1147L1216.4,1149.7L1213.4,1152.6L1210.5,1155.5L1207.7,1158.6L1205.1,1161.8L1202.6,1165.1L1200.2,1168.5L1198,1171.9L1195.9,1175.5L1194,1179.1L1192.2,1182.7L1190.6,1186.4L1189,1190.1L1187.6,1193.9L1186.3,1197.6L1185.2,1201.4L1184.1,1205.2L1183.2,1209L1182.4,1212.9L1181.8,1216.7L1181.2,1220.4L1180.8,1224.2L1180.4,1228L1180.2,1231.7L1180.1,1235.4L1180.1,1239.1L1180.1,1242.7L1180.3,1246.3L1180.5,1249.9L1180.8,1253.4L1181.1,1256.9L1181.5,1260.3L1182,1263.7L1182.5,1267.1L1183.1,1270.5L1183.8,1273.7L1184.5,1277L1185.3,1280.2L1186.1,1283.4L1187,1286.5L1188,1289.6L1189,1292.7L1190.1,1295.7L1191.2,1298.7L1192.4,1301.6L1193.6,1304.5L1194.9,1307.3L1196.2,1310.1L1197.6,1312.9L1199,1315.6Z" fill="#FFCF00" stroke="#000" stroke-width="1.6" stroke-linejoin="round"/>
<path d="M1431.3,1278L1430.3,1274.8L1429.2,1271.6L1428.1,1268.6L1426.8,1265.5L1425.5,1262.5L1424.1,1259.6L1422.7,1256.7L1421.2,1253.9L1419.7,1251.2L1418.1,1248.5L1416.5,1245.9L1414.8,1243.3L1413.1,1240.8L1411.4,1238.3L1409.7,1235.9L1407.9,1233.5L1406.1,1231.2L1404.3,1228.9L1402.5,1226.7L1400.7,1224.5L1398.9,1222.3L1397,1220.2L1395.2,1218.1L1393.3,1216L1391.5,1214L1389.6,1211.9L1387.7,1209.9L1385.8,1207.9L1383.9,1206L1382,1204L1380.1,1202.1L1378.1,1200.1L1376.2,1198.2L1374.2,1196.3L1372.2,1194.4L1370.1,1192.5L1368.1,1190.6L1366,1188.7L1363.9,1186.8L1361.7,1184.9L1359.5,1183.1L1357.3,1181.2L1355,1179.4L1352.7,1177.6L1350.3,1175.8L1347.9,1174L1345.4,1172.3L1342.9,1170.5L1340.3,1168.8L1337.7,1167.2L1335,1165.6L1332.2,1164L1329.4,1162.5L1326.5,1161.1L1323.6,1159.7L1320.6,1158.4L1317.5,1157.1L1314.4,1155.9L1311.2,1154.9L1308,1153.9L1304.7,1153L1301.4,1152.2L1298,1151.5L1294.6,1151L1291.2,1150.5L1287.8,1150.2L1284.3,1150L1280.8,1149.9L1277.3,1150L1273.8,1150.2L1270.2,1150.5L1266.7,1151L1263.3,1151.6L1259.8,1152.4L1256.4,1153.4L1253,1154.4L1249.6,1155.6L1246.3,1157L1243.1,1158.5L1240,1160.1L1236.9,1161.9L1233.9,1163.8L1230.9,1165.9L1228.1,1168L1225.4,1170.3L1222.7,1172.7L1220.2,1175.2L1217.8,1177.8L1215.5,1180.5L1213.3,1183.3L1211.3,1186.2L1209.3,1189.2L1207.5,1192.2L1205.8,1195.3L1204.3,1198.4L1202.8,1201.6L1201.5,1204.8L1200.3,1208.1L1199.2,1211.4L1198.3,1214.7L1197.4,1218L1196.7,1221.4L1196.1,1224.7L1195.6,1228L1195.2,1231.4L1195,1234.7L1194.8,1238L1194.7,1241.2L1194.7,1244.5L1194.8,1247.7L1195,1250.9L1195.2,1254L1195.5,1257.2L1195.9,1260.2L1196.3,1263.3L1196.8,1266.3L1197.4,1269.3L1198,1272.2L1198.6,1275.1L1199.3,1278L1200,1280.8L1200.8,1283.6L1201.7,1286.4L1202.5,1289.1L1203.4,1291.8L1204.4,1294.4L1205.4,1297L1206.4,1299.6L1207.5,1302.1L1208.6,1304.6L1209.7,1307.1L1210.9,1309.6L1212.1,1312L1213.3,1314.3L1214.6,1316.7L1215.9,1319L1217.3,1321.3L1218.7,1323.5L1220.1,1325.7L1221.6,1327.9L1223.1,1330L1224.6,1332.1L1226.2,1334.2L1227.9,1336.2L1229.5,1338.2L1231.2,1340.2L1233,1342.1L1234.7,1344L1236.6,1345.8L1238.4,1347.6L1240.3,1349.3L1242.2,1351.1L1244.2,1352.7L1246.1,1354.4L1248.2,1356L1250.2,1357.6L1252.3,1359.1L1254.4,1360.6L1256.5,1362L1258.7,1363.5L1260.8,1364.9L1263.1,1366.2L1265.3,1367.5L1267.5,1368.9L1269.8,1370.1L1272.2,1371.4L1274.5,1372.6L1276.9,1373.8L1279.3,1375L1281.7,1376.1L1284.2,1377.2L1286.7,1378.3L1289.2,1379.4L1291.8,1380.4L1294.4,1381.5L1297,1382.4L1299.7,1383.4L1302.4,1384.3L1305.2,1385.2L1308,1386.1L1310.9,1386.9L1313.7,1387.6L1316.7,1388.4L1319.7,1389L1322.7,1389.7L1325.8,1390.2L1328.9,1390.7L1332,1391.1L1335.2,1391.5L1338.5,1391.7L1341.7,1391.9L1345,1392L1348.3,1392L1351.7,1391.9L1355,1391.7L1358.4,1391.4L1361.8,1390.9L1365.2,1390.4L1368.6,1389.7L1371.9,1388.9L1375.3,1387.9L1378.6,1386.8L1381.9,1385.6L1385.2,1384.3L1388.4,1382.8L1391.5,1381.2L1394.6,1379.5L1397.7,1377.6L1400.6,1375.6L1403.5,1373.5L1406.3,1371.3L1408.9,1368.9L1411.5,1366.4L1414,1363.8L1416.3,1361.1L1418.6,1358.3L1420.7,1355.4L1422.7,1352.5L1424.5,1349.4L1426.2,1346.2L1427.8,1343L1429.2,1339.8L1430.5,1336.4L1431.6,1333L1432.6,1329.6L1433.5,1326.2L1434.2,1322.7L1434.7,1319.2L1435.1,1315.7L1435.4,1312.1L1435.5,1308.6L1435.6,1305.1L1435.4,1301.6L1435.2,1298.1L1434.8,1294.7L1434.3,1291.3L1433.7,1287.9L1433,1284.6L1432.2,1281.3Z" fill="#FF6000" stroke="#000" stroke-width="1.6" stroke-linejoin="round"/>
<path d="M1405.4,1278L1404.5,1275.5L1403.5,1273L1402.5,1270.6L1401.4,1268.2L1400.3,1265.8L1399.1,1263.6L1397.9,1261.3L1396.7,1259.2L1395.4,1257L1394.1,1254.9L1392.8,1252.9L1391.4,1250.9L1390,1249L1388.6,1247L1387.2,1245.2L1385.8,1243.4L1384.4,1241.6L1383,1239.8L1381.5,1238.1L1380.1,1236.4L1378.6,1234.7L1377.2,1233.1L1375.7,1231.5L1374.3,1229.9L1372.8,1228.3L1371.3,1226.7L1369.9,1225.2L1368.4,1223.6L1366.9,1222.1L1365.4,1220.6L1363.9,1219.1L1362.4,1217.6L1360.9,1216.1L1359.3,1214.6L1357.8,1213.1L1356.2,1211.6L1354.6,1210.1L1353,1208.7L1351.4,1207.2L1349.7,1205.7L1348,1204.3L1346.3,1202.8L1344.6,1201.4L1342.8,1199.9L1340.9,1198.5L1339.1,1197.1L1337.2,1195.7L1335.2,1194.3L1333.2,1192.9L1331.2,1191.6L1329.1,1190.3L1326.9,1189L1324.7,1187.8L1322.5,1186.6L1320.2,1185.4L1317.8,1184.3L1315.5,1183.3L1313,1182.3L1310.5,1181.4L1308,1180.5L1305.4,1179.7L1302.8,1179L1300.2,1178.3L1297.5,1177.8L1294.7,1177.3L1292,1177L1289.2,1176.7L1286.4,1176.5L1283.6,1176.4L1280.8,1176.5L1278,1176.6L1275.1,1176.9L1272.3,1177.2L1269.5,1177.7L1266.7,1178.3L1263.9,1179L1261.2,1179.9L1258.5,1180.8L1255.8,1181.9L1253.2,1183.1L1250.6,1184.3L1248.1,1185.7L1245.6,1187.3L1243.2,1188.9L1240.9,1190.6L1238.7,1192.4L1236.5,1194.3L1234.4,1196.3L1232.5,1198.4L1230.6,1200.6L1228.8,1202.8L1227,1205.1L1225.4,1207.5L1223.9,1209.9L1222.5,1212.4L1221.2,1215L1220,1217.5L1218.9,1220.1L1217.9,1222.8L1217,1225.5L1216.2,1228.2L1215.5,1230.9L1214.8,1233.6L1214.3,1236.3L1213.9,1239L1213.6,1241.8L1213.3,1244.5L1213.1,1247.2L1213,1249.9L1213,1252.6L1213.1,1255.2L1213.2,1257.9L1213.4,1260.5L1213.6,1263.1L1213.9,1265.6L1214.3,1268.2L1214.7,1270.7L1215.2,1273.1L1215.7,1275.6L1216.3,1278L1216.9,1280.4L1217.6,1282.7L1218.2,1285.1L1219,1287.4L1219.8,1289.6L1220.6,1291.8L1221.4,1294.1L1222.3,1296.2L1223.2,1298.4L1224.1,1300.5L1225.1,1302.6L1226.1,1304.6L1227.2,1306.6L1228.2,1308.6L1229.3,1310.6L1230.5,1312.5L1231.7,1314.4L1232.9,1316.3L1234.1,1318.1L1235.4,1319.9L1236.7,1321.7L1238,1323.5L1239.3,1325.2L1240.7,1326.9L1242.1,1328.5L1243.6,1330.2L1245.1,1331.8L1246.6,1333.3L1248.1,1334.8L1249.7,1336.3L1251.2,1337.8L1252.9,1339.2L1254.5,1340.6L1256.2,1342L1257.9,1343.4L1259.6,1344.7L1261.3,1345.9L1263.1,1347.2L1264.8,1348.4L1266.6,1349.6L1268.5,1350.8L1270.3,1352L1272.2,1353.1L1274.1,1354.2L1276,1355.3L1277.9,1356.3L1279.9,1357.3L1281.9,1358.4L1283.9,1359.3L1285.9,1360.3L1288,1361.3L1290.1,1362.2L1292.2,1363.1L1294.4,1364L1296.6,1364.8L1298.8,1365.6L1301,1366.4L1303.3,1367.2L1305.6,1367.9L1308,1368.6L1310.4,1369.3L1312.8,1369.9L1315.3,1370.5L1317.8,1371L1320.3,1371.5L1322.9,1371.9L1325.5,1372.3L1328.1,1372.6L1330.8,1372.8L1333.5,1373L1336.2,1373.1L1338.9,1373.1L1341.6,1373L1344.4,1372.9L1347.2,1372.6L1350,1372.3L1352.7,1371.9L1355.5,1371.3L1358.3,1370.7L1361,1369.9L1363.8,1369.1L1366.5,1368.1L1369.1,1367L1371.8,1365.8L1374.4,1364.5L1376.9,1363.1L1379.4,1361.6L1381.8,1359.9L1384.1,1358.2L1386.4,1356.4L1388.6,1354.5L1390.7,1352.4L1392.7,1350.3L1394.6,1348.1L1396.4,1345.8L1398.1,1343.5L1399.7,1341L1401.2,1338.5L1402.6,1336L1403.8,1333.3L1405,1330.7L1406,1327.9L1406.9,1325.2L1407.7,1322.4L1408.3,1319.6L1408.9,1316.7L1409.3,1313.9L1409.6,1311L1409.8,1308.2L1409.9,1305.3L1409.9,1302.5L1409.8,1299.6L1409.5,1296.8L1409.2,1294L1408.8,1291.3L1408.3,1288.5L1407.7,1285.8L1407,1283.2L1406.2,1280.6Z" fill="#EF0000" stroke="#000" stroke-width="1.6" stroke-linejoin="round"/>
<path d="M1372.9,1278L1372.3,1276.3L1371.6,1274.7L1370.9,1273.1L1370.2,1271.5L1369.4,1269.9L1368.6,1268.4L1367.9,1266.9L1367.1,1265.4L1366.2,1264L1365.4,1262.6L1364.6,1261.2L1363.7,1259.9L1362.9,1258.6L1362,1257.3L1361.1,1256L1360.2,1254.7L1359.3,1253.5L1358.5,1252.3L1357.6,1251.1L1356.6,1249.9L1355.7,1248.8L1354.8,1247.6L1353.9,1246.5L1352.9,1245.4L1352,1244.2L1351,1243.2L1350.1,1242.1L1349.1,1241L1348.1,1240L1347.1,1238.9L1346.1,1237.9L1345.1,1236.8L1344,1235.8L1343,1234.8L1341.9,1233.8L1340.8,1232.8L1339.7,1231.9L1338.6,1230.9L1337.4,1230L1336.3,1229L1335.1,1228.1L1333.9,1227.1L1332.7,1226.2L1331.5,1225.3L1330.2,1224.4L1328.9,1223.5L1327.6,1222.7L1326.3,1221.8L1324.9,1220.9L1323.5,1220.1L1322.1,1219.3L1320.6,1218.5L1319.2,1217.7L1317.7,1217L1316.1,1216.2L1314.6,1215.5L1313,1214.8L1311.3,1214.2L1309.7,1213.5L1308,1213L1306.3,1212.4L1304.5,1211.9L1302.8,1211.4L1301,1211L1299.1,1210.6L1297.3,1210.3L1295.4,1210L1293.5,1209.8L1291.6,1209.6L1289.7,1209.5L1287.7,1209.5L1285.8,1209.5L1283.8,1209.6L1281.8,1209.8L1279.9,1210.1L1277.9,1210.4L1275.9,1210.8L1274,1211.3L1272.1,1211.8L1270.2,1212.5L1268.3,1213.2L1266.4,1214L1264.6,1214.9L1262.8,1215.9L1261.1,1216.9L1259.4,1218L1257.8,1219.2L1256.2,1220.5L1254.6,1221.8L1253.2,1223.2L1251.8,1224.6L1250.4,1226.2L1249.1,1227.7L1247.9,1229.4L1246.8,1231L1245.7,1232.8L1244.7,1234.5L1243.8,1236.3L1243,1238.2L1242.2,1240L1241.5,1241.9L1240.9,1243.8L1240.3,1245.7L1239.9,1247.7L1239.5,1249.6L1239.1,1251.6L1238.9,1253.5L1238.6,1255.5L1238.5,1257.4L1238.4,1259.4L1238.4,1261.3L1238.4,1263.2L1238.5,1265.1L1238.7,1267L1238.8,1268.9L1239.1,1270.8L1239.4,1272.6L1239.7,1274.4L1240,1276.2L1240.4,1278L1240.9,1279.8L1241.3,1281.5L1241.8,1283.2L1242.3,1284.9L1242.9,1286.6L1243.5,1288.2L1244.1,1289.8L1244.7,1291.5L1245.4,1293L1246.1,1294.6L1246.8,1296.1L1247.5,1297.7L1248.3,1299.2L1249,1300.6L1249.9,1302.1L1250.7,1303.5L1251.5,1304.9L1252.4,1306.3L1253.3,1307.7L1254.2,1309L1255.2,1310.4L1256.1,1311.7L1257.1,1313L1258.2,1314.2L1259.2,1315.4L1260.3,1316.7L1261.3,1317.8L1262.5,1319L1263.6,1320.2L1264.7,1321.3L1265.9,1322.4L1267.1,1323.4L1268.3,1324.5L1269.5,1325.5L1270.8,1326.5L1272.1,1327.5L1273.4,1328.4L1274.7,1329.3L1276,1330.3L1277.3,1331.1L1278.7,1332L1280.1,1332.8L1281.4,1333.7L1282.9,1334.5L1284.3,1335.3L1285.7,1336L1287.2,1336.8L1288.7,1337.5L1290.2,1338.2L1291.7,1338.9L1293.2,1339.6L1294.8,1340.3L1296.3,1340.9L1297.9,1341.6L1299.6,1342.2L1301.2,1342.7L1302.9,1343.3L1304.5,1343.8L1306.3,1344.4L1308,1344.8L1309.8,1345.3L1311.5,1345.7L1313.4,1346.1L1315.2,1346.5L1317.1,1346.8L1318.9,1347L1320.8,1347.2L1322.8,1347.4L1324.7,1347.5L1326.6,1347.6L1328.6,1347.6L1330.6,1347.5L1332.6,1347.4L1334.6,1347.2L1336.6,1346.9L1338.5,1346.6L1340.5,1346.2L1342.5,1345.7L1344.5,1345.1L1346.4,1344.5L1348.3,1343.8L1350.2,1343L1352,1342.1L1353.8,1341.1L1355.6,1340.1L1357.3,1338.9L1359,1337.7L1360.6,1336.5L1362.2,1335.1L1363.7,1333.7L1365.1,1332.2L1366.5,1330.6L1367.7,1329L1368.9,1327.4L1370.1,1325.6L1371.1,1323.9L1372.1,1322L1372.9,1320.2L1373.7,1318.3L1374.4,1316.4L1375.1,1314.4L1375.6,1312.4L1376,1310.5L1376.4,1308.5L1376.7,1306.5L1376.9,1304.4L1377,1302.4L1377.1,1300.4L1377.1,1298.5L1377,1296.5L1376.8,1294.5L1376.6,1292.6L1376.3,1290.7L1376,1288.8L1375.6,1286.9L1375.1,1285.1L1374.6,1283.2L1374.1,1281.5L1373.5,1279.7Z" fill="#800000" stroke="#000" stroke-width="1.6" stroke-linejoin="round"/>
<rect x="1000.0" y="861.5" width="725.2" height="725.7" fill="url(#streak)"/>
<rect x="1000.0" y="861.5" width="9" height="725.7" fill="url(#edge)"/>
</g>
<text transform="translate(1000,1632.9) scale(0.91,1)" text-anchor="middle" class="t">0</text>
<path d="M1151.1,1587.2 v-7 M1151.1,861.5 v7" stroke="#262626" stroke-width="1.4" fill="none"/>
<text transform="translate(1151.1,1632.9) scale(0.91,1)" text-anchor="middle" class="t">50</text>
<path d="M1302.2,1587.2 v-7 M1302.2,861.5 v7" stroke="#262626" stroke-width="1.4" fill="none"/>
<text transform="translate(1302.2,1632.9) scale(0.91,1)" text-anchor="middle" class="t">100</text>
<path d="M1453.2,1587.2 v-7 M1453.2,861.5 v7" stroke="#262626" stroke-width="1.4" fill="none"/>
<text transform="translate(1453.2,1632.9) scale(0.91,1)" text-anchor="middle" class="t">150</text>
<path d="M1604.3,1587.2 v-7 M1604.3,861.5 v7" stroke="#262626" stroke-width="1.4" fill="none"/>
<text transform="translate(1604.3,1632.9) scale(0.91,1)" text-anchor="middle" class="t">200</text>
<text transform="translate(986.8,1600) scale(0.91,1)" text-anchor="end" class="t">0</text>
<path d="M1000.0,1436 h7 M1725.2,1436 h-7" stroke="#262626" stroke-width="1.4" fill="none"/>
<text transform="translate(986.8,1448.8) scale(0.91,1)" text-anchor="end" class="t">50</text>
<path d="M1000.0,1284.8 h7 M1725.2,1284.8 h-7" stroke="#262626" stroke-width="1.4" fill="none"/>
<text transform="translate(986.8,1297.6) scale(0.91,1)" text-anchor="end" class="t">100</text>
<path d="M1000.0,1133.6 h7 M1725.2,1133.6 h-7" stroke="#262626" stroke-width="1.4" fill="none"/>
<text transform="translate(986.8,1146.4) scale(0.91,1)" text-anchor="end" class="t">150</text>
<path d="M1000.0,982.5 h7 M1725.2,982.5 h-7" stroke="#262626" stroke-width="1.4" fill="none"/>
<text transform="translate(986.8,995.2) scale(0.91,1)" text-anchor="end" class="t">200</text>
<rect x="1000.0" y="861.5" width="725.2" height="725.7" fill="none" stroke="#262626" stroke-width="1.5"/>
<rect x="1768.1" y="861.50" width="40.600000000000136" height="725.70" fill="#800000"/>
<rect x="1768.1" y="872.84" width="40.600000000000136" height="714.36" fill="#8F0000"/>
<rect x="1768.1" y="884.18" width="40.600000000000136" height="703.02" fill="#9F0000"/>
<rect x="1768.1" y="895.52" width="40.600000000000136" height="691.68" fill="#AF0000"/>
<rect x="1768.1" y="906.86" width="40.600000000000136" height="680.34" fill="#BF0000"/>
<rect x="1768.1" y="918.20" width="40.600000000000136" height="669.00" fill="#CF0000"/>
<rect x="1768.1" y="929.53" width="40.600000000000136" height="657.67" fill="#DF0000"/>
<rect x="1768.1" y="940.87" width="40.600000000000136" height="646.33" fill="#EF0000"/>
<rect x="1768.1" y="952.21" width="40.600000000000136" height="634.99" fill="#FF0000"/>
<rect x="1768.1" y="963.55" width="40.600000000000136" height="623.65" fill="#FF1000"/>
<rect x="1768.1" y="974.89" width="40.600000000000136" height="612.31" fill="#FF2000"/>
<rect x="1768.1" y="986.23" width="40.600000000000136" height="600.97" fill="#FF3000"/>
<rect x="1768.1" y="997.57" width="40.600000000000136" height="589.63" fill="#FF4000"/>
<rect x="1768.1" y="1008.91" width="40.600000000000136" height="578.29" fill="#FF5000"/>
<rect x="1768.1" y="1020.25" width="40.600000000000136" height="566.95" fill="#FF6000"/>
<rect x="1768.1" y="1031.59" width="40.600000000000136" height="555.61" fill="#FF7000"/>
<rect x="1768.1" y="1042.92" width="40.600000000000136" height="544.28" fill="#FF8000"/>
<rect x="1768.1" y="1054.26" width="40.600000000000136" height="532.94" fill="#FF8F00"/>
<rect x="1768.1" y="1065.60" width="40.600000000000136" height="521.60" fill="#FF9F00"/>
<rect x="1768.1" y="1076.94" width="40.600000000000136" height="510.26" fill="#FFAF00"/>
<rect x="1768.1" y="1088.28" width="40.600000000000136" height="498.92" fill="#FFBF00"/>
<rect x="1768.1" y="1099.62" width="40.600000000000136" height="487.58" fill="#FFCF00"/>
<rect x="1768.1" y="1110.96" width="40.600000000000136" height="476.24" fill="#FFDF00"/>
<rect x="1768.1" y="1122.30" width="40.600000000000136" height="464.90" fill="#FFEF00"/>
<rect x="1768.1" y="1133.64" width="40.600000000000136" height="453.56" fill="#FFFF00"/>
<rect x="1768.1" y="1144.98" width="40.600000000000136" height="442.22" fill="#EFFF10"/>
<rect x="1768.1" y="1156.32" width="40.600000000000136" height="430.88" fill="#DFFF20"/>
<rect x="1768.1" y="1167.65" width="40.600000000000136" height="419.55" fill="#CFFF30"/>
<rect x="1768.1" y="1178.99" width="40.600000000000136" height="408.21" fill="#BFFF40"/>
<rect x="1768.1" y="1190.33" width="40.600000000000136" height="396.87" fill="#AFFF50"/>
<rect x="1768.1" y="1201.67" width="40.600000000000136" height="385.53" fill="#9FFF60"/>
<rect x="1768.1" y="1213.01" width="40.600000000000136" height="374.19" fill="#8FFF70"/>
<rect x="1768.1" y="1224.35" width="40.600000000000136" height="362.85" fill="#80FF80"/>
<rect x="1768.1" y="1235.69" width="40.600000000000136" height="351.51" fill="#70FF8F"/>
<rect x="1768.1" y="1247.03" width="40.600000000000136" height="340.17" fill="#60FF9F"/>
<rect x="1768.1" y="1258.37" width="40.600000000000136" height="328.83" fill="#50FFAF"/>
<rect x="1768.1" y="1269.71" width="40.600000000000136" height="317.49" fill="#40FFBF"/>
<rect x="1768.1" y="1281.05" width="40.600000000000136" height="306.15" fill="#30FFCF"/>
<rect x="1768.1" y="1292.38" width="40.600000000000136" height="294.82" fill="#20FFDF"/>
<rect x="1768.1" y="1303.72" width="40.600000000000136" height="283.48" fill="#10FFEF"/>
<rect x="1768.1" y="1315.06" width="40.600000000000136" height="272.14" fill="#00FFFF"/>
<rect x="1768.1" y="1326.40" width="40.600000000000136" height="260.80" fill="#00EFFF"/>
<rect x="1768.1" y="1337.74" width="40.600000000000136" height="249.46" fill="#00DFFF"/>
<rect x="1768.1" y="1349.08" width="40.600000000000136" height="238.12" fill="#00CFFF"/>
<rect x="1768.1" y="1360.42" width="40.600000000000136" height="226.78" fill="#00BFFF"/>
<rect x="1768.1" y="1371.76" width="40.600000000000136" height="215.44" fill="#00AFFF"/>
<rect x="1768.1" y="1383.10" width="40.600000000000136" height="204.10" fill="#009FFF"/>
<rect x="1768.1" y="1394.44" width="40.600000000000136" height="192.76" fill="#008FFF"/>
<rect x="1768.1" y="1405.78" width="40.600000000000136" height="181.42" fill="#0080FF"/>
<rect x="1768.1" y="1417.11" width="40.600000000000136" height="170.09" fill="#0070FF"/>
<rect x="1768.1" y="1428.45" width="40.600000000000136" height="158.75" fill="#0060FF"/>
<rect x="1768.1" y="1439.79" width="40.600000000000136" height="147.41" fill="#0050FF"/>
<rect x="1768.1" y="1451.13" width="40.600000000000136" height="136.07" fill="#0040FF"/>
<rect x="1768.1" y="1462.47" width="40.600000000000136" height="124.73" fill="#0030FF"/>
<rect x="1768.1" y="1473.81" width="40.600000000000136" height="113.39" fill="#0020FF"/>
<rect x="1768.1" y="1485.15" width="40.600000000000136" height="102.05" fill="#0010FF"/>
<rect x="1768.1" y="1496.49" width="40.600000000000136" height="90.71" fill="#0000FF"/>
<rect x="1768.1" y="1507.83" width="40.600000000000136" height="79.37" fill="#0000EF"/>
<rect x="1768.1" y="1519.17" width="40.600000000000136" height="68.03" fill="#0000DF"/>
<rect x="1768.1" y="1530.50" width="40.600000000000136" height="56.70" fill="#0000CF"/>
<rect x="1768.1" y="1541.84" width="40.600000000000136" height="45.36" fill="#0000BF"/>
<rect x="1768.1" y="1553.18" width="40.600000000000136" height="34.02" fill="#0000AF"/>
<rect x="1768.1" y="1564.52" width="40.600000000000136" height="22.68" fill="#00009F"/>
<rect x="1768.1" y="1575.86" width="40.600000000000136" height="11.34" fill="#00008F"/>
<path d="M1768.1,1500.1 h7 M1808.7,1500.1 h-7" stroke="#262626" stroke-width="1.3" fill="none"/>
<text transform="translate(1820.5,1510.7) scale(0.95,1)" class="c">1</text>
<path d="M1768.1,1336.6 h7 M1808.7,1336.6 h-7" stroke="#262626" stroke-width="1.3" fill="none"/>
<text transform="translate(1820.5,1347.2) scale(0.95,1)" class="c">2</text>
<path d="M1768.1,1173.5 h7 M1808.7,1173.5 h-7" stroke="#262626" stroke-width="1.3" fill="none"/>
<text transform="translate(1820.5,1184.1) scale(0.95,1)" class="c">3</text>
<path d="M1768.1,1010.2 h7 M1808.7,1010.2 h-7" stroke="#262626" stroke-width="1.3" fill="none"/>
<text transform="translate(1820.5,1020.8) scale(0.95,1)" class="c">4</text>
<rect x="1768.1" y="861.5" width="40.600000000000136" height="725.7" fill="none" stroke="#262626" stroke-width="1.5"/>
<text transform="translate(1390,1698) scale(0.975,1)" text-anchor="middle" class="L">d</text>
</g>
</svg></body></html>
